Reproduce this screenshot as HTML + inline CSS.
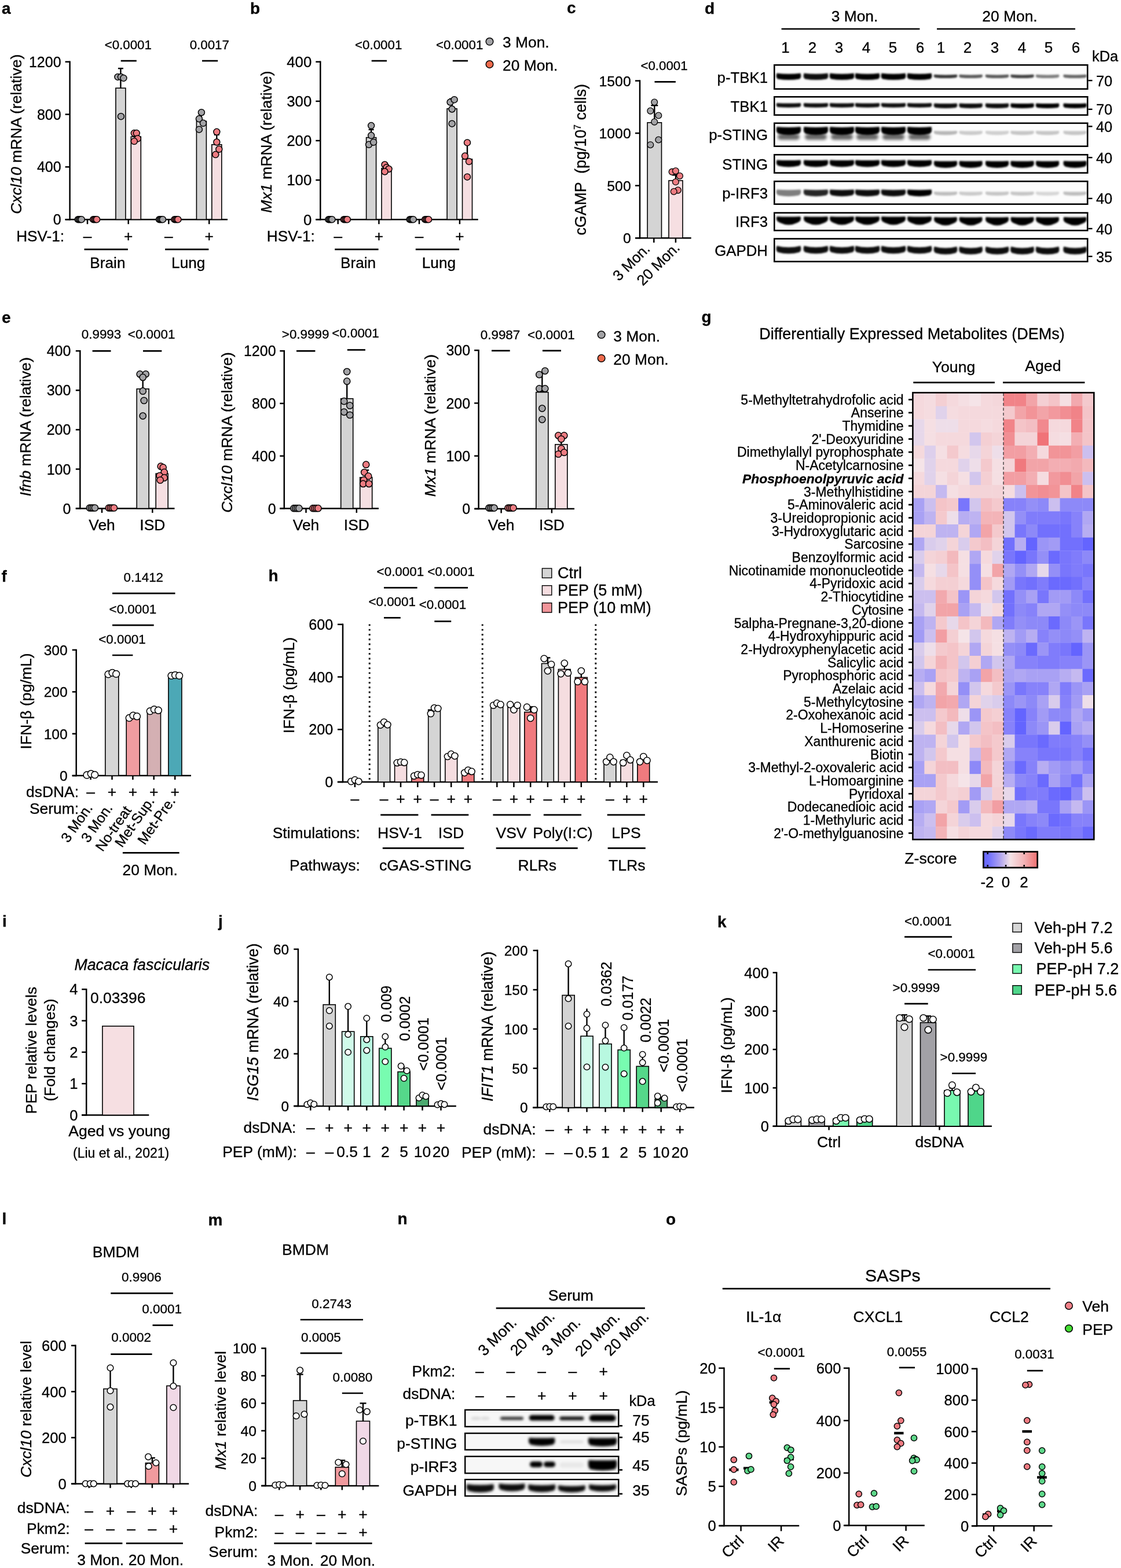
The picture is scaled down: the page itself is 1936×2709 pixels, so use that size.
<!DOCTYPE html><html><head><meta charset="utf-8"><title>Figure</title><style>html,body{margin:0;padding:0;background:#fff}svg{display:block}text{stroke:#000;stroke-width:0.3px}</style></head><body><svg width="1936" height="2709" viewBox="0 0 1936 2709" font-family="'Liberation Sans', Arial, Helvetica, sans-serif"><defs><filter id="bl" x="-30%" y="-100%" width="160%" height="300%"><feGaussianBlur stdDeviation="1.7"/></filter><filter id="bl3" x="-30%" y="-100%" width="160%" height="300%"><feGaussianBlur stdDeviation="2.1"/></filter><filter id="bl2" x="-30%" y="-100%" width="160%" height="300%"><feGaussianBlur stdDeviation="2.6"/></filter><linearGradient id="zg" x1="0" x2="1" y1="0" y2="0"><stop offset="0" stop-color="#6464ff"/><stop offset="0.1" stop-color="#7070ff"/><stop offset="0.3" stop-color="#aca0f0"/><stop offset="0.5" stop-color="#f5e3e6"/><stop offset="0.75" stop-color="#f3b3b6"/><stop offset="1" stop-color="#ef7070"/></linearGradient></defs><rect width="100%" height="100%" fill="#fff"/><text x="3.0" y="24.0" font-size="28" font-weight="bold">a</text>
<text x="432.0" y="24.0" font-size="28" font-weight="bold">b</text>
<text x="979.0" y="23.0" font-size="28" font-weight="bold">c</text>
<text x="1217.0" y="24.0" font-size="28" font-weight="bold">d</text>
<line x1="120.6" y1="105.5" x2="120.6" y2="380.4" stroke="#000" stroke-width="2.5"/>
<line x1="112.6" y1="379.2" x2="120.6" y2="379.2" stroke="#000" stroke-width="2.5"/>
<text x="105.6" y="388.2" font-size="25" text-anchor="end">0</text>
<line x1="112.6" y1="288.4" x2="120.6" y2="288.4" stroke="#000" stroke-width="2.5"/>
<text x="105.6" y="297.4" font-size="25" text-anchor="end">400</text>
<line x1="112.6" y1="197.6" x2="120.6" y2="197.6" stroke="#000" stroke-width="2.5"/>
<text x="105.6" y="206.6" font-size="25" text-anchor="end">800</text>
<line x1="112.6" y1="106.8" x2="120.6" y2="106.8" stroke="#000" stroke-width="2.5"/>
<text x="105.6" y="115.8" font-size="25" text-anchor="end">1200</text>
<line x1="112.6" y1="379.2" x2="393.0" y2="379.2" stroke="#000" stroke-width="2.5"/>
<line x1="151.0" y1="379.2" x2="151.0" y2="387.2" stroke="#000" stroke-width="2.5"/>
<line x1="221.7" y1="379.2" x2="221.7" y2="387.2" stroke="#000" stroke-width="2.5"/>
<line x1="291.3" y1="379.2" x2="291.3" y2="387.2" stroke="#000" stroke-width="2.5"/>
<line x1="361.2" y1="379.2" x2="361.2" y2="387.2" stroke="#000" stroke-width="2.5"/>
<circle cx="134.7" cy="379.2" r="5.5" fill="#a3a3a6" stroke="#000" stroke-width="1.5"/>
<circle cx="136.7" cy="379.2" r="5.5" fill="#a3a3a6" stroke="#000" stroke-width="1.5"/>
<circle cx="138.7" cy="379.2" r="5.5" fill="#a3a3a6" stroke="#000" stroke-width="1.5"/>
<circle cx="140.7" cy="379.2" r="5.5" fill="#a3a3a6" stroke="#000" stroke-width="1.5"/>
<circle cx="161.1" cy="379.2" r="5.5" fill="#ee7c82" stroke="#000" stroke-width="1.5"/>
<circle cx="163.1" cy="379.2" r="5.5" fill="#ee7c82" stroke="#000" stroke-width="1.5"/>
<circle cx="165.1" cy="379.2" r="5.5" fill="#ee7c82" stroke="#000" stroke-width="1.5"/>
<circle cx="167.1" cy="379.2" r="5.5" fill="#ee7c82" stroke="#000" stroke-width="1.5"/>
<rect x="199.9" y="152.2" width="17.0" height="227.0" fill="#d4d4d4" stroke="#000" stroke-width="1.6"/>
<line x1="208.4" y1="152.2" x2="208.4" y2="118.2" stroke="#000" stroke-width="2.4"/>
<line x1="203.9" y1="118.2" x2="212.9" y2="118.2" stroke="#000" stroke-width="2.4"/>
<circle cx="203.4" cy="132.9" r="5.5" fill="#a3a3a6" stroke="#000" stroke-width="1.5"/>
<circle cx="208.9" cy="132.9" r="5.5" fill="#a3a3a6" stroke="#000" stroke-width="1.5"/>
<circle cx="213.4" cy="134.9" r="5.5" fill="#a3a3a6" stroke="#000" stroke-width="1.5"/>
<circle cx="208.9" cy="201.2" r="5.5" fill="#a3a3a6" stroke="#000" stroke-width="1.5"/>
<rect x="226.3" y="236.2" width="17.0" height="143.0" fill="#f6dfe2" stroke="#000" stroke-width="1.6"/>
<line x1="234.8" y1="236.2" x2="234.8" y2="230.5" stroke="#000" stroke-width="2.4"/>
<line x1="230.3" y1="230.5" x2="239.3" y2="230.5" stroke="#000" stroke-width="2.4"/>
<circle cx="231.8" cy="230.1" r="5.5" fill="#ee7c82" stroke="#000" stroke-width="1.5"/>
<circle cx="235.8" cy="230.1" r="5.5" fill="#ee7c82" stroke="#000" stroke-width="1.5"/>
<circle cx="237.8" cy="239.4" r="5.5" fill="#ee7c82" stroke="#000" stroke-width="1.5"/>
<circle cx="231.8" cy="244.1" r="5.5" fill="#ee7c82" stroke="#000" stroke-width="1.5"/>
<circle cx="275.0" cy="379.2" r="5.5" fill="#a3a3a6" stroke="#000" stroke-width="1.5"/>
<circle cx="277.0" cy="379.2" r="5.5" fill="#a3a3a6" stroke="#000" stroke-width="1.5"/>
<circle cx="279.0" cy="379.2" r="5.5" fill="#a3a3a6" stroke="#000" stroke-width="1.5"/>
<circle cx="281.0" cy="379.2" r="5.5" fill="#a3a3a6" stroke="#000" stroke-width="1.5"/>
<circle cx="301.4" cy="379.2" r="5.5" fill="#ee7c82" stroke="#000" stroke-width="1.5"/>
<circle cx="303.4" cy="379.2" r="5.5" fill="#ee7c82" stroke="#000" stroke-width="1.5"/>
<circle cx="305.4" cy="379.2" r="5.5" fill="#ee7c82" stroke="#000" stroke-width="1.5"/>
<circle cx="307.4" cy="379.2" r="5.5" fill="#ee7c82" stroke="#000" stroke-width="1.5"/>
<rect x="339.4" y="209.4" width="17.0" height="169.8" fill="#d4d4d4" stroke="#000" stroke-width="1.6"/>
<line x1="347.9" y1="209.4" x2="347.9" y2="198.1" stroke="#000" stroke-width="2.4"/>
<line x1="343.4" y1="198.1" x2="352.4" y2="198.1" stroke="#000" stroke-width="2.4"/>
<circle cx="347.9" cy="194.2" r="5.5" fill="#a3a3a6" stroke="#000" stroke-width="1.5"/>
<circle cx="343.9" cy="205.3" r="5.5" fill="#a3a3a6" stroke="#000" stroke-width="1.5"/>
<circle cx="350.9" cy="212.8" r="5.5" fill="#a3a3a6" stroke="#000" stroke-width="1.5"/>
<circle cx="343.9" cy="223.7" r="5.5" fill="#a3a3a6" stroke="#000" stroke-width="1.5"/>
<rect x="365.8" y="249.8" width="17.0" height="129.4" fill="#f6dfe2" stroke="#000" stroke-width="1.6"/>
<line x1="374.3" y1="249.8" x2="374.3" y2="232.8" stroke="#000" stroke-width="2.4"/>
<line x1="369.8" y1="232.8" x2="378.8" y2="232.8" stroke="#000" stroke-width="2.4"/>
<circle cx="374.3" cy="227.8" r="5.5" fill="#ee7c82" stroke="#000" stroke-width="1.5"/>
<circle cx="374.3" cy="245.5" r="5.5" fill="#ee7c82" stroke="#000" stroke-width="1.5"/>
<circle cx="378.3" cy="257.8" r="5.5" fill="#ee7c82" stroke="#000" stroke-width="1.5"/>
<circle cx="372.3" cy="267.1" r="5.5" fill="#ee7c82" stroke="#000" stroke-width="1.5"/>
<text x="111.1" y="416.5" font-size="26.2" text-anchor="end">HSV-1:</text>
<text x="151.0" y="416.5" font-size="26.2" text-anchor="middle">–</text>
<text x="221.7" y="416.5" font-size="26.2" text-anchor="middle">+</text>
<text x="291.3" y="416.5" font-size="26.2" text-anchor="middle">–</text>
<text x="361.2" y="416.5" font-size="26.2" text-anchor="middle">+</text>
<line x1="145.5" y1="430.9" x2="220.9" y2="430.9" stroke="#000" stroke-width="2.7"/>
<line x1="285.1" y1="430.9" x2="360.4" y2="430.9" stroke="#000" stroke-width="2.7"/>
<text x="185.9" y="463.4" font-size="26.2" text-anchor="middle">Brain</text>
<text x="325.2" y="463.4" font-size="26.2" text-anchor="middle">Lung</text>
<text x="36.7" y="231.7" font-size="26.6" text-anchor="middle" transform="rotate(-90 36.7 231.7)"><tspan font-style="italic">Cxcl10</tspan> mRNA (relative)</text>
<text x="221.3" y="85.4" font-size="22.3" text-anchor="middle">&lt;0.0001</text>
<line x1="208.7" y1="105.1" x2="235.8" y2="105.1" stroke="#000" stroke-width="2.7"/>
<text x="361.8" y="85.4" font-size="22.3" text-anchor="middle">0.0017</text>
<line x1="349.0" y1="105.1" x2="376.2" y2="105.1" stroke="#000" stroke-width="2.7"/>
<line x1="553.3" y1="105.5" x2="553.3" y2="380.4" stroke="#000" stroke-width="2.5"/>
<line x1="545.3" y1="379.2" x2="553.3" y2="379.2" stroke="#000" stroke-width="2.5"/>
<text x="538.3" y="388.5" font-size="25.8" text-anchor="end">0</text>
<line x1="545.3" y1="311.1" x2="553.3" y2="311.1" stroke="#000" stroke-width="2.5"/>
<text x="538.3" y="320.4" font-size="25.8" text-anchor="end">100</text>
<line x1="545.3" y1="243.0" x2="553.3" y2="243.0" stroke="#000" stroke-width="2.5"/>
<text x="538.3" y="252.3" font-size="25.8" text-anchor="end">200</text>
<line x1="545.3" y1="174.9" x2="553.3" y2="174.9" stroke="#000" stroke-width="2.5"/>
<text x="538.3" y="184.2" font-size="25.8" text-anchor="end">300</text>
<line x1="545.3" y1="106.8" x2="553.3" y2="106.8" stroke="#000" stroke-width="2.5"/>
<text x="538.3" y="116.1" font-size="25.8" text-anchor="end">400</text>
<line x1="545.3" y1="379.2" x2="825.7" y2="379.2" stroke="#000" stroke-width="2.5"/>
<line x1="583.7" y1="379.2" x2="583.7" y2="387.2" stroke="#000" stroke-width="2.5"/>
<line x1="654.4" y1="379.2" x2="654.4" y2="387.2" stroke="#000" stroke-width="2.5"/>
<line x1="724.0" y1="379.2" x2="724.0" y2="387.2" stroke="#000" stroke-width="2.5"/>
<line x1="793.9" y1="379.2" x2="793.9" y2="387.2" stroke="#000" stroke-width="2.5"/>
<circle cx="567.4" cy="379.2" r="5.5" fill="#a3a3a6" stroke="#000" stroke-width="1.5"/>
<circle cx="569.4" cy="379.2" r="5.5" fill="#a3a3a6" stroke="#000" stroke-width="1.5"/>
<circle cx="571.4" cy="379.2" r="5.5" fill="#a3a3a6" stroke="#000" stroke-width="1.5"/>
<circle cx="573.4" cy="379.2" r="5.5" fill="#a3a3a6" stroke="#000" stroke-width="1.5"/>
<circle cx="593.8" cy="379.2" r="5.5" fill="#ee7c82" stroke="#000" stroke-width="1.5"/>
<circle cx="595.8" cy="379.2" r="5.5" fill="#ee7c82" stroke="#000" stroke-width="1.5"/>
<circle cx="597.8" cy="379.2" r="5.5" fill="#ee7c82" stroke="#000" stroke-width="1.5"/>
<circle cx="599.8" cy="379.2" r="5.5" fill="#ee7c82" stroke="#000" stroke-width="1.5"/>
<rect x="632.6" y="237.6" width="17.0" height="141.6" fill="#d4d4d4" stroke="#000" stroke-width="1.6"/>
<line x1="641.1" y1="237.6" x2="641.1" y2="223.9" stroke="#000" stroke-width="2.4"/>
<line x1="636.6" y1="223.9" x2="645.6" y2="223.9" stroke="#000" stroke-width="2.4"/>
<circle cx="641.1" cy="217.1" r="5.5" fill="#a3a3a6" stroke="#000" stroke-width="1.5"/>
<circle cx="641.1" cy="234.1" r="5.5" fill="#a3a3a6" stroke="#000" stroke-width="1.5"/>
<circle cx="637.1" cy="249.8" r="5.5" fill="#a3a3a6" stroke="#000" stroke-width="1.5"/>
<circle cx="645.1" cy="245.7" r="5.5" fill="#a3a3a6" stroke="#000" stroke-width="1.5"/>
<rect x="659.0" y="290.7" width="17.0" height="88.5" fill="#f6dfe2" stroke="#000" stroke-width="1.6"/>
<line x1="667.5" y1="290.7" x2="667.5" y2="285.2" stroke="#000" stroke-width="2.4"/>
<line x1="663.0" y1="285.2" x2="672.0" y2="285.2" stroke="#000" stroke-width="2.4"/>
<circle cx="664.5" cy="284.5" r="5.5" fill="#ee7c82" stroke="#000" stroke-width="1.5"/>
<circle cx="667.5" cy="289.3" r="5.5" fill="#ee7c82" stroke="#000" stroke-width="1.5"/>
<circle cx="671.5" cy="292.0" r="5.5" fill="#ee7c82" stroke="#000" stroke-width="1.5"/>
<circle cx="664.5" cy="296.5" r="5.5" fill="#ee7c82" stroke="#000" stroke-width="1.5"/>
<circle cx="707.7" cy="379.2" r="5.5" fill="#a3a3a6" stroke="#000" stroke-width="1.5"/>
<circle cx="709.7" cy="379.2" r="5.5" fill="#a3a3a6" stroke="#000" stroke-width="1.5"/>
<circle cx="711.7" cy="379.2" r="5.5" fill="#a3a3a6" stroke="#000" stroke-width="1.5"/>
<circle cx="713.7" cy="379.2" r="5.5" fill="#a3a3a6" stroke="#000" stroke-width="1.5"/>
<circle cx="734.1" cy="379.2" r="5.5" fill="#ee7c82" stroke="#000" stroke-width="1.5"/>
<circle cx="736.1" cy="379.2" r="5.5" fill="#ee7c82" stroke="#000" stroke-width="1.5"/>
<circle cx="738.1" cy="379.2" r="5.5" fill="#ee7c82" stroke="#000" stroke-width="1.5"/>
<circle cx="740.1" cy="379.2" r="5.5" fill="#ee7c82" stroke="#000" stroke-width="1.5"/>
<rect x="772.1" y="187.8" width="17.0" height="191.4" fill="#d4d4d4" stroke="#000" stroke-width="1.6"/>
<line x1="780.6" y1="187.8" x2="780.6" y2="170.8" stroke="#000" stroke-width="2.4"/>
<line x1="776.1" y1="170.8" x2="785.1" y2="170.8" stroke="#000" stroke-width="2.4"/>
<circle cx="777.6" cy="176.5" r="5.5" fill="#a3a3a6" stroke="#000" stroke-width="1.5"/>
<circle cx="784.6" cy="172.2" r="5.5" fill="#a3a3a6" stroke="#000" stroke-width="1.5"/>
<circle cx="780.6" cy="188.5" r="5.5" fill="#a3a3a6" stroke="#000" stroke-width="1.5"/>
<circle cx="780.6" cy="213.7" r="5.5" fill="#a3a3a6" stroke="#000" stroke-width="1.5"/>
<rect x="798.5" y="275.0" width="17.0" height="104.2" fill="#f6dfe2" stroke="#000" stroke-width="1.6"/>
<line x1="807.0" y1="275.0" x2="807.0" y2="249.1" stroke="#000" stroke-width="2.4"/>
<line x1="802.5" y1="249.1" x2="811.5" y2="249.1" stroke="#000" stroke-width="2.4"/>
<circle cx="807.0" cy="246.4" r="5.5" fill="#ee7c82" stroke="#000" stroke-width="1.5"/>
<circle cx="803.0" cy="269.6" r="5.5" fill="#ee7c82" stroke="#000" stroke-width="1.5"/>
<circle cx="810.0" cy="279.1" r="5.5" fill="#ee7c82" stroke="#000" stroke-width="1.5"/>
<circle cx="807.0" cy="305.7" r="5.5" fill="#ee7c82" stroke="#000" stroke-width="1.5"/>
<text x="543.8" y="416.5" font-size="26.2" text-anchor="end">HSV-1:</text>
<text x="583.7" y="416.5" font-size="26.2" text-anchor="middle">–</text>
<text x="654.4" y="416.5" font-size="26.2" text-anchor="middle">+</text>
<text x="724.0" y="416.5" font-size="26.2" text-anchor="middle">–</text>
<text x="793.9" y="416.5" font-size="26.2" text-anchor="middle">+</text>
<line x1="578.2" y1="430.9" x2="653.6" y2="430.9" stroke="#000" stroke-width="2.7"/>
<line x1="717.8" y1="430.9" x2="793.1" y2="430.9" stroke="#000" stroke-width="2.7"/>
<text x="618.6" y="463.4" font-size="26.2" text-anchor="middle">Brain</text>
<text x="757.9" y="463.4" font-size="26.2" text-anchor="middle">Lung</text>
<text x="469.4" y="245.0" font-size="26.6" text-anchor="middle" transform="rotate(-90 469.4 245.0)"><tspan font-style="italic">Mx1</tspan> mRNA (relative)</text>
<text x="653.7" y="85.4" font-size="22.3" text-anchor="middle">&lt;0.0001</text>
<line x1="641.7" y1="105.1" x2="668.0" y2="105.1" stroke="#000" stroke-width="2.7"/>
<text x="793.7" y="85.4" font-size="22.3" text-anchor="middle">&lt;0.0001</text>
<line x1="781.8" y1="105.1" x2="808.1" y2="105.1" stroke="#000" stroke-width="2.7"/>
<circle cx="845.5" cy="71.8" r="6.3" fill="#a3a3a6" stroke="#000" stroke-width="1.5"/>
<circle cx="845.5" cy="111.1" r="6.3" fill="#ee6a4c" stroke="#000" stroke-width="1.5"/>
<text x="868.0" y="82.0" font-size="26.4">3 Mon.</text>
<text x="868.0" y="122.0" font-size="26.4">20 Mon.</text>
<line x1="1105.0" y1="138.3" x2="1105.0" y2="412.4" stroke="#000" stroke-width="2.5"/>
<line x1="1097.0" y1="411.2" x2="1105.0" y2="411.2" stroke="#000" stroke-width="2.5"/>
<text x="1089.7" y="420.1" font-size="24.8" text-anchor="end">0</text>
<line x1="1097.0" y1="320.7" x2="1105.0" y2="320.7" stroke="#000" stroke-width="2.5"/>
<text x="1089.7" y="329.6" font-size="24.8" text-anchor="end">500</text>
<line x1="1097.0" y1="230.1" x2="1105.0" y2="230.1" stroke="#000" stroke-width="2.5"/>
<text x="1089.7" y="239.1" font-size="24.8" text-anchor="end">1000</text>
<line x1="1097.0" y1="139.6" x2="1105.0" y2="139.6" stroke="#000" stroke-width="2.5"/>
<text x="1089.7" y="148.5" font-size="24.8" text-anchor="end">1500</text>
<line x1="1097.0" y1="411.2" x2="1193.7" y2="411.2" stroke="#000" stroke-width="2.5"/>
<line x1="1129.3" y1="411.2" x2="1129.3" y2="419.2" stroke="#000" stroke-width="2.5"/>
<line x1="1166.9" y1="411.2" x2="1166.9" y2="419.2" stroke="#000" stroke-width="2.5"/>
<rect x="1118.1" y="211.8" width="24.4" height="199.4" fill="#d4d4d4" stroke="#000" stroke-width="1.6"/>
<line x1="1130.3" y1="211.8" x2="1130.3" y2="182.2" stroke="#000" stroke-width="2.4"/>
<line x1="1124.3" y1="182.2" x2="1136.3" y2="182.2" stroke="#000" stroke-width="2.4"/>
<circle cx="1130.2" cy="176.5" r="5.4" fill="#a3a3a6" stroke="#000" stroke-width="1.3"/>
<circle cx="1123.3" cy="191.6" r="5.4" fill="#a3a3a6" stroke="#000" stroke-width="1.3"/>
<circle cx="1137.3" cy="199.5" r="5.4" fill="#a3a3a6" stroke="#000" stroke-width="1.3"/>
<circle cx="1130.2" cy="210.6" r="5.4" fill="#a3a3a6" stroke="#000" stroke-width="1.3"/>
<circle cx="1137.3" cy="241.5" r="5.4" fill="#a3a3a6" stroke="#000" stroke-width="1.3"/>
<circle cx="1123.3" cy="250.2" r="5.4" fill="#a3a3a6" stroke="#000" stroke-width="1.3"/>
<rect x="1155.0" y="312.0" width="24.0" height="99.2" fill="#f6dfe2" stroke="#000" stroke-width="1.6"/>
<line x1="1167.0" y1="312.0" x2="1167.0" y2="302.4" stroke="#000" stroke-width="2.4"/>
<line x1="1161.0" y1="302.4" x2="1173.0" y2="302.4" stroke="#000" stroke-width="2.4"/>
<circle cx="1160.6" cy="296.9" r="5.4" fill="#ee7c82" stroke="#000" stroke-width="1.3"/>
<circle cx="1166.9" cy="295.3" r="5.4" fill="#ee7c82" stroke="#000" stroke-width="1.3"/>
<circle cx="1174.0" cy="304.0" r="5.4" fill="#ee7c82" stroke="#000" stroke-width="1.3"/>
<circle cx="1166.9" cy="314.3" r="5.4" fill="#ee7c82" stroke="#000" stroke-width="1.3"/>
<circle cx="1170.9" cy="328.6" r="5.4" fill="#ee7c82" stroke="#000" stroke-width="1.3"/>
<circle cx="1163.7" cy="331.0" r="5.4" fill="#ee7c82" stroke="#000" stroke-width="1.3"/>
<text x="1147.0" y="121.0" font-size="22.3" text-anchor="middle">&lt;0.0001</text>
<line x1="1130.5" y1="141.4" x2="1166.9" y2="141.4" stroke="#000" stroke-width="2.7"/>
<text x="1012.5" y="275.8" font-size="26.8" text-anchor="middle" transform="rotate(-90 1012.5 275.8)" xml:space="preserve">cGAMP  (pg/10<tspan dy="-9" font-size="16">7</tspan><tspan dy="9"> cells)</tspan></text>
<text x="1124.0" y="431.5" font-size="25.5" text-anchor="end" transform="rotate(-45 1124.0 431.5)">3 Mon.</text>
<text x="1175.5" y="429.5" font-size="25.5" text-anchor="end" transform="rotate(-45 1175.5 429.5)">20 Mon.</text>
<text x="1476.0" y="37.0" font-size="26.4" text-anchor="middle">3 Mon.</text>
<text x="1744.0" y="37.0" font-size="26.4" text-anchor="middle">20 Mon.</text>
<line x1="1349.6" y1="50.0" x2="1588.4" y2="50.0" stroke="#000" stroke-width="2.7"/>
<line x1="1618.0" y1="50.0" x2="1857.0" y2="50.0" stroke="#000" stroke-width="2.7"/>
<text x="1356.4" y="90.6" font-size="26" text-anchor="middle">1</text>
<text x="1403.0" y="90.6" font-size="26" text-anchor="middle">2</text>
<text x="1449.0" y="90.6" font-size="26" text-anchor="middle">3</text>
<text x="1496.0" y="90.6" font-size="26" text-anchor="middle">4</text>
<text x="1542.0" y="90.6" font-size="26" text-anchor="middle">5</text>
<text x="1589.0" y="90.6" font-size="26" text-anchor="middle">6</text>
<text x="1625.0" y="90.6" font-size="26" text-anchor="middle">1</text>
<text x="1671.0" y="90.6" font-size="26" text-anchor="middle">2</text>
<text x="1718.0" y="90.6" font-size="26" text-anchor="middle">3</text>
<text x="1765.0" y="90.6" font-size="26" text-anchor="middle">4</text>
<text x="1811.0" y="90.6" font-size="26" text-anchor="middle">5</text>
<text x="1858.0" y="90.6" font-size="26" text-anchor="middle">6</text>
<text x="1886.0" y="106.0" font-size="25.4">kDa</text>
<rect x="1337.3" y="112.3" width="540.9" height="41.4" fill="#fcfcfc" stroke="#000" stroke-width="2.6"/>
<path d="M1341.5,126.5 Q1362.0,128.9 1382.5,126.5 Q1385.0,134.0 1380.5,136.5 Q1362.0,139.5 1343.5,136.5 Q1339.0,134.0 1341.5,126.5 Z" fill="#000" fill-opacity="1.00" filter="url(#bl)"/>
<path d="M1613.5,128.8 Q1633.0,130.1 1652.5,128.8 Q1655.0,132.9 1650.5,134.2 Q1633.0,135.9 1615.5,134.2 Q1611.0,132.9 1613.5,128.8 Z" fill="#000" fill-opacity="0.80" filter="url(#bl)"/>
<path d="M1388.5,126.5 Q1409.0,128.9 1429.5,126.5 Q1432.0,134.0 1427.5,136.5 Q1409.0,139.5 1390.5,136.5 Q1386.0,134.0 1388.5,126.5 Z" fill="#000" fill-opacity="0.95" filter="url(#bl)"/>
<path d="M1657.1,128.8 Q1676.6,130.1 1696.1,128.8 Q1698.6,132.9 1694.1,134.2 Q1676.6,135.9 1659.1,134.2 Q1654.6,132.9 1657.1,128.8 Z" fill="#000" fill-opacity="0.65" filter="url(#bl)"/>
<path d="M1433.5,126.5 Q1454.0,128.9 1474.5,126.5 Q1477.0,134.0 1472.5,136.5 Q1454.0,139.5 1435.5,136.5 Q1431.0,134.0 1433.5,126.5 Z" fill="#000" fill-opacity="1.00" filter="url(#bl)"/>
<path d="M1702.5,128.8 Q1722.0,130.1 1741.5,128.8 Q1744.0,132.9 1739.5,134.2 Q1722.0,135.9 1704.5,134.2 Q1700.0,132.9 1702.5,128.8 Z" fill="#000" fill-opacity="0.65" filter="url(#bl)"/>
<path d="M1477.5,126.5 Q1498.0,128.9 1518.5,126.5 Q1521.0,134.0 1516.5,136.5 Q1498.0,139.5 1479.5,136.5 Q1475.0,134.0 1477.5,126.5 Z" fill="#000" fill-opacity="1.00" filter="url(#bl)"/>
<path d="M1746.0,128.8 Q1765.5,130.1 1785.0,128.8 Q1787.5,132.9 1783.0,134.2 Q1765.5,135.9 1748.0,134.2 Q1743.5,132.9 1746.0,128.8 Z" fill="#000" fill-opacity="0.75" filter="url(#bl)"/>
<path d="M1522.5,126.5 Q1543.0,128.9 1563.5,126.5 Q1566.0,134.0 1561.5,136.5 Q1543.0,139.5 1524.5,136.5 Q1520.0,134.0 1522.5,126.5 Z" fill="#000" fill-opacity="1.00" filter="url(#bl)"/>
<path d="M1789.5,128.8 Q1809.0,130.1 1828.5,128.8 Q1831.0,132.9 1826.5,134.2 Q1809.0,135.9 1791.5,134.2 Q1787.0,132.9 1789.5,128.8 Z" fill="#000" fill-opacity="0.50" filter="url(#bl)"/>
<path d="M1567.5,126.5 Q1588.0,128.9 1608.5,126.5 Q1611.0,134.0 1606.5,136.5 Q1588.0,139.5 1569.5,136.5 Q1565.0,134.0 1567.5,126.5 Z" fill="#000" fill-opacity="1.00" filter="url(#bl)"/>
<path d="M1837.1,128.8 Q1856.6,130.1 1876.1,128.8 Q1878.6,132.9 1874.1,134.2 Q1856.6,135.9 1839.1,134.2 Q1834.6,132.9 1837.1,128.8 Z" fill="#000" fill-opacity="0.60" filter="url(#bl)"/>
<text x="1326.0" y="142.5" font-size="25.8" text-anchor="end">p-TBK1</text>
<line x1="1879.5" y1="139.1" x2="1886.5" y2="139.1" stroke="#000" stroke-width="2.4"/>
<text x="1893.0" y="148.6" font-size="25.4">70</text>
<rect x="1337.3" y="167.3" width="540.9" height="31.4" fill="#fcfcfc" stroke="#000" stroke-width="2.6"/>
<path d="M1341.5,178.0 Q1362.0,179.0 1382.5,178.0 Q1385.0,183.2 1380.5,185.0 Q1362.0,186.6 1343.5,185.0 Q1339.0,183.2 1341.5,178.0 Z" fill="#000" fill-opacity="0.95" filter="url(#bl)"/>
<path d="M1613.5,178.6 Q1633.0,179.6 1652.5,178.6 Q1655.0,184.2 1650.5,186.1 Q1633.0,187.8 1615.5,186.1 Q1611.0,184.2 1613.5,178.6 Z" fill="#000" fill-opacity="0.95" filter="url(#bl)"/>
<path d="M1388.5,178.0 Q1409.0,179.0 1429.5,178.0 Q1432.0,183.2 1427.5,185.0 Q1409.0,186.6 1390.5,185.0 Q1386.0,183.2 1388.5,178.0 Z" fill="#000" fill-opacity="0.95" filter="url(#bl)"/>
<path d="M1657.1,178.6 Q1676.6,179.6 1696.1,178.6 Q1698.6,184.2 1694.1,186.1 Q1676.6,187.8 1659.1,186.1 Q1654.6,184.2 1657.1,178.6 Z" fill="#000" fill-opacity="0.95" filter="url(#bl)"/>
<path d="M1433.5,178.0 Q1454.0,179.0 1474.5,178.0 Q1477.0,183.2 1472.5,185.0 Q1454.0,186.6 1435.5,185.0 Q1431.0,183.2 1433.5,178.0 Z" fill="#000" fill-opacity="0.95" filter="url(#bl)"/>
<path d="M1702.5,178.6 Q1722.0,179.6 1741.5,178.6 Q1744.0,184.2 1739.5,186.1 Q1722.0,187.8 1704.5,186.1 Q1700.0,184.2 1702.5,178.6 Z" fill="#000" fill-opacity="0.95" filter="url(#bl)"/>
<path d="M1477.5,178.0 Q1498.0,179.0 1518.5,178.0 Q1521.0,183.2 1516.5,185.0 Q1498.0,186.6 1479.5,185.0 Q1475.0,183.2 1477.5,178.0 Z" fill="#000" fill-opacity="0.95" filter="url(#bl)"/>
<path d="M1746.0,178.6 Q1765.5,179.6 1785.0,178.6 Q1787.5,184.2 1783.0,186.1 Q1765.5,187.8 1748.0,186.1 Q1743.5,184.2 1746.0,178.6 Z" fill="#000" fill-opacity="1.00" filter="url(#bl)"/>
<path d="M1522.5,178.0 Q1543.0,179.0 1563.5,178.0 Q1566.0,183.2 1561.5,185.0 Q1543.0,186.6 1524.5,185.0 Q1520.0,183.2 1522.5,178.0 Z" fill="#000" fill-opacity="0.95" filter="url(#bl)"/>
<path d="M1789.5,178.6 Q1809.0,179.6 1828.5,178.6 Q1831.0,184.2 1826.5,186.1 Q1809.0,187.8 1791.5,186.1 Q1787.0,184.2 1789.5,178.6 Z" fill="#000" fill-opacity="1.00" filter="url(#bl)"/>
<path d="M1567.5,178.0 Q1588.0,179.0 1608.5,178.0 Q1611.0,183.2 1606.5,185.0 Q1588.0,186.6 1569.5,185.0 Q1565.0,183.2 1567.5,178.0 Z" fill="#000" fill-opacity="0.95" filter="url(#bl)"/>
<path d="M1837.1,178.6 Q1856.6,179.6 1876.1,178.6 Q1878.6,184.2 1874.1,186.1 Q1856.6,187.8 1839.1,186.1 Q1834.6,184.2 1837.1,178.6 Z" fill="#000" fill-opacity="1.00" filter="url(#bl)"/>
<text x="1326.0" y="192.5" font-size="25.8" text-anchor="end">TBK1</text>
<line x1="1879.5" y1="188.8" x2="1886.5" y2="188.8" stroke="#000" stroke-width="2.4"/>
<text x="1893.0" y="198.3" font-size="25.4">70</text>
<rect x="1337.3" y="212.8" width="540.9" height="39.9" fill="#fcfcfc" stroke="#000" stroke-width="2.6"/>
<path d="M1341.5,219.0 Q1362.0,221.0 1382.5,219.0 Q1385.0,228.0 1379.5,231.0 Q1362.0,236.0 1344.5,231.0 Q1339.0,228.0 1341.5,219.0 Z" fill="#000" fill-opacity="1.00" filter="url(#bl)"/>
<path d="M1613.5,226.0 Q1633.0,227.0 1652.5,226.0 Q1655.0,230.5 1649.5,232.0 Q1633.0,234.5 1616.5,232.0 Q1611.0,230.5 1613.5,226.0 Z" fill="#000" fill-opacity="0.28" filter="url(#bl)"/>
<path d="M1388.5,219.0 Q1409.0,221.0 1429.5,219.0 Q1432.0,228.0 1426.5,231.0 Q1409.0,236.0 1391.5,231.0 Q1386.0,228.0 1388.5,219.0 Z" fill="#000" fill-opacity="1.00" filter="url(#bl)"/>
<path d="M1657.1,226.0 Q1676.6,227.0 1696.1,226.0 Q1698.6,230.5 1693.1,232.0 Q1676.6,234.5 1660.1,232.0 Q1654.6,230.5 1657.1,226.0 Z" fill="#000" fill-opacity="0.20" filter="url(#bl)"/>
<path d="M1433.5,219.0 Q1454.0,221.0 1474.5,219.0 Q1477.0,228.0 1471.5,231.0 Q1454.0,236.0 1436.5,231.0 Q1431.0,228.0 1433.5,219.0 Z" fill="#000" fill-opacity="1.00" filter="url(#bl)"/>
<path d="M1702.5,226.0 Q1722.0,227.0 1741.5,226.0 Q1744.0,230.5 1738.5,232.0 Q1722.0,234.5 1705.5,232.0 Q1700.0,230.5 1702.5,226.0 Z" fill="#000" fill-opacity="0.18" filter="url(#bl)"/>
<path d="M1477.5,219.0 Q1498.0,221.0 1518.5,219.0 Q1521.0,228.0 1515.5,231.0 Q1498.0,236.0 1480.5,231.0 Q1475.0,228.0 1477.5,219.0 Z" fill="#000" fill-opacity="1.00" filter="url(#bl)"/>
<path d="M1746.0,226.0 Q1765.5,227.0 1785.0,226.0 Q1787.5,230.5 1782.0,232.0 Q1765.5,234.5 1749.0,232.0 Q1743.5,230.5 1746.0,226.0 Z" fill="#000" fill-opacity="0.22" filter="url(#bl)"/>
<path d="M1522.5,219.0 Q1543.0,221.0 1563.5,219.0 Q1566.0,228.0 1560.5,231.0 Q1543.0,236.0 1525.5,231.0 Q1520.0,228.0 1522.5,219.0 Z" fill="#000" fill-opacity="1.00" filter="url(#bl)"/>
<path d="M1789.5,226.0 Q1809.0,227.0 1828.5,226.0 Q1831.0,230.5 1825.5,232.0 Q1809.0,234.5 1792.5,232.0 Q1787.0,230.5 1789.5,226.0 Z" fill="#000" fill-opacity="0.22" filter="url(#bl)"/>
<path d="M1567.5,219.0 Q1588.0,221.0 1608.5,219.0 Q1611.0,228.0 1605.5,231.0 Q1588.0,236.0 1570.5,231.0 Q1565.0,228.0 1567.5,219.0 Z" fill="#000" fill-opacity="1.00" filter="url(#bl)"/>
<path d="M1837.1,226.0 Q1856.6,227.0 1876.1,226.0 Q1878.6,230.5 1873.1,232.0 Q1856.6,234.5 1840.1,232.0 Q1834.6,230.5 1837.1,226.0 Z" fill="#000" fill-opacity="0.22" filter="url(#bl)"/>
<rect x="1343.0" y="231.5" width="38.0" height="10.0" rx="5.0" fill="#000" fill-opacity="0.60" filter="url(#bl2)"/>
<rect x="1390.0" y="231.5" width="38.0" height="10.0" rx="5.0" fill="#000" fill-opacity="0.60" filter="url(#bl2)"/>
<rect x="1435.0" y="231.5" width="38.0" height="10.0" rx="5.0" fill="#000" fill-opacity="0.60" filter="url(#bl2)"/>
<rect x="1479.0" y="231.5" width="38.0" height="10.0" rx="5.0" fill="#000" fill-opacity="0.60" filter="url(#bl2)"/>
<rect x="1524.0" y="231.5" width="38.0" height="10.0" rx="5.0" fill="#000" fill-opacity="0.60" filter="url(#bl2)"/>
<rect x="1569.0" y="231.5" width="38.0" height="10.0" rx="5.0" fill="#000" fill-opacity="0.60" filter="url(#bl2)"/>
<text x="1326.0" y="242.2" font-size="25.8" text-anchor="end">p-STING</text>
<line x1="1879.5" y1="218.4" x2="1886.5" y2="218.4" stroke="#000" stroke-width="2.4"/>
<text x="1893.0" y="227.9" font-size="25.4">40</text>
<rect x="1337.3" y="267.3" width="540.9" height="31.4" fill="#fcfcfc" stroke="#000" stroke-width="2.6"/>
<path d="M1341.5,276.5 Q1362.0,277.5 1382.5,276.5 Q1385.0,284.0 1379.5,286.5 Q1362.0,290.5 1344.5,286.5 Q1339.0,284.0 1341.5,276.5 Z" fill="#000" fill-opacity="1.00" filter="url(#bl)"/>
<path d="M1613.5,278.0 Q1633.0,279.0 1652.5,278.0 Q1655.0,285.5 1649.5,288.0 Q1633.0,292.0 1616.5,288.0 Q1611.0,285.5 1613.5,278.0 Z" fill="#000" fill-opacity="1.00" filter="url(#bl)"/>
<path d="M1388.5,276.5 Q1409.0,277.5 1429.5,276.5 Q1432.0,284.0 1426.5,286.5 Q1409.0,290.5 1391.5,286.5 Q1386.0,284.0 1388.5,276.5 Z" fill="#000" fill-opacity="1.00" filter="url(#bl)"/>
<path d="M1657.1,278.0 Q1676.6,279.0 1696.1,278.0 Q1698.6,285.5 1693.1,288.0 Q1676.6,292.0 1660.1,288.0 Q1654.6,285.5 1657.1,278.0 Z" fill="#000" fill-opacity="1.00" filter="url(#bl)"/>
<path d="M1433.5,276.5 Q1454.0,277.5 1474.5,276.5 Q1477.0,284.0 1471.5,286.5 Q1454.0,290.5 1436.5,286.5 Q1431.0,284.0 1433.5,276.5 Z" fill="#000" fill-opacity="1.00" filter="url(#bl)"/>
<path d="M1702.5,278.0 Q1722.0,279.0 1741.5,278.0 Q1744.0,285.5 1738.5,288.0 Q1722.0,292.0 1705.5,288.0 Q1700.0,285.5 1702.5,278.0 Z" fill="#000" fill-opacity="1.00" filter="url(#bl)"/>
<path d="M1477.5,276.5 Q1498.0,277.5 1518.5,276.5 Q1521.0,284.0 1515.5,286.5 Q1498.0,290.5 1480.5,286.5 Q1475.0,284.0 1477.5,276.5 Z" fill="#000" fill-opacity="1.00" filter="url(#bl)"/>
<path d="M1746.0,278.0 Q1765.5,279.0 1785.0,278.0 Q1787.5,285.5 1782.0,288.0 Q1765.5,292.0 1749.0,288.0 Q1743.5,285.5 1746.0,278.0 Z" fill="#000" fill-opacity="1.00" filter="url(#bl)"/>
<path d="M1522.5,276.5 Q1543.0,277.5 1563.5,276.5 Q1566.0,284.0 1560.5,286.5 Q1543.0,290.5 1525.5,286.5 Q1520.0,284.0 1522.5,276.5 Z" fill="#000" fill-opacity="1.00" filter="url(#bl)"/>
<path d="M1789.5,278.0 Q1809.0,279.0 1828.5,278.0 Q1831.0,285.5 1825.5,288.0 Q1809.0,292.0 1792.5,288.0 Q1787.0,285.5 1789.5,278.0 Z" fill="#000" fill-opacity="1.00" filter="url(#bl)"/>
<path d="M1567.5,276.5 Q1588.0,277.5 1608.5,276.5 Q1611.0,284.0 1605.5,286.5 Q1588.0,290.5 1570.5,286.5 Q1565.0,284.0 1567.5,276.5 Z" fill="#000" fill-opacity="1.00" filter="url(#bl)"/>
<path d="M1837.1,278.0 Q1856.6,279.0 1876.1,278.0 Q1878.6,285.5 1873.1,288.0 Q1856.6,292.0 1840.1,288.0 Q1834.6,285.5 1837.1,278.0 Z" fill="#000" fill-opacity="1.00" filter="url(#bl)"/>
<text x="1326.0" y="292.5" font-size="25.8" text-anchor="end">STING</text>
<line x1="1879.5" y1="272.2" x2="1886.5" y2="272.2" stroke="#000" stroke-width="2.4"/>
<text x="1893.0" y="281.7" font-size="25.4">40</text>
<rect x="1337.3" y="313.3" width="540.9" height="39.4" fill="#fcfcfc" stroke="#000" stroke-width="2.6"/>
<path d="M1341.5,327.5 Q1362.0,329.1 1382.5,327.5 Q1385.0,335.0 1379.5,337.5 Q1362.0,341.1 1344.5,337.5 Q1339.0,335.0 1341.5,327.5 Z" fill="#000" fill-opacity="0.50" filter="url(#bl)"/>
<path d="M1613.5,331.0 Q1633.0,332.0 1652.5,331.0 Q1655.0,335.5 1649.5,337.0 Q1633.0,339.2 1616.5,337.0 Q1611.0,335.5 1613.5,331.0 Z" fill="#000" fill-opacity="0.25" filter="url(#bl)"/>
<path d="M1388.5,327.5 Q1409.0,329.1 1429.5,327.5 Q1432.0,335.0 1426.5,337.5 Q1409.0,341.1 1391.5,337.5 Q1386.0,335.0 1388.5,327.5 Z" fill="#000" fill-opacity="0.85" filter="url(#bl)"/>
<path d="M1657.1,331.0 Q1676.6,332.0 1696.1,331.0 Q1698.6,335.5 1693.1,337.0 Q1676.6,339.2 1660.1,337.0 Q1654.6,335.5 1657.1,331.0 Z" fill="#000" fill-opacity="0.20" filter="url(#bl)"/>
<path d="M1433.5,327.5 Q1454.0,329.1 1474.5,327.5 Q1477.0,335.0 1471.5,337.5 Q1454.0,341.1 1436.5,337.5 Q1431.0,335.0 1433.5,327.5 Z" fill="#000" fill-opacity="0.95" filter="url(#bl)"/>
<path d="M1702.5,331.0 Q1722.0,332.0 1741.5,331.0 Q1744.0,335.5 1738.5,337.0 Q1722.0,339.2 1705.5,337.0 Q1700.0,335.5 1702.5,331.0 Z" fill="#000" fill-opacity="0.22" filter="url(#bl)"/>
<path d="M1477.5,327.5 Q1498.0,329.1 1518.5,327.5 Q1521.0,335.0 1515.5,337.5 Q1498.0,341.1 1480.5,337.5 Q1475.0,335.0 1477.5,327.5 Z" fill="#000" fill-opacity="0.95" filter="url(#bl)"/>
<path d="M1746.0,331.0 Q1765.5,332.0 1785.0,331.0 Q1787.5,335.5 1782.0,337.0 Q1765.5,339.2 1749.0,337.0 Q1743.5,335.5 1746.0,331.0 Z" fill="#000" fill-opacity="0.22" filter="url(#bl)"/>
<path d="M1522.5,327.5 Q1543.0,329.1 1563.5,327.5 Q1566.0,335.0 1560.5,337.5 Q1543.0,341.1 1525.5,337.5 Q1520.0,335.0 1522.5,327.5 Z" fill="#000" fill-opacity="0.95" filter="url(#bl)"/>
<path d="M1789.5,331.0 Q1809.0,332.0 1828.5,331.0 Q1831.0,335.5 1825.5,337.0 Q1809.0,339.2 1792.5,337.0 Q1787.0,335.5 1789.5,331.0 Z" fill="#000" fill-opacity="0.15" filter="url(#bl)"/>
<path d="M1567.5,327.5 Q1588.0,329.1 1608.5,327.5 Q1611.0,335.0 1605.5,337.5 Q1588.0,341.1 1570.5,337.5 Q1565.0,335.0 1567.5,327.5 Z" fill="#000" fill-opacity="1.00" filter="url(#bl)"/>
<path d="M1837.1,331.0 Q1856.6,332.0 1876.1,331.0 Q1878.6,335.5 1873.1,337.0 Q1856.6,339.2 1840.1,337.0 Q1834.6,335.5 1837.1,331.0 Z" fill="#000" fill-opacity="0.25" filter="url(#bl)"/>
<text x="1326.0" y="342.5" font-size="25.8" text-anchor="end">p-IRF3</text>
<line x1="1879.5" y1="342.9" x2="1886.5" y2="342.9" stroke="#000" stroke-width="2.4"/>
<text x="1893.0" y="352.4" font-size="25.4">40</text>
<rect x="1337.3" y="367.7" width="540.9" height="30.5" fill="#fcfcfc" stroke="#000" stroke-width="2.6"/>
<path d="M1341.5,374.0 Q1362.0,375.2 1382.5,374.0 Q1385.0,382.2 1376.5,385.0 Q1362.0,392.0 1347.5,385.0 Q1339.0,382.2 1341.5,374.0 Z" fill="#000" fill-opacity="1.00" filter="url(#bl)"/>
<path d="M1613.5,375.0 Q1633.0,376.2 1652.5,375.0 Q1655.0,383.2 1646.5,386.0 Q1633.0,393.0 1619.5,386.0 Q1611.0,383.2 1613.5,375.0 Z" fill="#000" fill-opacity="1.00" filter="url(#bl)"/>
<path d="M1388.5,374.0 Q1409.0,375.2 1429.5,374.0 Q1432.0,382.2 1423.5,385.0 Q1409.0,392.0 1394.5,385.0 Q1386.0,382.2 1388.5,374.0 Z" fill="#000" fill-opacity="1.00" filter="url(#bl)"/>
<path d="M1657.1,375.0 Q1676.6,376.2 1696.1,375.0 Q1698.6,383.2 1690.1,386.0 Q1676.6,393.0 1663.1,386.0 Q1654.6,383.2 1657.1,375.0 Z" fill="#000" fill-opacity="1.00" filter="url(#bl)"/>
<path d="M1433.5,374.0 Q1454.0,375.2 1474.5,374.0 Q1477.0,382.2 1468.5,385.0 Q1454.0,392.0 1439.5,385.0 Q1431.0,382.2 1433.5,374.0 Z" fill="#000" fill-opacity="1.00" filter="url(#bl)"/>
<path d="M1702.5,375.0 Q1722.0,376.2 1741.5,375.0 Q1744.0,383.2 1735.5,386.0 Q1722.0,393.0 1708.5,386.0 Q1700.0,383.2 1702.5,375.0 Z" fill="#000" fill-opacity="1.00" filter="url(#bl)"/>
<path d="M1477.5,374.0 Q1498.0,375.2 1518.5,374.0 Q1521.0,382.2 1512.5,385.0 Q1498.0,392.0 1483.5,385.0 Q1475.0,382.2 1477.5,374.0 Z" fill="#000" fill-opacity="1.00" filter="url(#bl)"/>
<path d="M1746.0,375.0 Q1765.5,376.2 1785.0,375.0 Q1787.5,383.2 1779.0,386.0 Q1765.5,393.0 1752.0,386.0 Q1743.5,383.2 1746.0,375.0 Z" fill="#000" fill-opacity="1.00" filter="url(#bl)"/>
<path d="M1522.5,374.0 Q1543.0,375.2 1563.5,374.0 Q1566.0,382.2 1557.5,385.0 Q1543.0,392.0 1528.5,385.0 Q1520.0,382.2 1522.5,374.0 Z" fill="#000" fill-opacity="1.00" filter="url(#bl)"/>
<path d="M1789.5,375.0 Q1809.0,376.2 1828.5,375.0 Q1831.0,383.2 1822.5,386.0 Q1809.0,393.0 1795.5,386.0 Q1787.0,383.2 1789.5,375.0 Z" fill="#000" fill-opacity="1.00" filter="url(#bl)"/>
<path d="M1567.5,374.0 Q1588.0,375.2 1608.5,374.0 Q1611.0,382.2 1602.5,385.0 Q1588.0,392.0 1573.5,385.0 Q1565.0,382.2 1567.5,374.0 Z" fill="#000" fill-opacity="1.00" filter="url(#bl)"/>
<path d="M1837.1,375.0 Q1856.6,376.2 1876.1,375.0 Q1878.6,383.2 1870.1,386.0 Q1856.6,393.0 1843.1,386.0 Q1834.6,383.2 1837.1,375.0 Z" fill="#000" fill-opacity="1.00" filter="url(#bl)"/>
<text x="1326.0" y="392.4" font-size="25.8" text-anchor="end">IRF3</text>
<line x1="1879.5" y1="395.0" x2="1886.5" y2="395.0" stroke="#000" stroke-width="2.4"/>
<text x="1893.0" y="404.5" font-size="25.4">40</text>
<rect x="1337.3" y="412.5" width="540.9" height="39.4" fill="#fcfcfc" stroke="#000" stroke-width="2.6"/>
<path d="M1341.5,424.8 Q1362.0,429.8 1382.5,424.8 Q1385.0,433.1 1380.5,435.8 Q1362.0,440.8 1343.5,435.8 Q1339.0,433.1 1341.5,424.8 Z" fill="#000" fill-opacity="0.95" filter="url(#bl)"/>
<path d="M1613.5,426.0 Q1633.0,431.0 1652.5,426.0 Q1655.0,434.2 1650.5,437.0 Q1633.0,442.0 1615.5,437.0 Q1611.0,434.2 1613.5,426.0 Z" fill="#000" fill-opacity="0.95" filter="url(#bl)"/>
<path d="M1388.5,424.8 Q1409.0,429.8 1429.5,424.8 Q1432.0,433.1 1427.5,435.8 Q1409.0,440.8 1390.5,435.8 Q1386.0,433.1 1388.5,424.8 Z" fill="#000" fill-opacity="0.95" filter="url(#bl)"/>
<path d="M1657.1,426.0 Q1676.6,431.0 1696.1,426.0 Q1698.6,434.2 1694.1,437.0 Q1676.6,442.0 1659.1,437.0 Q1654.6,434.2 1657.1,426.0 Z" fill="#000" fill-opacity="0.95" filter="url(#bl)"/>
<path d="M1433.5,424.8 Q1454.0,429.8 1474.5,424.8 Q1477.0,433.1 1472.5,435.8 Q1454.0,440.8 1435.5,435.8 Q1431.0,433.1 1433.5,424.8 Z" fill="#000" fill-opacity="0.95" filter="url(#bl)"/>
<path d="M1702.5,426.0 Q1722.0,431.0 1741.5,426.0 Q1744.0,434.2 1739.5,437.0 Q1722.0,442.0 1704.5,437.0 Q1700.0,434.2 1702.5,426.0 Z" fill="#000" fill-opacity="0.95" filter="url(#bl)"/>
<path d="M1477.5,424.8 Q1498.0,429.8 1518.5,424.8 Q1521.0,433.1 1516.5,435.8 Q1498.0,440.8 1479.5,435.8 Q1475.0,433.1 1477.5,424.8 Z" fill="#000" fill-opacity="0.95" filter="url(#bl)"/>
<path d="M1746.0,426.0 Q1765.5,431.0 1785.0,426.0 Q1787.5,434.2 1783.0,437.0 Q1765.5,442.0 1748.0,437.0 Q1743.5,434.2 1746.0,426.0 Z" fill="#000" fill-opacity="0.95" filter="url(#bl)"/>
<path d="M1522.5,424.8 Q1543.0,429.8 1563.5,424.8 Q1566.0,433.1 1561.5,435.8 Q1543.0,440.8 1524.5,435.8 Q1520.0,433.1 1522.5,424.8 Z" fill="#000" fill-opacity="0.95" filter="url(#bl)"/>
<path d="M1789.5,426.0 Q1809.0,431.0 1828.5,426.0 Q1831.0,434.2 1826.5,437.0 Q1809.0,442.0 1791.5,437.0 Q1787.0,434.2 1789.5,426.0 Z" fill="#000" fill-opacity="0.95" filter="url(#bl)"/>
<path d="M1567.5,424.8 Q1588.0,429.8 1608.5,424.8 Q1611.0,433.1 1606.5,435.8 Q1588.0,440.8 1569.5,435.8 Q1565.0,433.1 1567.5,424.8 Z" fill="#000" fill-opacity="0.95" filter="url(#bl)"/>
<path d="M1837.1,426.0 Q1856.6,431.0 1876.1,426.0 Q1878.6,434.2 1874.1,437.0 Q1856.6,442.0 1839.1,437.0 Q1834.6,434.2 1837.1,426.0 Z" fill="#000" fill-opacity="0.95" filter="url(#bl)"/>
<text x="1326.0" y="441.7" font-size="25.8" text-anchor="end">GAPDH</text>
<line x1="1879.5" y1="443.0" x2="1886.5" y2="443.0" stroke="#000" stroke-width="2.4"/>
<text x="1893.0" y="452.5" font-size="25.4">35</text>
<text x="3.0" y="557.5" font-size="28" font-weight="bold">e</text>
<line x1="138.3" y1="605.0" x2="138.3" y2="879.8" stroke="#000" stroke-width="2.5"/>
<line x1="130.8" y1="878.5" x2="138.3" y2="878.5" stroke="#000" stroke-width="2.5"/>
<text x="122.4" y="887.5" font-size="25" text-anchor="end">0</text>
<line x1="130.8" y1="810.5" x2="138.3" y2="810.5" stroke="#000" stroke-width="2.5"/>
<text x="122.4" y="819.5" font-size="25" text-anchor="end">100</text>
<line x1="130.8" y1="742.4" x2="138.3" y2="742.4" stroke="#000" stroke-width="2.5"/>
<text x="122.4" y="751.4" font-size="25" text-anchor="end">200</text>
<line x1="130.8" y1="674.3" x2="138.3" y2="674.3" stroke="#000" stroke-width="2.5"/>
<text x="122.4" y="683.3" font-size="25" text-anchor="end">300</text>
<line x1="130.8" y1="606.3" x2="138.3" y2="606.3" stroke="#000" stroke-width="2.5"/>
<text x="122.4" y="615.3" font-size="25" text-anchor="end">400</text>
<line x1="130.8" y1="878.5" x2="301.5" y2="878.5" stroke="#000" stroke-width="2.5"/>
<line x1="176.0" y1="878.5" x2="176.0" y2="886.0" stroke="#000" stroke-width="2.5"/>
<line x1="263.3" y1="878.5" x2="263.3" y2="886.0" stroke="#000" stroke-width="2.5"/>
<circle cx="154.9" cy="877.5" r="5.6" fill="#a3a3a6" stroke="#000" stroke-width="1.5"/>
<circle cx="157.9" cy="877.5" r="5.6" fill="#a3a3a6" stroke="#000" stroke-width="1.5"/>
<circle cx="160.9" cy="877.5" r="5.6" fill="#a3a3a6" stroke="#000" stroke-width="1.5"/>
<circle cx="163.9" cy="877.5" r="5.6" fill="#a3a3a6" stroke="#000" stroke-width="1.5"/>
<circle cx="187.9" cy="877.5" r="5.6" fill="#ee7c82" stroke="#000" stroke-width="1.5"/>
<circle cx="190.9" cy="877.5" r="5.6" fill="#ee7c82" stroke="#000" stroke-width="1.5"/>
<circle cx="193.9" cy="877.5" r="5.6" fill="#ee7c82" stroke="#000" stroke-width="1.5"/>
<circle cx="196.9" cy="877.5" r="5.6" fill="#ee7c82" stroke="#000" stroke-width="1.5"/>
<rect x="236.2" y="671.9" width="21.0" height="206.6" fill="#d4d4d4" stroke="#000" stroke-width="1.6"/>
<line x1="246.7" y1="671.9" x2="246.7" y2="647.4" stroke="#000" stroke-width="2.4"/>
<line x1="241.7" y1="647.4" x2="251.7" y2="647.4" stroke="#000" stroke-width="2.4"/>
<circle cx="241.7" cy="646.4" r="5.6" fill="#a3a3a6" stroke="#000" stroke-width="1.5"/>
<circle cx="251.7" cy="646.4" r="5.6" fill="#a3a3a6" stroke="#000" stroke-width="1.5"/>
<circle cx="246.7" cy="651.9" r="5.6" fill="#a3a3a6" stroke="#000" stroke-width="1.5"/>
<circle cx="246.7" cy="675.7" r="5.6" fill="#a3a3a6" stroke="#000" stroke-width="1.5"/>
<circle cx="248.7" cy="692.0" r="5.6" fill="#a3a3a6" stroke="#000" stroke-width="1.5"/>
<circle cx="246.7" cy="718.6" r="5.6" fill="#a3a3a6" stroke="#000" stroke-width="1.5"/>
<rect x="269.2" y="818.2" width="21.0" height="60.3" fill="#f6dfe2" stroke="#000" stroke-width="1.6"/>
<line x1="279.7" y1="818.2" x2="279.7" y2="810.0" stroke="#000" stroke-width="2.4"/>
<line x1="274.7" y1="810.0" x2="284.7" y2="810.0" stroke="#000" stroke-width="2.4"/>
<circle cx="277.7" cy="805.7" r="5.6" fill="#ee7c82" stroke="#000" stroke-width="1.5"/>
<circle cx="281.7" cy="807.7" r="5.6" fill="#ee7c82" stroke="#000" stroke-width="1.5"/>
<circle cx="283.7" cy="815.9" r="5.6" fill="#ee7c82" stroke="#000" stroke-width="1.5"/>
<circle cx="275.7" cy="822.0" r="5.6" fill="#ee7c82" stroke="#000" stroke-width="1.5"/>
<circle cx="283.7" cy="825.4" r="5.6" fill="#ee7c82" stroke="#000" stroke-width="1.5"/>
<circle cx="276.7" cy="829.5" r="5.6" fill="#ee7c82" stroke="#000" stroke-width="1.5"/>
<text x="176.0" y="915.7" font-size="26.4" text-anchor="middle">Veh</text>
<text x="263.3" y="915.7" font-size="26.4" text-anchor="middle">ISD</text>
<text x="53" y="737.3" font-size="26.7" text-anchor="middle" transform="rotate(-90 53 737.3)"><tspan font-style="italic">Ifnb</tspan> mRNA (relative)</text>
<text x="175.0" y="585.4" font-size="22.4" text-anchor="middle">0.9993</text>
<line x1="159.6" y1="606.3" x2="191.5" y2="606.3" stroke="#000" stroke-width="2.7"/>
<text x="261.6" y="585.4" font-size="22.4" text-anchor="middle">&lt;0.0001</text>
<line x1="247.0" y1="606.3" x2="279.3" y2="606.3" stroke="#000" stroke-width="2.7"/>
<line x1="490.8" y1="605.0" x2="490.8" y2="879.8" stroke="#000" stroke-width="2.5"/>
<line x1="483.3" y1="878.5" x2="490.8" y2="878.5" stroke="#000" stroke-width="2.5"/>
<text x="476.6" y="887.5" font-size="25" text-anchor="end">0</text>
<line x1="483.3" y1="787.8" x2="490.8" y2="787.8" stroke="#000" stroke-width="2.5"/>
<text x="476.6" y="796.8" font-size="25" text-anchor="end">400</text>
<line x1="483.3" y1="697.0" x2="490.8" y2="697.0" stroke="#000" stroke-width="2.5"/>
<text x="476.6" y="706.0" font-size="25" text-anchor="end">800</text>
<line x1="483.3" y1="606.3" x2="490.8" y2="606.3" stroke="#000" stroke-width="2.5"/>
<text x="476.6" y="615.3" font-size="25" text-anchor="end">1200</text>
<line x1="483.3" y1="878.5" x2="654.0" y2="878.5" stroke="#000" stroke-width="2.5"/>
<line x1="528.5" y1="878.5" x2="528.5" y2="886.0" stroke="#000" stroke-width="2.5"/>
<line x1="615.8" y1="878.5" x2="615.8" y2="886.0" stroke="#000" stroke-width="2.5"/>
<circle cx="507.4" cy="878.2" r="5.6" fill="#a3a3a6" stroke="#000" stroke-width="1.5"/>
<circle cx="510.4" cy="878.2" r="5.6" fill="#a3a3a6" stroke="#000" stroke-width="1.5"/>
<circle cx="513.4" cy="878.2" r="5.6" fill="#a3a3a6" stroke="#000" stroke-width="1.5"/>
<circle cx="516.4" cy="878.2" r="5.6" fill="#a3a3a6" stroke="#000" stroke-width="1.5"/>
<circle cx="540.4" cy="878.2" r="5.6" fill="#ee7c82" stroke="#000" stroke-width="1.5"/>
<circle cx="543.4" cy="878.2" r="5.6" fill="#ee7c82" stroke="#000" stroke-width="1.5"/>
<circle cx="546.4" cy="878.2" r="5.6" fill="#ee7c82" stroke="#000" stroke-width="1.5"/>
<circle cx="549.4" cy="878.2" r="5.6" fill="#ee7c82" stroke="#000" stroke-width="1.5"/>
<rect x="588.7" y="688.7" width="21.0" height="189.8" fill="#d4d4d4" stroke="#000" stroke-width="1.6"/>
<line x1="599.2" y1="688.7" x2="599.2" y2="659.2" stroke="#000" stroke-width="2.4"/>
<line x1="594.2" y1="659.2" x2="604.2" y2="659.2" stroke="#000" stroke-width="2.4"/>
<circle cx="599.2" cy="642.1" r="5.6" fill="#a3a3a6" stroke="#000" stroke-width="1.5"/>
<circle cx="599.2" cy="658.7" r="5.6" fill="#a3a3a6" stroke="#000" stroke-width="1.5"/>
<circle cx="594.2" cy="693.2" r="5.6" fill="#a3a3a6" stroke="#000" stroke-width="1.5"/>
<circle cx="604.2" cy="700.7" r="5.6" fill="#a3a3a6" stroke="#000" stroke-width="1.5"/>
<circle cx="594.2" cy="711.8" r="5.6" fill="#a3a3a6" stroke="#000" stroke-width="1.5"/>
<circle cx="604.2" cy="717.0" r="5.6" fill="#a3a3a6" stroke="#000" stroke-width="1.5"/>
<rect x="621.7" y="824.8" width="21.0" height="53.7" fill="#f6dfe2" stroke="#000" stroke-width="1.6"/>
<line x1="632.2" y1="824.8" x2="632.2" y2="812.3" stroke="#000" stroke-width="2.4"/>
<line x1="627.2" y1="812.3" x2="637.2" y2="812.3" stroke="#000" stroke-width="2.4"/>
<circle cx="632.2" cy="802.7" r="5.6" fill="#ee7c82" stroke="#000" stroke-width="1.5"/>
<circle cx="629.2" cy="816.1" r="5.6" fill="#ee7c82" stroke="#000" stroke-width="1.5"/>
<circle cx="636.2" cy="822.7" r="5.6" fill="#ee7c82" stroke="#000" stroke-width="1.5"/>
<circle cx="628.2" cy="829.3" r="5.6" fill="#ee7c82" stroke="#000" stroke-width="1.5"/>
<circle cx="627.2" cy="835.9" r="5.6" fill="#ee7c82" stroke="#000" stroke-width="1.5"/>
<circle cx="637.2" cy="835.9" r="5.6" fill="#ee7c82" stroke="#000" stroke-width="1.5"/>
<text x="528.5" y="915.7" font-size="26.4" text-anchor="middle">Veh</text>
<text x="615.8" y="915.7" font-size="26.4" text-anchor="middle">ISD</text>
<text x="401" y="747" font-size="26.7" text-anchor="middle" transform="rotate(-90 401 747)"><tspan font-style="italic">Cxcl10</tspan> mRNA (relative)</text>
<text x="527.6" y="585.4" font-size="22.4" text-anchor="middle">&gt;0.9999</text>
<line x1="512.0" y1="606.3" x2="544.4" y2="606.3" stroke="#000" stroke-width="2.7"/>
<text x="614.0" y="583.2" font-size="22.4" text-anchor="middle">&lt;0.0001</text>
<line x1="599.8" y1="604.5" x2="630.9" y2="604.5" stroke="#000" stroke-width="2.7"/>
<line x1="826.6" y1="604.0" x2="826.6" y2="880.2" stroke="#000" stroke-width="2.5"/>
<line x1="819.1" y1="879.0" x2="826.6" y2="879.0" stroke="#000" stroke-width="2.5"/>
<text x="812.1" y="888.0" font-size="25" text-anchor="end">0</text>
<line x1="819.1" y1="787.7" x2="826.6" y2="787.7" stroke="#000" stroke-width="2.5"/>
<text x="812.1" y="796.7" font-size="25" text-anchor="end">100</text>
<line x1="819.1" y1="696.5" x2="826.6" y2="696.5" stroke="#000" stroke-width="2.5"/>
<text x="812.1" y="705.5" font-size="25" text-anchor="end">200</text>
<line x1="819.1" y1="605.2" x2="826.6" y2="605.2" stroke="#000" stroke-width="2.5"/>
<text x="812.1" y="614.2" font-size="25" text-anchor="end">300</text>
<line x1="819.7" y1="879.0" x2="992.0" y2="879.0" stroke="#000" stroke-width="2.5"/>
<line x1="865.6" y1="879.0" x2="865.6" y2="886.5" stroke="#000" stroke-width="2.5"/>
<line x1="952.9" y1="879.0" x2="952.9" y2="886.5" stroke="#000" stroke-width="2.5"/>
<circle cx="844.5" cy="877.6" r="5.6" fill="#a3a3a6" stroke="#000" stroke-width="1.5"/>
<circle cx="847.5" cy="877.6" r="5.6" fill="#a3a3a6" stroke="#000" stroke-width="1.5"/>
<circle cx="850.5" cy="877.6" r="5.6" fill="#a3a3a6" stroke="#000" stroke-width="1.5"/>
<circle cx="853.5" cy="877.6" r="5.6" fill="#a3a3a6" stroke="#000" stroke-width="1.5"/>
<circle cx="877.5" cy="877.6" r="5.6" fill="#ee7c82" stroke="#000" stroke-width="1.5"/>
<circle cx="880.5" cy="877.6" r="5.6" fill="#ee7c82" stroke="#000" stroke-width="1.5"/>
<circle cx="883.5" cy="877.6" r="5.6" fill="#ee7c82" stroke="#000" stroke-width="1.5"/>
<circle cx="886.5" cy="877.6" r="5.6" fill="#ee7c82" stroke="#000" stroke-width="1.5"/>
<rect x="925.8" y="677.6" width="21.0" height="201.4" fill="#d4d4d4" stroke="#000" stroke-width="1.6"/>
<line x1="936.3" y1="677.6" x2="936.3" y2="643.8" stroke="#000" stroke-width="2.4"/>
<line x1="931.3" y1="643.8" x2="941.3" y2="643.8" stroke="#000" stroke-width="2.4"/>
<circle cx="941.3" cy="640.8" r="5.6" fill="#a3a3a6" stroke="#000" stroke-width="1.5"/>
<circle cx="931.3" cy="647.2" r="5.6" fill="#a3a3a6" stroke="#000" stroke-width="1.5"/>
<circle cx="931.3" cy="671.4" r="5.6" fill="#a3a3a6" stroke="#000" stroke-width="1.5"/>
<circle cx="941.3" cy="671.4" r="5.6" fill="#a3a3a6" stroke="#000" stroke-width="1.5"/>
<circle cx="936.3" cy="705.6" r="5.6" fill="#a3a3a6" stroke="#000" stroke-width="1.5"/>
<circle cx="936.3" cy="724.8" r="5.6" fill="#a3a3a6" stroke="#000" stroke-width="1.5"/>
<rect x="958.8" y="767.9" width="21.0" height="111.1" fill="#f6dfe2" stroke="#000" stroke-width="1.6"/>
<line x1="969.3" y1="767.9" x2="969.3" y2="752.4" stroke="#000" stroke-width="2.4"/>
<line x1="964.3" y1="752.4" x2="974.3" y2="752.4" stroke="#000" stroke-width="2.4"/>
<circle cx="964.3" cy="752.4" r="5.6" fill="#ee7c82" stroke="#000" stroke-width="1.5"/>
<circle cx="974.3" cy="752.4" r="5.6" fill="#ee7c82" stroke="#000" stroke-width="1.5"/>
<circle cx="969.3" cy="758.5" r="5.6" fill="#ee7c82" stroke="#000" stroke-width="1.5"/>
<circle cx="969.3" cy="775.0" r="5.6" fill="#ee7c82" stroke="#000" stroke-width="1.5"/>
<circle cx="964.3" cy="784.5" r="5.6" fill="#ee7c82" stroke="#000" stroke-width="1.5"/>
<circle cx="974.3" cy="781.7" r="5.6" fill="#ee7c82" stroke="#000" stroke-width="1.5"/>
<text x="865.6" y="915.7" font-size="26.4" text-anchor="middle">Veh</text>
<text x="952.9" y="915.7" font-size="26.4" text-anchor="middle">ISD</text>
<text x="752" y="735.2" font-size="26.7" text-anchor="middle" transform="rotate(-90 752 735.2)"><tspan font-style="italic">Mx1</tspan> mRNA (relative)</text>
<text x="864.0" y="586.2" font-size="22.4" text-anchor="middle">0.9987</text>
<line x1="849.0" y1="605.9" x2="880.7" y2="605.9" stroke="#000" stroke-width="2.7"/>
<text x="951.9" y="586.2" font-size="22.4" text-anchor="middle">&lt;0.0001</text>
<line x1="936.9" y1="605.9" x2="969.0" y2="605.9" stroke="#000" stroke-width="2.7"/>
<circle cx="1038.6" cy="578.3" r="6.3" fill="#a3a3a6" stroke="#000" stroke-width="1.5"/>
<circle cx="1038.6" cy="619.0" r="6.3" fill="#ee6a4c" stroke="#000" stroke-width="1.5"/>
<text x="1059.3" y="589.5" font-size="26.4">3 Mon.</text>
<text x="1059.3" y="629.5" font-size="26.4">20 Mon.</text>
<text x="1211.5" y="557.0" font-size="28" font-weight="bold">g</text>
<text x="1575.0" y="586.3" font-size="27" text-anchor="middle">Differentially Expressed Metabolites (DEMs)</text>
<text x="1647.0" y="643.0" font-size="26.6" text-anchor="middle">Young</text>
<text x="1801.4" y="640.7" font-size="26.6" text-anchor="middle">Aged</text>
<line x1="1577.3" y1="660.9" x2="1717.9" y2="660.9" stroke="#000" stroke-width="2.7"/>
<line x1="1732.0" y1="660.9" x2="1873.4" y2="660.9" stroke="#000" stroke-width="2.7"/>
<rect x="1577.00" y="679.00" width="19.80" height="23.00" fill="#f5d9dd"/>
<rect x="1596.50" y="679.00" width="19.80" height="23.00" fill="#f5dce0"/>
<rect x="1616.00" y="679.00" width="19.80" height="23.00" fill="#f4cfd3"/>
<rect x="1635.50" y="679.00" width="19.80" height="23.00" fill="#f5d9dd"/>
<rect x="1655.00" y="679.00" width="19.80" height="23.00" fill="#f5dfe3"/>
<rect x="1674.50" y="679.00" width="19.80" height="23.00" fill="#f5e4e8"/>
<rect x="1694.00" y="679.00" width="19.80" height="23.00" fill="#f5d9dd"/>
<rect x="1713.50" y="679.00" width="19.80" height="23.00" fill="#f4d7db"/>
<rect x="1733.00" y="679.00" width="19.80" height="23.00" fill="#f18388"/>
<rect x="1752.50" y="679.00" width="19.80" height="23.00" fill="#f18388"/>
<rect x="1772.00" y="679.00" width="19.80" height="23.00" fill="#f2a4a8"/>
<rect x="1791.50" y="679.00" width="19.80" height="23.00" fill="#f4cfd3"/>
<rect x="1811.00" y="679.00" width="19.80" height="23.00" fill="#f4c4c8"/>
<rect x="1830.50" y="679.00" width="19.80" height="23.00" fill="#f5dfe3"/>
<rect x="1850.00" y="679.00" width="19.80" height="23.00" fill="#f2a9ae"/>
<rect x="1869.50" y="679.00" width="19.80" height="23.00" fill="#f4c9cd"/>
<line x1="1569.0" y1="690.4" x2="1577.0" y2="690.4" stroke="#000" stroke-width="2.7"/>
<text x="1560.6" y="698.6" font-size="23" text-anchor="end">5-Methyltetrahydrofolic acid</text>
<rect x="1577.00" y="701.70" width="19.80" height="23.00" fill="#f5d9dd"/>
<rect x="1596.50" y="701.70" width="19.80" height="23.00" fill="#f5dce0"/>
<rect x="1616.00" y="701.70" width="19.80" height="23.00" fill="#e0d2eb"/>
<rect x="1635.50" y="701.70" width="19.80" height="23.00" fill="#f5dce0"/>
<rect x="1655.00" y="701.70" width="19.80" height="23.00" fill="#f5d9dd"/>
<rect x="1674.50" y="701.70" width="19.80" height="23.00" fill="#f5d9dd"/>
<rect x="1694.00" y="701.70" width="19.80" height="23.00" fill="#f5d9dd"/>
<rect x="1713.50" y="701.70" width="19.80" height="23.00" fill="#f5d9dd"/>
<rect x="1733.00" y="701.70" width="19.80" height="23.00" fill="#f4c9cd"/>
<rect x="1752.50" y="701.70" width="19.80" height="23.00" fill="#f2a4a8"/>
<rect x="1772.00" y="701.70" width="19.80" height="23.00" fill="#f29498"/>
<rect x="1791.50" y="701.70" width="19.80" height="23.00" fill="#f2a4a8"/>
<rect x="1811.00" y="701.70" width="19.80" height="23.00" fill="#f2999e"/>
<rect x="1830.50" y="701.70" width="19.80" height="23.00" fill="#f18e93"/>
<rect x="1850.00" y="701.70" width="19.80" height="23.00" fill="#f18388"/>
<rect x="1869.50" y="701.70" width="19.80" height="23.00" fill="#f4c4c8"/>
<line x1="1569.0" y1="713.0" x2="1577.0" y2="713.0" stroke="#000" stroke-width="2.7"/>
<text x="1560.6" y="721.2" font-size="23" text-anchor="end">Anserine</text>
<rect x="1577.00" y="724.40" width="19.80" height="23.00" fill="#e7d8ea"/>
<rect x="1596.50" y="724.40" width="19.80" height="23.00" fill="#f5dfe3"/>
<rect x="1616.00" y="724.40" width="19.80" height="23.00" fill="#eedee9"/>
<rect x="1635.50" y="724.40" width="19.80" height="23.00" fill="#eedee9"/>
<rect x="1655.00" y="724.40" width="19.80" height="23.00" fill="#f5d9dd"/>
<rect x="1674.50" y="724.40" width="19.80" height="23.00" fill="#f5d9dd"/>
<rect x="1694.00" y="724.40" width="19.80" height="23.00" fill="#f5dce0"/>
<rect x="1713.50" y="724.40" width="19.80" height="23.00" fill="#f5d9dd"/>
<rect x="1733.00" y="724.40" width="19.80" height="23.00" fill="#f18388"/>
<rect x="1752.50" y="724.40" width="19.80" height="23.00" fill="#f4c4c8"/>
<rect x="1772.00" y="724.40" width="19.80" height="23.00" fill="#f3bec3"/>
<rect x="1791.50" y="724.40" width="19.80" height="23.00" fill="#f1898e"/>
<rect x="1811.00" y="724.40" width="19.80" height="23.00" fill="#f5d9dd"/>
<rect x="1830.50" y="724.40" width="19.80" height="23.00" fill="#f5d9dd"/>
<rect x="1850.00" y="724.40" width="19.80" height="23.00" fill="#f18388"/>
<rect x="1869.50" y="724.40" width="19.80" height="23.00" fill="#f4c4c8"/>
<line x1="1569.0" y1="735.8" x2="1577.0" y2="735.8" stroke="#000" stroke-width="2.7"/>
<text x="1560.6" y="744.0" font-size="23" text-anchor="end">Thymidine</text>
<rect x="1577.00" y="747.10" width="19.80" height="23.00" fill="#e7d8ea"/>
<rect x="1596.50" y="747.10" width="19.80" height="23.00" fill="#f5dfe3"/>
<rect x="1616.00" y="747.10" width="19.80" height="23.00" fill="#f5d9dd"/>
<rect x="1635.50" y="747.10" width="19.80" height="23.00" fill="#f5d9dd"/>
<rect x="1655.00" y="747.10" width="19.80" height="23.00" fill="#f5d9dd"/>
<rect x="1674.50" y="747.10" width="19.80" height="23.00" fill="#d2c6ed"/>
<rect x="1694.00" y="747.10" width="19.80" height="23.00" fill="#f4cfd3"/>
<rect x="1713.50" y="747.10" width="19.80" height="23.00" fill="#f4d4d8"/>
<rect x="1733.00" y="747.10" width="19.80" height="23.00" fill="#f18e93"/>
<rect x="1752.50" y="747.10" width="19.80" height="23.00" fill="#f4d4d8"/>
<rect x="1772.00" y="747.10" width="19.80" height="23.00" fill="#f4d4d8"/>
<rect x="1791.50" y="747.10" width="19.80" height="23.00" fill="#f07378"/>
<rect x="1811.00" y="747.10" width="19.80" height="23.00" fill="#f5dce0"/>
<rect x="1830.50" y="747.10" width="19.80" height="23.00" fill="#f5dfe3"/>
<rect x="1850.00" y="747.10" width="19.80" height="23.00" fill="#f3aeb3"/>
<rect x="1869.50" y="747.10" width="19.80" height="23.00" fill="#f4c4c8"/>
<line x1="1569.0" y1="758.5" x2="1577.0" y2="758.5" stroke="#000" stroke-width="2.7"/>
<text x="1560.6" y="766.7" font-size="23" text-anchor="end">2'-Deoxyuridine</text>
<rect x="1577.00" y="769.80" width="19.80" height="23.00" fill="#f5d9dd"/>
<rect x="1596.50" y="769.80" width="19.80" height="23.00" fill="#ddcfec"/>
<rect x="1616.00" y="769.80" width="19.80" height="23.00" fill="#f5dfe3"/>
<rect x="1635.50" y="769.80" width="19.80" height="23.00" fill="#f4c9cd"/>
<rect x="1655.00" y="769.80" width="19.80" height="23.00" fill="#f5dce0"/>
<rect x="1674.50" y="769.80" width="19.80" height="23.00" fill="#e7d8ea"/>
<rect x="1694.00" y="769.80" width="19.80" height="23.00" fill="#f4d4d8"/>
<rect x="1713.50" y="769.80" width="19.80" height="23.00" fill="#eedee9"/>
<rect x="1733.00" y="769.80" width="19.80" height="23.00" fill="#f29ea3"/>
<rect x="1752.50" y="769.80" width="19.80" height="23.00" fill="#f29ea3"/>
<rect x="1772.00" y="769.80" width="19.80" height="23.00" fill="#f3aeb3"/>
<rect x="1791.50" y="769.80" width="19.80" height="23.00" fill="#f5d9dd"/>
<rect x="1811.00" y="769.80" width="19.80" height="23.00" fill="#f29498"/>
<rect x="1830.50" y="769.80" width="19.80" height="23.00" fill="#f29498"/>
<rect x="1850.00" y="769.80" width="19.80" height="23.00" fill="#f29ea3"/>
<rect x="1869.50" y="769.80" width="19.80" height="23.00" fill="#ccbfef"/>
<line x1="1569.0" y1="781.1" x2="1577.0" y2="781.1" stroke="#000" stroke-width="2.7"/>
<text x="1560.6" y="789.4" font-size="23" text-anchor="end">Dimethylallyl pyrophosphate</text>
<rect x="1577.00" y="792.50" width="19.80" height="23.00" fill="#f5e4e8"/>
<rect x="1596.50" y="792.50" width="19.80" height="23.00" fill="#e0d2eb"/>
<rect x="1616.00" y="792.50" width="19.80" height="23.00" fill="#f5d9dd"/>
<rect x="1635.50" y="792.50" width="19.80" height="23.00" fill="#f5d9dd"/>
<rect x="1655.00" y="792.50" width="19.80" height="23.00" fill="#e0d2eb"/>
<rect x="1674.50" y="792.50" width="19.80" height="23.00" fill="#eedee9"/>
<rect x="1694.00" y="792.50" width="19.80" height="23.00" fill="#f4c9cd"/>
<rect x="1713.50" y="792.50" width="19.80" height="23.00" fill="#f5dfe3"/>
<rect x="1733.00" y="792.50" width="19.80" height="23.00" fill="#f4d4d8"/>
<rect x="1752.50" y="792.50" width="19.80" height="23.00" fill="#f0797e"/>
<rect x="1772.00" y="792.50" width="19.80" height="23.00" fill="#f2a4a8"/>
<rect x="1791.50" y="792.50" width="19.80" height="23.00" fill="#f2a4a8"/>
<rect x="1811.00" y="792.50" width="19.80" height="23.00" fill="#f3aeb3"/>
<rect x="1830.50" y="792.50" width="19.80" height="23.00" fill="#f3aeb3"/>
<rect x="1850.00" y="792.50" width="19.80" height="23.00" fill="#f2a9ae"/>
<rect x="1869.50" y="792.50" width="19.80" height="23.00" fill="#f3b9bd"/>
<line x1="1569.0" y1="803.9" x2="1577.0" y2="803.9" stroke="#000" stroke-width="2.7"/>
<text x="1560.6" y="812.1" font-size="23" text-anchor="end">N-Acetylcarnosine</text>
<rect x="1577.00" y="815.20" width="19.80" height="23.00" fill="#f5d9dd"/>
<rect x="1596.50" y="815.20" width="19.80" height="23.00" fill="#e0d2eb"/>
<rect x="1616.00" y="815.20" width="19.80" height="23.00" fill="#f5dfe3"/>
<rect x="1635.50" y="815.20" width="19.80" height="23.00" fill="#f4d4d8"/>
<rect x="1655.00" y="815.20" width="19.80" height="23.00" fill="#f5dfe3"/>
<rect x="1674.50" y="815.20" width="19.80" height="23.00" fill="#d2c6ed"/>
<rect x="1694.00" y="815.20" width="19.80" height="23.00" fill="#f4cfd3"/>
<rect x="1713.50" y="815.20" width="19.80" height="23.00" fill="#f5dfe3"/>
<rect x="1733.00" y="815.20" width="19.80" height="23.00" fill="#f29ea3"/>
<rect x="1752.50" y="815.20" width="19.80" height="23.00" fill="#f29ea3"/>
<rect x="1772.00" y="815.20" width="19.80" height="23.00" fill="#f3aeb3"/>
<rect x="1791.50" y="815.20" width="19.80" height="23.00" fill="#f5dce0"/>
<rect x="1811.00" y="815.20" width="19.80" height="23.00" fill="#f2999e"/>
<rect x="1830.50" y="815.20" width="19.80" height="23.00" fill="#f18e93"/>
<rect x="1850.00" y="815.20" width="19.80" height="23.00" fill="#f2a4a8"/>
<rect x="1869.50" y="815.20" width="19.80" height="23.00" fill="#ccbfef"/>
<line x1="1569.0" y1="826.5" x2="1577.0" y2="826.5" stroke="#000" stroke-width="2.7"/>
<text x="1560.6" y="834.8" font-size="22.9" text-anchor="end" font-weight="bold" font-style="italic">Phosphoenolpyruvic acid</text>
<rect x="1577.00" y="837.90" width="19.80" height="23.00" fill="#f4d4d8"/>
<rect x="1596.50" y="837.90" width="19.80" height="23.00" fill="#f4d4d8"/>
<rect x="1616.00" y="837.90" width="19.80" height="23.00" fill="#c5b9f0"/>
<rect x="1635.50" y="837.90" width="19.80" height="23.00" fill="#f5dfe3"/>
<rect x="1655.00" y="837.90" width="19.80" height="23.00" fill="#f5d9dd"/>
<rect x="1674.50" y="837.90" width="19.80" height="23.00" fill="#f4d4d8"/>
<rect x="1694.00" y="837.90" width="19.80" height="23.00" fill="#f4d4d8"/>
<rect x="1713.50" y="837.90" width="19.80" height="23.00" fill="#f4d4d8"/>
<rect x="1733.00" y="837.90" width="19.80" height="23.00" fill="#f5dce0"/>
<rect x="1752.50" y="837.90" width="19.80" height="23.00" fill="#ccbfef"/>
<rect x="1772.00" y="837.90" width="19.80" height="23.00" fill="#f29498"/>
<rect x="1791.50" y="837.90" width="19.80" height="23.00" fill="#f18e93"/>
<rect x="1811.00" y="837.90" width="19.80" height="23.00" fill="#f29498"/>
<rect x="1830.50" y="837.90" width="19.80" height="23.00" fill="#f4c4c8"/>
<rect x="1850.00" y="837.90" width="19.80" height="23.00" fill="#f18388"/>
<rect x="1869.50" y="837.90" width="19.80" height="23.00" fill="#f4c4c8"/>
<line x1="1569.0" y1="849.2" x2="1577.0" y2="849.2" stroke="#000" stroke-width="2.7"/>
<text x="1560.6" y="857.5" font-size="23" text-anchor="end">3-Methylhistidine</text>
<rect x="1577.00" y="860.60" width="19.80" height="23.00" fill="#a9a1f4"/>
<rect x="1596.50" y="860.60" width="19.80" height="23.00" fill="#ccbfef"/>
<rect x="1616.00" y="860.60" width="19.80" height="23.00" fill="#f4c4c8"/>
<rect x="1635.50" y="860.60" width="19.80" height="23.00" fill="#f4c9cd"/>
<rect x="1655.00" y="860.60" width="19.80" height="23.00" fill="#7976fc"/>
<rect x="1674.50" y="860.60" width="19.80" height="23.00" fill="#d2c6ed"/>
<rect x="1694.00" y="860.60" width="19.80" height="23.00" fill="#f3bec3"/>
<rect x="1713.50" y="860.60" width="19.80" height="23.00" fill="#f4c9cd"/>
<rect x="1733.00" y="860.60" width="19.80" height="23.00" fill="#8782fa"/>
<rect x="1752.50" y="860.60" width="19.80" height="23.00" fill="#8782fa"/>
<rect x="1772.00" y="860.60" width="19.80" height="23.00" fill="#948ff7"/>
<rect x="1791.50" y="860.60" width="19.80" height="23.00" fill="#8d89f8"/>
<rect x="1811.00" y="860.60" width="19.80" height="23.00" fill="#ccbfef"/>
<rect x="1830.50" y="860.60" width="19.80" height="23.00" fill="#8d89f8"/>
<rect x="1850.00" y="860.60" width="19.80" height="23.00" fill="#8d89f8"/>
<rect x="1869.50" y="860.60" width="19.80" height="23.00" fill="#8d89f8"/>
<line x1="1569.0" y1="872.0" x2="1577.0" y2="872.0" stroke="#000" stroke-width="2.7"/>
<text x="1560.6" y="880.2" font-size="23" text-anchor="end">5-Aminovaleric acid</text>
<rect x="1577.00" y="883.30" width="19.80" height="23.00" fill="#a9a1f4"/>
<rect x="1596.50" y="883.30" width="19.80" height="23.00" fill="#beb3f1"/>
<rect x="1616.00" y="883.30" width="19.80" height="23.00" fill="#f4c9cd"/>
<rect x="1635.50" y="883.30" width="19.80" height="23.00" fill="#eedee9"/>
<rect x="1655.00" y="883.30" width="19.80" height="23.00" fill="#b7adf2"/>
<rect x="1674.50" y="883.30" width="19.80" height="23.00" fill="#beb3f1"/>
<rect x="1694.00" y="883.30" width="19.80" height="23.00" fill="#f3b4b8"/>
<rect x="1713.50" y="883.30" width="19.80" height="23.00" fill="#f3b4b8"/>
<rect x="1733.00" y="883.30" width="19.80" height="23.00" fill="#d2c6ed"/>
<rect x="1752.50" y="883.30" width="19.80" height="23.00" fill="#948ff7"/>
<rect x="1772.00" y="883.30" width="19.80" height="23.00" fill="#807cfb"/>
<rect x="1791.50" y="883.30" width="19.80" height="23.00" fill="#807cfb"/>
<rect x="1811.00" y="883.30" width="19.80" height="23.00" fill="#807cfb"/>
<rect x="1830.50" y="883.30" width="19.80" height="23.00" fill="#7976fc"/>
<rect x="1850.00" y="883.30" width="19.80" height="23.00" fill="#8782fa"/>
<rect x="1869.50" y="883.30" width="19.80" height="23.00" fill="#b0a7f3"/>
<line x1="1569.0" y1="894.6" x2="1577.0" y2="894.6" stroke="#000" stroke-width="2.7"/>
<text x="1560.6" y="902.9" font-size="23" text-anchor="end">3-Ureidopropionic acid</text>
<rect x="1577.00" y="906.00" width="19.80" height="23.00" fill="#f4d4d8"/>
<rect x="1596.50" y="906.00" width="19.80" height="23.00" fill="#f4d4d8"/>
<rect x="1616.00" y="906.00" width="19.80" height="23.00" fill="#beb3f1"/>
<rect x="1635.50" y="906.00" width="19.80" height="23.00" fill="#beb3f1"/>
<rect x="1655.00" y="906.00" width="19.80" height="23.00" fill="#f4d4d8"/>
<rect x="1674.50" y="906.00" width="19.80" height="23.00" fill="#b0a7f3"/>
<rect x="1694.00" y="906.00" width="19.80" height="23.00" fill="#f2a4a8"/>
<rect x="1713.50" y="906.00" width="19.80" height="23.00" fill="#f4c9cd"/>
<rect x="1733.00" y="906.00" width="19.80" height="23.00" fill="#d2c6ed"/>
<rect x="1752.50" y="906.00" width="19.80" height="23.00" fill="#7976fc"/>
<rect x="1772.00" y="906.00" width="19.80" height="23.00" fill="#8d89f8"/>
<rect x="1791.50" y="906.00" width="19.80" height="23.00" fill="#7270fd"/>
<rect x="1811.00" y="906.00" width="19.80" height="23.00" fill="#7270fd"/>
<rect x="1830.50" y="906.00" width="19.80" height="23.00" fill="#7270fd"/>
<rect x="1850.00" y="906.00" width="19.80" height="23.00" fill="#8782fa"/>
<rect x="1869.50" y="906.00" width="19.80" height="23.00" fill="#b7adf2"/>
<line x1="1569.0" y1="917.4" x2="1577.0" y2="917.4" stroke="#000" stroke-width="2.7"/>
<text x="1560.6" y="925.6" font-size="23" text-anchor="end">3-Hydroxyglutaric acid</text>
<rect x="1577.00" y="928.70" width="19.80" height="23.00" fill="#b0a7f3"/>
<rect x="1596.50" y="928.70" width="19.80" height="23.00" fill="#d9ccec"/>
<rect x="1616.00" y="928.70" width="19.80" height="23.00" fill="#e0d2eb"/>
<rect x="1635.50" y="928.70" width="19.80" height="23.00" fill="#f4d4d8"/>
<rect x="1655.00" y="928.70" width="19.80" height="23.00" fill="#d9ccec"/>
<rect x="1674.50" y="928.70" width="19.80" height="23.00" fill="#f4c9cd"/>
<rect x="1694.00" y="928.70" width="19.80" height="23.00" fill="#f3bec3"/>
<rect x="1713.50" y="928.70" width="19.80" height="23.00" fill="#f4d4d8"/>
<rect x="1733.00" y="928.70" width="19.80" height="23.00" fill="#7270fd"/>
<rect x="1752.50" y="928.70" width="19.80" height="23.00" fill="#b7adf2"/>
<rect x="1772.00" y="928.70" width="19.80" height="23.00" fill="#6464ff"/>
<rect x="1791.50" y="928.70" width="19.80" height="23.00" fill="#9b95f6"/>
<rect x="1811.00" y="928.70" width="19.80" height="23.00" fill="#a29bf5"/>
<rect x="1830.50" y="928.70" width="19.80" height="23.00" fill="#7270fd"/>
<rect x="1850.00" y="928.70" width="19.80" height="23.00" fill="#7270fd"/>
<rect x="1869.50" y="928.70" width="19.80" height="23.00" fill="#6464ff"/>
<line x1="1569.0" y1="940.0" x2="1577.0" y2="940.0" stroke="#000" stroke-width="2.7"/>
<text x="1560.6" y="948.2" font-size="23" text-anchor="end">Sarcosine</text>
<rect x="1577.00" y="951.40" width="19.80" height="23.00" fill="#d9ccec"/>
<rect x="1596.50" y="951.40" width="19.80" height="23.00" fill="#f4d4d8"/>
<rect x="1616.00" y="951.40" width="19.80" height="23.00" fill="#f4cfd3"/>
<rect x="1635.50" y="951.40" width="19.80" height="23.00" fill="#f3b9bd"/>
<rect x="1655.00" y="951.40" width="19.80" height="23.00" fill="#f5dfe3"/>
<rect x="1674.50" y="951.40" width="19.80" height="23.00" fill="#b0a7f3"/>
<rect x="1694.00" y="951.40" width="19.80" height="23.00" fill="#f5d9dd"/>
<rect x="1713.50" y="951.40" width="19.80" height="23.00" fill="#e0d2eb"/>
<rect x="1733.00" y="951.40" width="19.80" height="23.00" fill="#7976fc"/>
<rect x="1752.50" y="951.40" width="19.80" height="23.00" fill="#6464ff"/>
<rect x="1772.00" y="951.40" width="19.80" height="23.00" fill="#7976fc"/>
<rect x="1791.50" y="951.40" width="19.80" height="23.00" fill="#948ff7"/>
<rect x="1811.00" y="951.40" width="19.80" height="23.00" fill="#6b6afe"/>
<rect x="1830.50" y="951.40" width="19.80" height="23.00" fill="#7976fc"/>
<rect x="1850.00" y="951.40" width="19.80" height="23.00" fill="#807cfb"/>
<rect x="1869.50" y="951.40" width="19.80" height="23.00" fill="#8d89f8"/>
<line x1="1569.0" y1="962.8" x2="1577.0" y2="962.8" stroke="#000" stroke-width="2.7"/>
<text x="1560.6" y="971.0" font-size="23" text-anchor="end">Benzoylformic acid</text>
<rect x="1577.00" y="974.10" width="19.80" height="23.00" fill="#c5b9f0"/>
<rect x="1596.50" y="974.10" width="19.80" height="23.00" fill="#f5dfe3"/>
<rect x="1616.00" y="974.10" width="19.80" height="23.00" fill="#e7d8ea"/>
<rect x="1635.50" y="974.10" width="19.80" height="23.00" fill="#f4c4c8"/>
<rect x="1655.00" y="974.10" width="19.80" height="23.00" fill="#f5dfe3"/>
<rect x="1674.50" y="974.10" width="19.80" height="23.00" fill="#948ff7"/>
<rect x="1694.00" y="974.10" width="19.80" height="23.00" fill="#f5dfe3"/>
<rect x="1713.50" y="974.10" width="19.80" height="23.00" fill="#f2a4a8"/>
<rect x="1733.00" y="974.10" width="19.80" height="23.00" fill="#b0a7f3"/>
<rect x="1752.50" y="974.10" width="19.80" height="23.00" fill="#948ff7"/>
<rect x="1772.00" y="974.10" width="19.80" height="23.00" fill="#b0a7f3"/>
<rect x="1791.50" y="974.10" width="19.80" height="23.00" fill="#e7d8ea"/>
<rect x="1811.00" y="974.10" width="19.80" height="23.00" fill="#948ff7"/>
<rect x="1830.50" y="974.10" width="19.80" height="23.00" fill="#7976fc"/>
<rect x="1850.00" y="974.10" width="19.80" height="23.00" fill="#807cfb"/>
<rect x="1869.50" y="974.10" width="19.80" height="23.00" fill="#7976fc"/>
<line x1="1569.0" y1="985.5" x2="1577.0" y2="985.5" stroke="#000" stroke-width="2.7"/>
<text x="1560.6" y="993.7" font-size="23" text-anchor="end">Nicotinamide mononucleotide</text>
<rect x="1577.00" y="996.80" width="19.80" height="23.00" fill="#d9ccec"/>
<rect x="1596.50" y="996.80" width="19.80" height="23.00" fill="#f5d9dd"/>
<rect x="1616.00" y="996.80" width="19.80" height="23.00" fill="#f4cfd3"/>
<rect x="1635.50" y="996.80" width="19.80" height="23.00" fill="#f4cfd3"/>
<rect x="1655.00" y="996.80" width="19.80" height="23.00" fill="#f5d9dd"/>
<rect x="1674.50" y="996.80" width="19.80" height="23.00" fill="#948ff7"/>
<rect x="1694.00" y="996.80" width="19.80" height="23.00" fill="#f4c4c8"/>
<rect x="1713.50" y="996.80" width="19.80" height="23.00" fill="#f5d9dd"/>
<rect x="1733.00" y="996.80" width="19.80" height="23.00" fill="#a29bf5"/>
<rect x="1752.50" y="996.80" width="19.80" height="23.00" fill="#7976fc"/>
<rect x="1772.00" y="996.80" width="19.80" height="23.00" fill="#7270fd"/>
<rect x="1791.50" y="996.80" width="19.80" height="23.00" fill="#807cfb"/>
<rect x="1811.00" y="996.80" width="19.80" height="23.00" fill="#6b6afe"/>
<rect x="1830.50" y="996.80" width="19.80" height="23.00" fill="#6b6afe"/>
<rect x="1850.00" y="996.80" width="19.80" height="23.00" fill="#7270fd"/>
<rect x="1869.50" y="996.80" width="19.80" height="23.00" fill="#8782fa"/>
<line x1="1569.0" y1="1008.1" x2="1577.0" y2="1008.1" stroke="#000" stroke-width="2.7"/>
<text x="1560.6" y="1016.4" font-size="23" text-anchor="end">4-Pyridoxic acid</text>
<rect x="1577.00" y="1019.50" width="19.80" height="23.00" fill="#ccbfef"/>
<rect x="1596.50" y="1019.50" width="19.80" height="23.00" fill="#ccbfef"/>
<rect x="1616.00" y="1019.50" width="19.80" height="23.00" fill="#f2a9ae"/>
<rect x="1635.50" y="1019.50" width="19.80" height="23.00" fill="#f4c4c8"/>
<rect x="1655.00" y="1019.50" width="19.80" height="23.00" fill="#9b95f6"/>
<rect x="1674.50" y="1019.50" width="19.80" height="23.00" fill="#f4d4d8"/>
<rect x="1694.00" y="1019.50" width="19.80" height="23.00" fill="#f5d9dd"/>
<rect x="1713.50" y="1019.50" width="19.80" height="23.00" fill="#d2c6ed"/>
<rect x="1733.00" y="1019.50" width="19.80" height="23.00" fill="#7270fd"/>
<rect x="1752.50" y="1019.50" width="19.80" height="23.00" fill="#948ff7"/>
<rect x="1772.00" y="1019.50" width="19.80" height="23.00" fill="#a9a1f4"/>
<rect x="1791.50" y="1019.50" width="19.80" height="23.00" fill="#7976fc"/>
<rect x="1811.00" y="1019.50" width="19.80" height="23.00" fill="#a29bf5"/>
<rect x="1830.50" y="1019.50" width="19.80" height="23.00" fill="#a29bf5"/>
<rect x="1850.00" y="1019.50" width="19.80" height="23.00" fill="#8d89f8"/>
<rect x="1869.50" y="1019.50" width="19.80" height="23.00" fill="#7270fd"/>
<line x1="1569.0" y1="1030.8" x2="1577.0" y2="1030.8" stroke="#000" stroke-width="2.7"/>
<text x="1560.6" y="1039.0" font-size="23" text-anchor="end">2-Thiocytidine</text>
<rect x="1577.00" y="1042.20" width="19.80" height="23.00" fill="#c5b9f0"/>
<rect x="1596.50" y="1042.20" width="19.80" height="23.00" fill="#e0d2eb"/>
<rect x="1616.00" y="1042.20" width="19.80" height="23.00" fill="#f2a4a8"/>
<rect x="1635.50" y="1042.20" width="19.80" height="23.00" fill="#f2a4a8"/>
<rect x="1655.00" y="1042.20" width="19.80" height="23.00" fill="#a9a1f4"/>
<rect x="1674.50" y="1042.20" width="19.80" height="23.00" fill="#c5b9f0"/>
<rect x="1694.00" y="1042.20" width="19.80" height="23.00" fill="#eedee9"/>
<rect x="1713.50" y="1042.20" width="19.80" height="23.00" fill="#f5d9dd"/>
<rect x="1733.00" y="1042.20" width="19.80" height="23.00" fill="#7270fd"/>
<rect x="1752.50" y="1042.20" width="19.80" height="23.00" fill="#8d89f8"/>
<rect x="1772.00" y="1042.20" width="19.80" height="23.00" fill="#8782fa"/>
<rect x="1791.50" y="1042.20" width="19.80" height="23.00" fill="#b0a7f3"/>
<rect x="1811.00" y="1042.20" width="19.80" height="23.00" fill="#b0a7f3"/>
<rect x="1830.50" y="1042.20" width="19.80" height="23.00" fill="#948ff7"/>
<rect x="1850.00" y="1042.20" width="19.80" height="23.00" fill="#8d89f8"/>
<rect x="1869.50" y="1042.20" width="19.80" height="23.00" fill="#8d89f8"/>
<line x1="1569.0" y1="1053.5" x2="1577.0" y2="1053.5" stroke="#000" stroke-width="2.7"/>
<text x="1560.6" y="1061.8" font-size="23" text-anchor="end">Cytosine</text>
<rect x="1577.00" y="1064.90" width="19.80" height="23.00" fill="#a9a1f4"/>
<rect x="1596.50" y="1064.90" width="19.80" height="23.00" fill="#beb3f1"/>
<rect x="1616.00" y="1064.90" width="19.80" height="23.00" fill="#f4c9cd"/>
<rect x="1635.50" y="1064.90" width="19.80" height="23.00" fill="#e7d8ea"/>
<rect x="1655.00" y="1064.90" width="19.80" height="23.00" fill="#f4c4c8"/>
<rect x="1674.50" y="1064.90" width="19.80" height="23.00" fill="#f4d4d8"/>
<rect x="1694.00" y="1064.90" width="19.80" height="23.00" fill="#f3b9bd"/>
<rect x="1713.50" y="1064.90" width="19.80" height="23.00" fill="#b0a7f3"/>
<rect x="1733.00" y="1064.90" width="19.80" height="23.00" fill="#807cfb"/>
<rect x="1752.50" y="1064.90" width="19.80" height="23.00" fill="#948ff7"/>
<rect x="1772.00" y="1064.90" width="19.80" height="23.00" fill="#8d89f8"/>
<rect x="1791.50" y="1064.90" width="19.80" height="23.00" fill="#8d89f8"/>
<rect x="1811.00" y="1064.90" width="19.80" height="23.00" fill="#6b6afe"/>
<rect x="1830.50" y="1064.90" width="19.80" height="23.00" fill="#8d89f8"/>
<rect x="1850.00" y="1064.90" width="19.80" height="23.00" fill="#9b95f6"/>
<rect x="1869.50" y="1064.90" width="19.80" height="23.00" fill="#7976fc"/>
<line x1="1569.0" y1="1076.2" x2="1577.0" y2="1076.2" stroke="#000" stroke-width="2.7"/>
<text x="1560.6" y="1084.5" font-size="23" text-anchor="end">5alpha-Pregnane-3,20-dione</text>
<rect x="1577.00" y="1087.60" width="19.80" height="23.00" fill="#a29bf5"/>
<rect x="1596.50" y="1087.60" width="19.80" height="23.00" fill="#ccbfef"/>
<rect x="1616.00" y="1087.60" width="19.80" height="23.00" fill="#f29ea3"/>
<rect x="1635.50" y="1087.60" width="19.80" height="23.00" fill="#f4cfd3"/>
<rect x="1655.00" y="1087.60" width="19.80" height="23.00" fill="#f5e4e8"/>
<rect x="1674.50" y="1087.60" width="19.80" height="23.00" fill="#d2c6ed"/>
<rect x="1694.00" y="1087.60" width="19.80" height="23.00" fill="#f5d9dd"/>
<rect x="1713.50" y="1087.60" width="19.80" height="23.00" fill="#f5dfe3"/>
<rect x="1733.00" y="1087.60" width="19.80" height="23.00" fill="#beb3f1"/>
<rect x="1752.50" y="1087.60" width="19.80" height="23.00" fill="#a29bf5"/>
<rect x="1772.00" y="1087.60" width="19.80" height="23.00" fill="#b7adf2"/>
<rect x="1791.50" y="1087.60" width="19.80" height="23.00" fill="#8782fa"/>
<rect x="1811.00" y="1087.60" width="19.80" height="23.00" fill="#948ff7"/>
<rect x="1830.50" y="1087.60" width="19.80" height="23.00" fill="#8d89f8"/>
<rect x="1850.00" y="1087.60" width="19.80" height="23.00" fill="#948ff7"/>
<rect x="1869.50" y="1087.60" width="19.80" height="23.00" fill="#beb3f1"/>
<line x1="1569.0" y1="1099.0" x2="1577.0" y2="1099.0" stroke="#000" stroke-width="2.7"/>
<text x="1560.6" y="1107.2" font-size="23" text-anchor="end">4-Hydroxyhippuric acid</text>
<rect x="1577.00" y="1110.30" width="19.80" height="23.00" fill="#d9ccec"/>
<rect x="1596.50" y="1110.30" width="19.80" height="23.00" fill="#eedee9"/>
<rect x="1616.00" y="1110.30" width="19.80" height="23.00" fill="#f4c9cd"/>
<rect x="1635.50" y="1110.30" width="19.80" height="23.00" fill="#f4c4c8"/>
<rect x="1655.00" y="1110.30" width="19.80" height="23.00" fill="#f4d4d8"/>
<rect x="1674.50" y="1110.30" width="19.80" height="23.00" fill="#b0a7f3"/>
<rect x="1694.00" y="1110.30" width="19.80" height="23.00" fill="#f4d4d8"/>
<rect x="1713.50" y="1110.30" width="19.80" height="23.00" fill="#f5dfe3"/>
<rect x="1733.00" y="1110.30" width="19.80" height="23.00" fill="#948ff7"/>
<rect x="1752.50" y="1110.30" width="19.80" height="23.00" fill="#8d89f8"/>
<rect x="1772.00" y="1110.30" width="19.80" height="23.00" fill="#6b6afe"/>
<rect x="1791.50" y="1110.30" width="19.80" height="23.00" fill="#9b95f6"/>
<rect x="1811.00" y="1110.30" width="19.80" height="23.00" fill="#807cfb"/>
<rect x="1830.50" y="1110.30" width="19.80" height="23.00" fill="#7976fc"/>
<rect x="1850.00" y="1110.30" width="19.80" height="23.00" fill="#6464ff"/>
<rect x="1869.50" y="1110.30" width="19.80" height="23.00" fill="#9b95f6"/>
<line x1="1569.0" y1="1121.7" x2="1577.0" y2="1121.7" stroke="#000" stroke-width="2.7"/>
<text x="1560.6" y="1129.9" font-size="23" text-anchor="end">2-Hydroxyphenylacetic acid</text>
<rect x="1577.00" y="1133.00" width="19.80" height="23.00" fill="#d2c6ed"/>
<rect x="1596.50" y="1133.00" width="19.80" height="23.00" fill="#f4d4d8"/>
<rect x="1616.00" y="1133.00" width="19.80" height="23.00" fill="#f3b4b8"/>
<rect x="1635.50" y="1133.00" width="19.80" height="23.00" fill="#f4c4c8"/>
<rect x="1655.00" y="1133.00" width="19.80" height="23.00" fill="#d2c6ed"/>
<rect x="1674.50" y="1133.00" width="19.80" height="23.00" fill="#f4cfd3"/>
<rect x="1694.00" y="1133.00" width="19.80" height="23.00" fill="#b0a7f3"/>
<rect x="1713.50" y="1133.00" width="19.80" height="23.00" fill="#d2c6ed"/>
<rect x="1733.00" y="1133.00" width="19.80" height="23.00" fill="#b0a7f3"/>
<rect x="1752.50" y="1133.00" width="19.80" height="23.00" fill="#8782fa"/>
<rect x="1772.00" y="1133.00" width="19.80" height="23.00" fill="#8782fa"/>
<rect x="1791.50" y="1133.00" width="19.80" height="23.00" fill="#807cfb"/>
<rect x="1811.00" y="1133.00" width="19.80" height="23.00" fill="#807cfb"/>
<rect x="1830.50" y="1133.00" width="19.80" height="23.00" fill="#8782fa"/>
<rect x="1850.00" y="1133.00" width="19.80" height="23.00" fill="#8782fa"/>
<rect x="1869.50" y="1133.00" width="19.80" height="23.00" fill="#9b95f6"/>
<line x1="1569.0" y1="1144.3" x2="1577.0" y2="1144.3" stroke="#000" stroke-width="2.7"/>
<text x="1560.6" y="1152.5" font-size="23" text-anchor="end">Salicylic acid</text>
<rect x="1577.00" y="1155.70" width="19.80" height="23.00" fill="#b7adf2"/>
<rect x="1596.50" y="1155.70" width="19.80" height="23.00" fill="#a9a1f4"/>
<rect x="1616.00" y="1155.70" width="19.80" height="23.00" fill="#f4c4c8"/>
<rect x="1635.50" y="1155.70" width="19.80" height="23.00" fill="#f4c9cd"/>
<rect x="1655.00" y="1155.70" width="19.80" height="23.00" fill="#beb3f1"/>
<rect x="1674.50" y="1155.70" width="19.80" height="23.00" fill="#a9a1f4"/>
<rect x="1694.00" y="1155.70" width="19.80" height="23.00" fill="#f2a4a8"/>
<rect x="1713.50" y="1155.70" width="19.80" height="23.00" fill="#f3bec3"/>
<rect x="1733.00" y="1155.70" width="19.80" height="23.00" fill="#a9a1f4"/>
<rect x="1752.50" y="1155.70" width="19.80" height="23.00" fill="#b0a7f3"/>
<rect x="1772.00" y="1155.70" width="19.80" height="23.00" fill="#a9a1f4"/>
<rect x="1791.50" y="1155.70" width="19.80" height="23.00" fill="#a9a1f4"/>
<rect x="1811.00" y="1155.70" width="19.80" height="23.00" fill="#a9a1f4"/>
<rect x="1830.50" y="1155.70" width="19.80" height="23.00" fill="#b7adf2"/>
<rect x="1850.00" y="1155.70" width="19.80" height="23.00" fill="#c5b9f0"/>
<rect x="1869.50" y="1155.70" width="19.80" height="23.00" fill="#6b6afe"/>
<line x1="1569.0" y1="1167.0" x2="1577.0" y2="1167.0" stroke="#000" stroke-width="2.7"/>
<text x="1560.6" y="1175.2" font-size="23" text-anchor="end">Pyrophosphoric acid</text>
<rect x="1577.00" y="1178.40" width="19.80" height="23.00" fill="#ccbfef"/>
<rect x="1596.50" y="1178.40" width="19.80" height="23.00" fill="#f5d9dd"/>
<rect x="1616.00" y="1178.40" width="19.80" height="23.00" fill="#f2a9ae"/>
<rect x="1635.50" y="1178.40" width="19.80" height="23.00" fill="#f4d4d8"/>
<rect x="1655.00" y="1178.40" width="19.80" height="23.00" fill="#948ff7"/>
<rect x="1674.50" y="1178.40" width="19.80" height="23.00" fill="#d2c6ed"/>
<rect x="1694.00" y="1178.40" width="19.80" height="23.00" fill="#f5d9dd"/>
<rect x="1713.50" y="1178.40" width="19.80" height="23.00" fill="#f4c9cd"/>
<rect x="1733.00" y="1178.40" width="19.80" height="23.00" fill="#9b95f6"/>
<rect x="1752.50" y="1178.40" width="19.80" height="23.00" fill="#7976fc"/>
<rect x="1772.00" y="1178.40" width="19.80" height="23.00" fill="#8782fa"/>
<rect x="1791.50" y="1178.40" width="19.80" height="23.00" fill="#8782fa"/>
<rect x="1811.00" y="1178.40" width="19.80" height="23.00" fill="#b0a7f3"/>
<rect x="1830.50" y="1178.40" width="19.80" height="23.00" fill="#807cfb"/>
<rect x="1850.00" y="1178.40" width="19.80" height="23.00" fill="#9b95f6"/>
<rect x="1869.50" y="1178.40" width="19.80" height="23.00" fill="#a9a1f4"/>
<line x1="1569.0" y1="1189.8" x2="1577.0" y2="1189.8" stroke="#000" stroke-width="2.7"/>
<text x="1560.6" y="1198.0" font-size="23" text-anchor="end">Azelaic acid</text>
<rect x="1577.00" y="1201.10" width="19.80" height="23.00" fill="#b0a7f3"/>
<rect x="1596.50" y="1201.10" width="19.80" height="23.00" fill="#beb3f1"/>
<rect x="1616.00" y="1201.10" width="19.80" height="23.00" fill="#f2a4a8"/>
<rect x="1635.50" y="1201.10" width="19.80" height="23.00" fill="#f2a9ae"/>
<rect x="1655.00" y="1201.10" width="19.80" height="23.00" fill="#b0a7f3"/>
<rect x="1674.50" y="1201.10" width="19.80" height="23.00" fill="#f4d4d8"/>
<rect x="1694.00" y="1201.10" width="19.80" height="23.00" fill="#e0d2eb"/>
<rect x="1713.50" y="1201.10" width="19.80" height="23.00" fill="#d9ccec"/>
<rect x="1733.00" y="1201.10" width="19.80" height="23.00" fill="#8d89f8"/>
<rect x="1752.50" y="1201.10" width="19.80" height="23.00" fill="#9b95f6"/>
<rect x="1772.00" y="1201.10" width="19.80" height="23.00" fill="#8d89f8"/>
<rect x="1791.50" y="1201.10" width="19.80" height="23.00" fill="#a9a1f4"/>
<rect x="1811.00" y="1201.10" width="19.80" height="23.00" fill="#d9ccec"/>
<rect x="1830.50" y="1201.10" width="19.80" height="23.00" fill="#8782fa"/>
<rect x="1850.00" y="1201.10" width="19.80" height="23.00" fill="#a29bf5"/>
<rect x="1869.50" y="1201.10" width="19.80" height="23.00" fill="#eedee9"/>
<line x1="1569.0" y1="1212.4" x2="1577.0" y2="1212.4" stroke="#000" stroke-width="2.7"/>
<text x="1560.6" y="1220.6" font-size="23" text-anchor="end">5-Methylcytosine</text>
<rect x="1577.00" y="1223.80" width="19.80" height="23.00" fill="#ccbfef"/>
<rect x="1596.50" y="1223.80" width="19.80" height="23.00" fill="#ccbfef"/>
<rect x="1616.00" y="1223.80" width="19.80" height="23.00" fill="#f4c9cd"/>
<rect x="1635.50" y="1223.80" width="19.80" height="23.00" fill="#f3b9bd"/>
<rect x="1655.00" y="1223.80" width="19.80" height="23.00" fill="#eedee9"/>
<rect x="1674.50" y="1223.80" width="19.80" height="23.00" fill="#9b95f6"/>
<rect x="1694.00" y="1223.80" width="19.80" height="23.00" fill="#f4c9cd"/>
<rect x="1713.50" y="1223.80" width="19.80" height="23.00" fill="#f4cfd3"/>
<rect x="1733.00" y="1223.80" width="19.80" height="23.00" fill="#8782fa"/>
<rect x="1752.50" y="1223.80" width="19.80" height="23.00" fill="#6464ff"/>
<rect x="1772.00" y="1223.80" width="19.80" height="23.00" fill="#8782fa"/>
<rect x="1791.50" y="1223.80" width="19.80" height="23.00" fill="#a29bf5"/>
<rect x="1811.00" y="1223.80" width="19.80" height="23.00" fill="#8d89f8"/>
<rect x="1830.50" y="1223.80" width="19.80" height="23.00" fill="#8d89f8"/>
<rect x="1850.00" y="1223.80" width="19.80" height="23.00" fill="#b0a7f3"/>
<rect x="1869.50" y="1223.80" width="19.80" height="23.00" fill="#9b95f6"/>
<line x1="1569.0" y1="1235.2" x2="1577.0" y2="1235.2" stroke="#000" stroke-width="2.7"/>
<text x="1560.6" y="1243.4" font-size="23" text-anchor="end">2-Oxohexanoic acid</text>
<rect x="1577.00" y="1246.50" width="19.80" height="23.00" fill="#d9ccec"/>
<rect x="1596.50" y="1246.50" width="19.80" height="23.00" fill="#f5d9dd"/>
<rect x="1616.00" y="1246.50" width="19.80" height="23.00" fill="#f3bec3"/>
<rect x="1635.50" y="1246.50" width="19.80" height="23.00" fill="#e7d8ea"/>
<rect x="1655.00" y="1246.50" width="19.80" height="23.00" fill="#b0a7f3"/>
<rect x="1674.50" y="1246.50" width="19.80" height="23.00" fill="#d2c6ed"/>
<rect x="1694.00" y="1246.50" width="19.80" height="23.00" fill="#f4c4c8"/>
<rect x="1713.50" y="1246.50" width="19.80" height="23.00" fill="#f3bec3"/>
<rect x="1733.00" y="1246.50" width="19.80" height="23.00" fill="#8782fa"/>
<rect x="1752.50" y="1246.50" width="19.80" height="23.00" fill="#6464ff"/>
<rect x="1772.00" y="1246.50" width="19.80" height="23.00" fill="#8d89f8"/>
<rect x="1791.50" y="1246.50" width="19.80" height="23.00" fill="#9b95f6"/>
<rect x="1811.00" y="1246.50" width="19.80" height="23.00" fill="#d9ccec"/>
<rect x="1830.50" y="1246.50" width="19.80" height="23.00" fill="#6464ff"/>
<rect x="1850.00" y="1246.50" width="19.80" height="23.00" fill="#a9a1f4"/>
<rect x="1869.50" y="1246.50" width="19.80" height="23.00" fill="#b7adf2"/>
<line x1="1569.0" y1="1257.8" x2="1577.0" y2="1257.8" stroke="#000" stroke-width="2.7"/>
<text x="1560.6" y="1266.0" font-size="23" text-anchor="end">L-Homoserine</text>
<rect x="1577.00" y="1269.20" width="19.80" height="23.00" fill="#beb3f1"/>
<rect x="1596.50" y="1269.20" width="19.80" height="23.00" fill="#beb3f1"/>
<rect x="1616.00" y="1269.20" width="19.80" height="23.00" fill="#f4d4d8"/>
<rect x="1635.50" y="1269.20" width="19.80" height="23.00" fill="#d2c6ed"/>
<rect x="1655.00" y="1269.20" width="19.80" height="23.00" fill="#f5dfe3"/>
<rect x="1674.50" y="1269.20" width="19.80" height="23.00" fill="#f4c9cd"/>
<rect x="1694.00" y="1269.20" width="19.80" height="23.00" fill="#f3bec3"/>
<rect x="1713.50" y="1269.20" width="19.80" height="23.00" fill="#f4c9cd"/>
<rect x="1733.00" y="1269.20" width="19.80" height="23.00" fill="#d9ccec"/>
<rect x="1752.50" y="1269.20" width="19.80" height="23.00" fill="#7976fc"/>
<rect x="1772.00" y="1269.20" width="19.80" height="23.00" fill="#7976fc"/>
<rect x="1791.50" y="1269.20" width="19.80" height="23.00" fill="#6b6afe"/>
<rect x="1811.00" y="1269.20" width="19.80" height="23.00" fill="#807cfb"/>
<rect x="1830.50" y="1269.20" width="19.80" height="23.00" fill="#807cfb"/>
<rect x="1850.00" y="1269.20" width="19.80" height="23.00" fill="#8782fa"/>
<rect x="1869.50" y="1269.20" width="19.80" height="23.00" fill="#948ff7"/>
<line x1="1569.0" y1="1280.5" x2="1577.0" y2="1280.5" stroke="#000" stroke-width="2.7"/>
<text x="1560.6" y="1288.8" font-size="23" text-anchor="end">Xanthurenic acid</text>
<rect x="1577.00" y="1291.90" width="19.80" height="23.00" fill="#beb3f1"/>
<rect x="1596.50" y="1291.90" width="19.80" height="23.00" fill="#d2c6ed"/>
<rect x="1616.00" y="1291.90" width="19.80" height="23.00" fill="#f4c9cd"/>
<rect x="1635.50" y="1291.90" width="19.80" height="23.00" fill="#f5dfe3"/>
<rect x="1655.00" y="1291.90" width="19.80" height="23.00" fill="#f5dfe3"/>
<rect x="1674.50" y="1291.90" width="19.80" height="23.00" fill="#c5b9f0"/>
<rect x="1694.00" y="1291.90" width="19.80" height="23.00" fill="#f3aeb3"/>
<rect x="1713.50" y="1291.90" width="19.80" height="23.00" fill="#f4c9cd"/>
<rect x="1733.00" y="1291.90" width="19.80" height="23.00" fill="#b0a7f3"/>
<rect x="1752.50" y="1291.90" width="19.80" height="23.00" fill="#8782fa"/>
<rect x="1772.00" y="1291.90" width="19.80" height="23.00" fill="#8782fa"/>
<rect x="1791.50" y="1291.90" width="19.80" height="23.00" fill="#7976fc"/>
<rect x="1811.00" y="1291.90" width="19.80" height="23.00" fill="#7976fc"/>
<rect x="1830.50" y="1291.90" width="19.80" height="23.00" fill="#7976fc"/>
<rect x="1850.00" y="1291.90" width="19.80" height="23.00" fill="#8782fa"/>
<rect x="1869.50" y="1291.90" width="19.80" height="23.00" fill="#7270fd"/>
<line x1="1569.0" y1="1303.2" x2="1577.0" y2="1303.2" stroke="#000" stroke-width="2.7"/>
<text x="1560.6" y="1311.5" font-size="23" text-anchor="end">Biotin</text>
<rect x="1577.00" y="1314.60" width="19.80" height="23.00" fill="#a9a1f4"/>
<rect x="1596.50" y="1314.60" width="19.80" height="23.00" fill="#f4d4d8"/>
<rect x="1616.00" y="1314.60" width="19.80" height="23.00" fill="#f3bec3"/>
<rect x="1635.50" y="1314.60" width="19.80" height="23.00" fill="#f3bec3"/>
<rect x="1655.00" y="1314.60" width="19.80" height="23.00" fill="#f5dfe3"/>
<rect x="1674.50" y="1314.60" width="19.80" height="23.00" fill="#8d89f8"/>
<rect x="1694.00" y="1314.60" width="19.80" height="23.00" fill="#f3b9bd"/>
<rect x="1713.50" y="1314.60" width="19.80" height="23.00" fill="#f4d4d8"/>
<rect x="1733.00" y="1314.60" width="19.80" height="23.00" fill="#9b95f6"/>
<rect x="1752.50" y="1314.60" width="19.80" height="23.00" fill="#6b6afe"/>
<rect x="1772.00" y="1314.60" width="19.80" height="23.00" fill="#8782fa"/>
<rect x="1791.50" y="1314.60" width="19.80" height="23.00" fill="#b7adf2"/>
<rect x="1811.00" y="1314.60" width="19.80" height="23.00" fill="#a29bf5"/>
<rect x="1830.50" y="1314.60" width="19.80" height="23.00" fill="#948ff7"/>
<rect x="1850.00" y="1314.60" width="19.80" height="23.00" fill="#a29bf5"/>
<rect x="1869.50" y="1314.60" width="19.80" height="23.00" fill="#8782fa"/>
<line x1="1569.0" y1="1325.9" x2="1577.0" y2="1325.9" stroke="#000" stroke-width="2.7"/>
<text x="1560.6" y="1334.1" font-size="23" text-anchor="end">3-Methyl-2-oxovaleric acid</text>
<rect x="1577.00" y="1337.30" width="19.80" height="23.00" fill="#a9a1f4"/>
<rect x="1596.50" y="1337.30" width="19.80" height="23.00" fill="#a9a1f4"/>
<rect x="1616.00" y="1337.30" width="19.80" height="23.00" fill="#f4c9cd"/>
<rect x="1635.50" y="1337.30" width="19.80" height="23.00" fill="#f5d9dd"/>
<rect x="1655.00" y="1337.30" width="19.80" height="23.00" fill="#f5e4e8"/>
<rect x="1674.50" y="1337.30" width="19.80" height="23.00" fill="#e7d8ea"/>
<rect x="1694.00" y="1337.30" width="19.80" height="23.00" fill="#f2a4a8"/>
<rect x="1713.50" y="1337.30" width="19.80" height="23.00" fill="#f4d4d8"/>
<rect x="1733.00" y="1337.30" width="19.80" height="23.00" fill="#b7adf2"/>
<rect x="1752.50" y="1337.30" width="19.80" height="23.00" fill="#8d89f8"/>
<rect x="1772.00" y="1337.30" width="19.80" height="23.00" fill="#8782fa"/>
<rect x="1791.50" y="1337.30" width="19.80" height="23.00" fill="#6b6afe"/>
<rect x="1811.00" y="1337.30" width="19.80" height="23.00" fill="#a9a1f4"/>
<rect x="1830.50" y="1337.30" width="19.80" height="23.00" fill="#8d89f8"/>
<rect x="1850.00" y="1337.30" width="19.80" height="23.00" fill="#7270fd"/>
<rect x="1869.50" y="1337.30" width="19.80" height="23.00" fill="#a9a1f4"/>
<line x1="1569.0" y1="1348.7" x2="1577.0" y2="1348.7" stroke="#000" stroke-width="2.7"/>
<text x="1560.6" y="1356.9" font-size="23" text-anchor="end">L-Homoarginine</text>
<rect x="1577.00" y="1360.00" width="19.80" height="23.00" fill="#f4d4d8"/>
<rect x="1596.50" y="1360.00" width="19.80" height="23.00" fill="#f4d4d8"/>
<rect x="1616.00" y="1360.00" width="19.80" height="23.00" fill="#f4c9cd"/>
<rect x="1635.50" y="1360.00" width="19.80" height="23.00" fill="#f4d4d8"/>
<rect x="1655.00" y="1360.00" width="19.80" height="23.00" fill="#f4cfd3"/>
<rect x="1674.50" y="1360.00" width="19.80" height="23.00" fill="#a29bf5"/>
<rect x="1694.00" y="1360.00" width="19.80" height="23.00" fill="#d9ccec"/>
<rect x="1713.50" y="1360.00" width="19.80" height="23.00" fill="#f4cfd3"/>
<rect x="1733.00" y="1360.00" width="19.80" height="23.00" fill="#e7d8ea"/>
<rect x="1752.50" y="1360.00" width="19.80" height="23.00" fill="#7270fd"/>
<rect x="1772.00" y="1360.00" width="19.80" height="23.00" fill="#807cfb"/>
<rect x="1791.50" y="1360.00" width="19.80" height="23.00" fill="#807cfb"/>
<rect x="1811.00" y="1360.00" width="19.80" height="23.00" fill="#6b6afe"/>
<rect x="1830.50" y="1360.00" width="19.80" height="23.00" fill="#6464ff"/>
<rect x="1850.00" y="1360.00" width="19.80" height="23.00" fill="#8d89f8"/>
<rect x="1869.50" y="1360.00" width="19.80" height="23.00" fill="#ccbfef"/>
<line x1="1569.0" y1="1371.3" x2="1577.0" y2="1371.3" stroke="#000" stroke-width="2.7"/>
<text x="1560.6" y="1379.5" font-size="23" text-anchor="end">Pyridoxal</text>
<rect x="1577.00" y="1382.70" width="19.80" height="23.00" fill="#a9a1f4"/>
<rect x="1596.50" y="1382.70" width="19.80" height="23.00" fill="#b0a7f3"/>
<rect x="1616.00" y="1382.70" width="19.80" height="23.00" fill="#f4d4d8"/>
<rect x="1635.50" y="1382.70" width="19.80" height="23.00" fill="#f4c9cd"/>
<rect x="1655.00" y="1382.70" width="19.80" height="23.00" fill="#a29bf5"/>
<rect x="1674.50" y="1382.70" width="19.80" height="23.00" fill="#d9ccec"/>
<rect x="1694.00" y="1382.70" width="19.80" height="23.00" fill="#f3b9bd"/>
<rect x="1713.50" y="1382.70" width="19.80" height="23.00" fill="#f29ea3"/>
<rect x="1733.00" y="1382.70" width="19.80" height="23.00" fill="#b0a7f3"/>
<rect x="1752.50" y="1382.70" width="19.80" height="23.00" fill="#b0a7f3"/>
<rect x="1772.00" y="1382.70" width="19.80" height="23.00" fill="#b7adf2"/>
<rect x="1791.50" y="1382.70" width="19.80" height="23.00" fill="#7976fc"/>
<rect x="1811.00" y="1382.70" width="19.80" height="23.00" fill="#7976fc"/>
<rect x="1830.50" y="1382.70" width="19.80" height="23.00" fill="#a9a1f4"/>
<rect x="1850.00" y="1382.70" width="19.80" height="23.00" fill="#c5b9f0"/>
<rect x="1869.50" y="1382.70" width="19.80" height="23.00" fill="#9b95f6"/>
<line x1="1569.0" y1="1394.0" x2="1577.0" y2="1394.0" stroke="#000" stroke-width="2.7"/>
<text x="1560.6" y="1402.2" font-size="23" text-anchor="end">Dodecanedioic acid</text>
<rect x="1577.00" y="1405.40" width="19.80" height="23.00" fill="#b7adf2"/>
<rect x="1596.50" y="1405.40" width="19.80" height="23.00" fill="#ccbfef"/>
<rect x="1616.00" y="1405.40" width="19.80" height="23.00" fill="#f2a4a8"/>
<rect x="1635.50" y="1405.40" width="19.80" height="23.00" fill="#f4d4d8"/>
<rect x="1655.00" y="1405.40" width="19.80" height="23.00" fill="#d9ccec"/>
<rect x="1674.50" y="1405.40" width="19.80" height="23.00" fill="#ccbfef"/>
<rect x="1694.00" y="1405.40" width="19.80" height="23.00" fill="#f5d9dd"/>
<rect x="1713.50" y="1405.40" width="19.80" height="23.00" fill="#f4d4d8"/>
<rect x="1733.00" y="1405.40" width="19.80" height="23.00" fill="#e7d8ea"/>
<rect x="1752.50" y="1405.40" width="19.80" height="23.00" fill="#7976fc"/>
<rect x="1772.00" y="1405.40" width="19.80" height="23.00" fill="#8782fa"/>
<rect x="1791.50" y="1405.40" width="19.80" height="23.00" fill="#8d89f8"/>
<rect x="1811.00" y="1405.40" width="19.80" height="23.00" fill="#6b6afe"/>
<rect x="1830.50" y="1405.40" width="19.80" height="23.00" fill="#7270fd"/>
<rect x="1850.00" y="1405.40" width="19.80" height="23.00" fill="#8782fa"/>
<rect x="1869.50" y="1405.40" width="19.80" height="23.00" fill="#8782fa"/>
<line x1="1569.0" y1="1416.8" x2="1577.0" y2="1416.8" stroke="#000" stroke-width="2.7"/>
<text x="1560.6" y="1425.0" font-size="23" text-anchor="end">1-Methyluric acid</text>
<rect x="1577.00" y="1428.10" width="19.80" height="23.00" fill="#beb3f1"/>
<rect x="1596.50" y="1428.10" width="19.80" height="23.00" fill="#c5b9f0"/>
<rect x="1616.00" y="1428.10" width="19.80" height="23.00" fill="#f3b4b8"/>
<rect x="1635.50" y="1428.10" width="19.80" height="23.00" fill="#f5dfe3"/>
<rect x="1655.00" y="1428.10" width="19.80" height="23.00" fill="#f4d4d8"/>
<rect x="1674.50" y="1428.10" width="19.80" height="23.00" fill="#f5d9dd"/>
<rect x="1694.00" y="1428.10" width="19.80" height="23.00" fill="#f5d9dd"/>
<rect x="1713.50" y="1428.10" width="19.80" height="23.00" fill="#e0d2eb"/>
<rect x="1733.00" y="1428.10" width="19.80" height="23.00" fill="#8d89f8"/>
<rect x="1752.50" y="1428.10" width="19.80" height="23.00" fill="#7976fc"/>
<rect x="1772.00" y="1428.10" width="19.80" height="23.00" fill="#6b6afe"/>
<rect x="1791.50" y="1428.10" width="19.80" height="23.00" fill="#807cfb"/>
<rect x="1811.00" y="1428.10" width="19.80" height="23.00" fill="#807cfb"/>
<rect x="1830.50" y="1428.10" width="19.80" height="23.00" fill="#7976fc"/>
<rect x="1850.00" y="1428.10" width="19.80" height="23.00" fill="#807cfb"/>
<rect x="1869.50" y="1428.10" width="19.80" height="23.00" fill="#6b6afe"/>
<line x1="1569.0" y1="1439.4" x2="1577.0" y2="1439.4" stroke="#000" stroke-width="2.7"/>
<text x="1560.6" y="1447.6" font-size="23" text-anchor="end">2'-O-methylguanosine</text>
<line x1="1733.0" y1="679.0" x2="1733.0" y2="1450.8" stroke="#333" stroke-width="1.3" stroke-dasharray="5,3.5"/>
<rect x="1576.4" y="678.4" width="312.9" height="772.0" fill="none" stroke="#000" stroke-width="2.6"/>
<text x="1562.3" y="1492.0" font-size="26.6">Z-score</text>
<rect x="1698.4" y="1471.5" width="93.3" height="27.5" fill="url(#zg)" stroke="#000" stroke-width="2.7"/>
<line x1="1705.7" y1="1472.8" x2="1705.7" y2="1475.8" stroke="#000" stroke-width="2.6"/>
<line x1="1705.7" y1="1494.2" x2="1705.7" y2="1497.2" stroke="#000" stroke-width="2.6"/>
<line x1="1737.1" y1="1472.8" x2="1737.1" y2="1475.8" stroke="#000" stroke-width="2.6"/>
<line x1="1737.1" y1="1494.2" x2="1737.1" y2="1497.2" stroke="#000" stroke-width="2.6"/>
<line x1="1768.7" y1="1472.8" x2="1768.7" y2="1475.8" stroke="#000" stroke-width="2.6"/>
<line x1="1768.7" y1="1494.2" x2="1768.7" y2="1497.2" stroke="#000" stroke-width="2.6"/>
<text x="1705.0" y="1532.8" font-size="26" text-anchor="middle">-2</text>
<text x="1737.1" y="1532.8" font-size="26" text-anchor="middle">0</text>
<text x="1768.5" y="1532.8" font-size="26" text-anchor="middle">2</text>
<text x="2.5" y="1005.0" font-size="28" font-weight="bold">f</text>
<line x1="131.7" y1="1121.7" x2="131.7" y2="1341.3" stroke="#000" stroke-width="2.5"/>
<line x1="124.7" y1="1340.1" x2="131.7" y2="1340.1" stroke="#000" stroke-width="2.5"/>
<text x="116.7" y="1349.0" font-size="24.6" text-anchor="end">0</text>
<line x1="124.7" y1="1267.7" x2="131.7" y2="1267.7" stroke="#000" stroke-width="2.5"/>
<text x="116.7" y="1276.6" font-size="24.6" text-anchor="end">100</text>
<line x1="124.7" y1="1195.3" x2="131.7" y2="1195.3" stroke="#000" stroke-width="2.5"/>
<text x="116.7" y="1204.2" font-size="24.6" text-anchor="end">200</text>
<line x1="124.7" y1="1122.9" x2="131.7" y2="1122.9" stroke="#000" stroke-width="2.5"/>
<text x="116.7" y="1131.8" font-size="24.6" text-anchor="end">300</text>
<line x1="124.6" y1="1340.1" x2="330.0" y2="1340.1" stroke="#000" stroke-width="2.5"/>
<line x1="156.6" y1="1340.1" x2="156.6" y2="1347.1" stroke="#000" stroke-width="2.5"/>
<line x1="193.5" y1="1340.1" x2="193.5" y2="1347.1" stroke="#000" stroke-width="2.5"/>
<line x1="229.4" y1="1340.1" x2="229.4" y2="1347.1" stroke="#000" stroke-width="2.5"/>
<line x1="265.7" y1="1340.1" x2="265.7" y2="1347.1" stroke="#000" stroke-width="2.5"/>
<line x1="302.2" y1="1340.1" x2="302.2" y2="1347.1" stroke="#000" stroke-width="2.5"/>
<rect x="181.8" y="1166.3" width="23.0" height="173.8" fill="#d6d6d6" stroke="#000" stroke-width="1.6"/>
<rect x="218.2" y="1240.4" width="23.0" height="99.7" fill="#f09ca0" stroke="#000" stroke-width="1.6"/>
<rect x="254.5" y="1229.1" width="23.0" height="111.0" fill="#d4b0b3" stroke="#000" stroke-width="1.6"/>
<rect x="290.9" y="1169.6" width="23.0" height="170.5" fill="#4ca8b6" stroke="#000" stroke-width="1.6"/>
<circle cx="150.0" cy="1339.0" r="5.9" fill="#fff" stroke="#000" stroke-width="1.5"/>
<circle cx="157.2" cy="1336.8" r="5.9" fill="#fff" stroke="#000" stroke-width="1.5"/>
<circle cx="163.7" cy="1338.7" r="5.9" fill="#fff" stroke="#000" stroke-width="1.5"/>
<circle cx="187.0" cy="1164.9" r="5.9" fill="#fff" stroke="#000" stroke-width="1.5"/>
<circle cx="194.0" cy="1162.3" r="5.9" fill="#fff" stroke="#000" stroke-width="1.5"/>
<circle cx="200.6" cy="1164.4" r="5.9" fill="#fff" stroke="#000" stroke-width="1.5"/>
<circle cx="223.2" cy="1240.4" r="5.9" fill="#fff" stroke="#000" stroke-width="1.5"/>
<circle cx="230.0" cy="1236.2" r="5.9" fill="#fff" stroke="#000" stroke-width="1.5"/>
<circle cx="236.5" cy="1237.7" r="5.9" fill="#fff" stroke="#000" stroke-width="1.5"/>
<circle cx="259.2" cy="1228.6" r="5.9" fill="#fff" stroke="#000" stroke-width="1.5"/>
<circle cx="266.3" cy="1225.7" r="5.9" fill="#fff" stroke="#000" stroke-width="1.5"/>
<circle cx="273.4" cy="1227.2" r="5.9" fill="#fff" stroke="#000" stroke-width="1.5"/>
<circle cx="296.0" cy="1167.4" r="5.9" fill="#fff" stroke="#000" stroke-width="1.5"/>
<circle cx="302.5" cy="1166.3" r="5.9" fill="#fff" stroke="#000" stroke-width="1.5"/>
<circle cx="309.6" cy="1167.4" r="5.9" fill="#fff" stroke="#000" stroke-width="1.5"/>
<text x="247.8" y="1004.8" font-size="22.4" text-anchor="middle">0.1412</text>
<line x1="194.0" y1="1025.1" x2="302.5" y2="1025.1" stroke="#000" stroke-width="2.7"/>
<text x="229.4" y="1059.7" font-size="22.4" text-anchor="middle">&lt;0.0001</text>
<line x1="194.0" y1="1080.1" x2="265.7" y2="1080.1" stroke="#000" stroke-width="2.7"/>
<text x="211.0" y="1111.5" font-size="22.4" text-anchor="middle">&lt;0.0001</text>
<line x1="194.0" y1="1132.0" x2="229.4" y2="1132.0" stroke="#000" stroke-width="2.7"/>
<text x="136.0" y="1377.0" font-size="26.4" text-anchor="end">dsDNA:</text>
<text x="156.6" y="1377.0" font-size="26.4" text-anchor="middle">–</text>
<text x="193.5" y="1377.0" font-size="26.4" text-anchor="middle">+</text>
<text x="229.4" y="1377.0" font-size="26.4" text-anchor="middle">+</text>
<text x="265.7" y="1377.0" font-size="26.4" text-anchor="middle">+</text>
<text x="302.2" y="1377.0" font-size="26.4" text-anchor="middle">+</text>
<text x="136.0" y="1406.0" font-size="26.4" text-anchor="end">Serum:</text>
<text x="160.8" y="1396.0" font-size="24.5" text-anchor="end" transform="rotate(-55 160.8 1396.0)">3 Mon.</text>
<text x="195.5" y="1396.0" font-size="24.5" text-anchor="end" transform="rotate(-55 195.5 1396.0)">3 Mon.</text>
<text x="228.0" y="1400.0" font-size="24.5" text-anchor="end" transform="rotate(-55 228.0 1400.0)">No-treat</text>
<text x="267.7" y="1384.0" font-size="24.5" text-anchor="end" transform="rotate(-55 267.7 1384.0)">Met-Sup.</text>
<text x="303.8" y="1384.0" font-size="24.5" text-anchor="end" transform="rotate(-55 303.8 1384.0)">Met-Pre.</text>
<line x1="211.9" y1="1473.3" x2="309.6" y2="1473.3" stroke="#000" stroke-width="2.7"/>
<text x="259.2" y="1512.4" font-size="26.4" text-anchor="middle">20 Mon.</text>
<text x="54" y="1211.4" font-size="26.6" text-anchor="middle" transform="rotate(-90 54 1211.4)">IFN-β (pg/mL)</text>
<text x="463.5" y="1004.0" font-size="28" font-weight="bold">h</text>
<line x1="592.0" y1="1077.5" x2="592.0" y2="1352.2" stroke="#000" stroke-width="2.5"/>
<line x1="583.0" y1="1351.0" x2="592.0" y2="1351.0" stroke="#000" stroke-width="2.5"/>
<text x="575.2" y="1360.1" font-size="25.2" text-anchor="end">0</text>
<line x1="583.0" y1="1260.3" x2="592.0" y2="1260.3" stroke="#000" stroke-width="2.5"/>
<text x="575.2" y="1269.3" font-size="25.2" text-anchor="end">200</text>
<line x1="583.0" y1="1169.5" x2="592.0" y2="1169.5" stroke="#000" stroke-width="2.5"/>
<text x="575.2" y="1178.6" font-size="25.2" text-anchor="end">400</text>
<line x1="583.0" y1="1078.8" x2="592.0" y2="1078.8" stroke="#000" stroke-width="2.5"/>
<text x="575.2" y="1087.9" font-size="25.2" text-anchor="end">600</text>
<line x1="582.8" y1="1351.0" x2="1136.0" y2="1351.0" stroke="#000" stroke-width="2.5"/>
<line x1="612.9" y1="1351.0" x2="612.9" y2="1360.0" stroke="#000" stroke-width="2.5"/>
<line x1="663.2" y1="1351.0" x2="663.2" y2="1360.0" stroke="#000" stroke-width="2.5"/>
<line x1="692.0" y1="1351.0" x2="692.0" y2="1360.0" stroke="#000" stroke-width="2.5"/>
<line x1="721.3" y1="1351.0" x2="721.3" y2="1360.0" stroke="#000" stroke-width="2.5"/>
<line x1="750.1" y1="1351.0" x2="750.1" y2="1360.0" stroke="#000" stroke-width="2.5"/>
<line x1="779.2" y1="1351.0" x2="779.2" y2="1360.0" stroke="#000" stroke-width="2.5"/>
<line x1="808.4" y1="1351.0" x2="808.4" y2="1360.0" stroke="#000" stroke-width="2.5"/>
<line x1="858.3" y1="1351.0" x2="858.3" y2="1360.0" stroke="#000" stroke-width="2.5"/>
<line x1="887.4" y1="1351.0" x2="887.4" y2="1360.0" stroke="#000" stroke-width="2.5"/>
<line x1="916.2" y1="1351.0" x2="916.2" y2="1360.0" stroke="#000" stroke-width="2.5"/>
<line x1="945.9" y1="1351.0" x2="945.9" y2="1360.0" stroke="#000" stroke-width="2.5"/>
<line x1="974.8" y1="1351.0" x2="974.8" y2="1360.0" stroke="#000" stroke-width="2.5"/>
<line x1="1003.8" y1="1351.0" x2="1003.8" y2="1360.0" stroke="#000" stroke-width="2.5"/>
<line x1="1053.4" y1="1351.0" x2="1053.4" y2="1360.0" stroke="#000" stroke-width="2.5"/>
<line x1="1082.4" y1="1351.0" x2="1082.4" y2="1360.0" stroke="#000" stroke-width="2.5"/>
<line x1="1111.3" y1="1351.0" x2="1111.3" y2="1360.0" stroke="#000" stroke-width="2.5"/>
<rect x="652.8" y="1254.8" width="20.8" height="96.2" fill="#d5d5d5" stroke="#000" stroke-width="1.6"/>
<circle cx="657.0" cy="1252.6" r="5.6" fill="#fff" stroke="#000" stroke-width="1.5"/>
<circle cx="663.2" cy="1247.6" r="5.6" fill="#fff" stroke="#000" stroke-width="1.5"/>
<circle cx="669.4" cy="1252.1" r="5.6" fill="#fff" stroke="#000" stroke-width="1.5"/>
<rect x="681.6" y="1319.2" width="20.8" height="31.8" fill="#f5dde0" stroke="#000" stroke-width="1.6"/>
<circle cx="685.8" cy="1317.9" r="5.6" fill="#fff" stroke="#000" stroke-width="1.5"/>
<circle cx="692.0" cy="1316.5" r="5.6" fill="#fff" stroke="#000" stroke-width="1.5"/>
<circle cx="698.2" cy="1317.4" r="5.6" fill="#fff" stroke="#000" stroke-width="1.5"/>
<rect x="710.9" y="1340.6" width="20.8" height="10.4" fill="#f07a7e" stroke="#000" stroke-width="1.6"/>
<circle cx="715.1" cy="1340.6" r="5.6" fill="#fff" stroke="#000" stroke-width="1.5"/>
<circle cx="721.3" cy="1338.3" r="5.6" fill="#fff" stroke="#000" stroke-width="1.5"/>
<circle cx="727.5" cy="1339.2" r="5.6" fill="#fff" stroke="#000" stroke-width="1.5"/>
<rect x="739.7" y="1226.2" width="20.8" height="124.8" fill="#d5d5d5" stroke="#000" stroke-width="1.6"/>
<circle cx="743.9" cy="1233.0" r="5.6" fill="#fff" stroke="#000" stroke-width="1.5"/>
<circle cx="750.1" cy="1223.1" r="5.6" fill="#fff" stroke="#000" stroke-width="1.5"/>
<circle cx="756.3" cy="1224.0" r="5.6" fill="#fff" stroke="#000" stroke-width="1.5"/>
<rect x="768.8" y="1307.0" width="20.8" height="44.0" fill="#f5dde0" stroke="#000" stroke-width="1.6"/>
<circle cx="773.0" cy="1307.0" r="5.6" fill="#fff" stroke="#000" stroke-width="1.5"/>
<circle cx="779.2" cy="1302.9" r="5.6" fill="#fff" stroke="#000" stroke-width="1.5"/>
<circle cx="785.4" cy="1306.1" r="5.6" fill="#fff" stroke="#000" stroke-width="1.5"/>
<rect x="798.0" y="1336.9" width="20.8" height="14.1" fill="#f07a7e" stroke="#000" stroke-width="1.6"/>
<circle cx="802.2" cy="1335.1" r="5.6" fill="#fff" stroke="#000" stroke-width="1.5"/>
<circle cx="808.4" cy="1330.6" r="5.6" fill="#fff" stroke="#000" stroke-width="1.5"/>
<circle cx="814.6" cy="1332.9" r="5.6" fill="#fff" stroke="#000" stroke-width="1.5"/>
<rect x="847.9" y="1218.5" width="20.8" height="132.5" fill="#d5d5d5" stroke="#000" stroke-width="1.6"/>
<circle cx="852.1" cy="1218.5" r="5.6" fill="#fff" stroke="#000" stroke-width="1.5"/>
<circle cx="858.3" cy="1214.9" r="5.6" fill="#fff" stroke="#000" stroke-width="1.5"/>
<circle cx="864.5" cy="1217.2" r="5.6" fill="#fff" stroke="#000" stroke-width="1.5"/>
<rect x="877.0" y="1221.7" width="20.8" height="129.3" fill="#f5dde0" stroke="#000" stroke-width="1.6"/>
<circle cx="881.2" cy="1217.2" r="5.6" fill="#fff" stroke="#000" stroke-width="1.5"/>
<circle cx="887.4" cy="1226.2" r="5.6" fill="#fff" stroke="#000" stroke-width="1.5"/>
<circle cx="893.6" cy="1218.5" r="5.6" fill="#fff" stroke="#000" stroke-width="1.5"/>
<rect x="905.8" y="1230.3" width="20.8" height="120.7" fill="#f07a7e" stroke="#000" stroke-width="1.6"/>
<line x1="916.2" y1="1230.3" x2="916.2" y2="1221.3" stroke="#000" stroke-width="2.4"/>
<line x1="911.7" y1="1221.3" x2="920.7" y2="1221.3" stroke="#000" stroke-width="2.4"/>
<circle cx="910.0" cy="1221.7" r="5.6" fill="#fff" stroke="#000" stroke-width="1.5"/>
<circle cx="916.2" cy="1240.8" r="5.6" fill="#fff" stroke="#000" stroke-width="1.5"/>
<circle cx="922.4" cy="1226.2" r="5.6" fill="#fff" stroke="#000" stroke-width="1.5"/>
<rect x="935.5" y="1146.4" width="20.8" height="204.6" fill="#d5d5d5" stroke="#000" stroke-width="1.6"/>
<line x1="945.9" y1="1146.4" x2="945.9" y2="1136.4" stroke="#000" stroke-width="2.4"/>
<line x1="941.4" y1="1136.4" x2="950.4" y2="1136.4" stroke="#000" stroke-width="2.4"/>
<circle cx="939.7" cy="1137.8" r="5.6" fill="#fff" stroke="#000" stroke-width="1.5"/>
<circle cx="945.9" cy="1159.1" r="5.6" fill="#fff" stroke="#000" stroke-width="1.5"/>
<circle cx="952.1" cy="1147.8" r="5.6" fill="#fff" stroke="#000" stroke-width="1.5"/>
<rect x="964.4" y="1156.4" width="20.8" height="194.6" fill="#f5dde0" stroke="#000" stroke-width="1.6"/>
<line x1="974.8" y1="1156.4" x2="974.8" y2="1146.4" stroke="#000" stroke-width="2.4"/>
<line x1="970.3" y1="1146.4" x2="979.3" y2="1146.4" stroke="#000" stroke-width="2.4"/>
<circle cx="968.6" cy="1164.1" r="5.6" fill="#fff" stroke="#000" stroke-width="1.5"/>
<circle cx="974.8" cy="1145.9" r="5.6" fill="#fff" stroke="#000" stroke-width="1.5"/>
<circle cx="981.0" cy="1162.7" r="5.6" fill="#fff" stroke="#000" stroke-width="1.5"/>
<rect x="993.4" y="1170.4" width="20.8" height="180.6" fill="#f07a7e" stroke="#000" stroke-width="1.6"/>
<line x1="1003.8" y1="1170.4" x2="1003.8" y2="1158.2" stroke="#000" stroke-width="2.4"/>
<line x1="999.3" y1="1158.2" x2="1008.3" y2="1158.2" stroke="#000" stroke-width="2.4"/>
<circle cx="997.6" cy="1177.7" r="5.6" fill="#fff" stroke="#000" stroke-width="1.5"/>
<circle cx="1003.8" cy="1159.1" r="5.6" fill="#fff" stroke="#000" stroke-width="1.5"/>
<circle cx="1010.0" cy="1177.7" r="5.6" fill="#fff" stroke="#000" stroke-width="1.5"/>
<rect x="1043.0" y="1312.4" width="20.8" height="38.6" fill="#d5d5d5" stroke="#000" stroke-width="1.6"/>
<circle cx="1047.2" cy="1316.1" r="5.6" fill="#fff" stroke="#000" stroke-width="1.5"/>
<circle cx="1053.4" cy="1308.4" r="5.6" fill="#fff" stroke="#000" stroke-width="1.5"/>
<circle cx="1059.6" cy="1316.1" r="5.6" fill="#fff" stroke="#000" stroke-width="1.5"/>
<rect x="1072.0" y="1313.3" width="20.8" height="37.7" fill="#f5dde0" stroke="#000" stroke-width="1.6"/>
<line x1="1082.4" y1="1313.3" x2="1082.4" y2="1307.0" stroke="#000" stroke-width="2.4"/>
<line x1="1077.9" y1="1307.0" x2="1086.9" y2="1307.0" stroke="#000" stroke-width="2.4"/>
<circle cx="1076.2" cy="1317.9" r="5.6" fill="#fff" stroke="#000" stroke-width="1.5"/>
<circle cx="1082.4" cy="1305.2" r="5.6" fill="#fff" stroke="#000" stroke-width="1.5"/>
<circle cx="1088.6" cy="1312.9" r="5.6" fill="#fff" stroke="#000" stroke-width="1.5"/>
<rect x="1100.9" y="1312.4" width="20.8" height="38.6" fill="#f07a7e" stroke="#000" stroke-width="1.6"/>
<circle cx="1105.1" cy="1316.1" r="5.6" fill="#fff" stroke="#000" stroke-width="1.5"/>
<circle cx="1111.3" cy="1307.0" r="5.6" fill="#fff" stroke="#000" stroke-width="1.5"/>
<circle cx="1117.5" cy="1313.8" r="5.6" fill="#fff" stroke="#000" stroke-width="1.5"/>
<circle cx="606.4" cy="1350.1" r="5.6" fill="#fff" stroke="#000" stroke-width="1.5"/>
<circle cx="612.9" cy="1347.4" r="5.6" fill="#fff" stroke="#000" stroke-width="1.5"/>
<circle cx="619.4" cy="1350.1" r="5.6" fill="#fff" stroke="#000" stroke-width="1.5"/>
<line x1="638.2" y1="1078.4" x2="638.2" y2="1351.0" stroke="#000" stroke-width="2.9" stroke-dasharray="2.9,5.4"/>
<line x1="833.2" y1="1078.4" x2="833.2" y2="1351.0" stroke="#000" stroke-width="2.9" stroke-dasharray="2.9,5.4"/>
<line x1="1028.8" y1="1078.4" x2="1028.8" y2="1351.0" stroke="#000" stroke-width="2.9" stroke-dasharray="2.9,5.4"/>
<text x="612.9" y="1389.0" font-size="26.4" text-anchor="middle">–</text>
<text x="663.2" y="1389.0" font-size="26.4" text-anchor="middle">–</text>
<text x="692.0" y="1389.0" font-size="26.4" text-anchor="middle">+</text>
<text x="721.3" y="1389.0" font-size="26.4" text-anchor="middle">+</text>
<text x="750.1" y="1389.0" font-size="26.4" text-anchor="middle">–</text>
<text x="779.2" y="1389.0" font-size="26.4" text-anchor="middle">+</text>
<text x="808.4" y="1389.0" font-size="26.4" text-anchor="middle">+</text>
<text x="858.3" y="1389.0" font-size="26.4" text-anchor="middle">–</text>
<text x="887.4" y="1389.0" font-size="26.4" text-anchor="middle">+</text>
<text x="916.2" y="1389.0" font-size="26.4" text-anchor="middle">+</text>
<text x="945.9" y="1389.0" font-size="26.4" text-anchor="middle">–</text>
<text x="974.8" y="1389.0" font-size="26.4" text-anchor="middle">+</text>
<text x="1003.8" y="1389.0" font-size="26.4" text-anchor="middle">+</text>
<text x="1053.4" y="1389.0" font-size="26.4" text-anchor="middle">–</text>
<text x="1082.4" y="1389.0" font-size="26.4" text-anchor="middle">+</text>
<text x="1111.3" y="1389.0" font-size="26.4" text-anchor="middle">+</text>
<line x1="657.2" y1="1407.8" x2="722.4" y2="1407.8" stroke="#000" stroke-width="2.7"/>
<line x1="744.6" y1="1407.8" x2="809.3" y2="1407.8" stroke="#000" stroke-width="2.7"/>
<line x1="851.4" y1="1407.8" x2="916.6" y2="1407.8" stroke="#000" stroke-width="2.7"/>
<line x1="938.8" y1="1407.8" x2="1004.0" y2="1407.8" stroke="#000" stroke-width="2.7"/>
<line x1="1048.7" y1="1407.8" x2="1113.9" y2="1407.8" stroke="#000" stroke-width="2.7"/>
<text x="621.8" y="1447.7" font-size="26.4" text-anchor="end">Stimulations:</text>
<text x="690.5" y="1447.7" font-size="26.6" text-anchor="middle">HSV-1</text>
<text x="779.0" y="1447.7" font-size="26.6" text-anchor="middle">ISD</text>
<text x="883.0" y="1447.7" font-size="26.6" text-anchor="middle">VSV</text>
<text x="972.0" y="1447.7" font-size="26.6" text-anchor="middle">Poly(I:C)</text>
<text x="1081.5" y="1447.7" font-size="26.6" text-anchor="middle">LPS</text>
<line x1="660.8" y1="1465.4" x2="801.3" y2="1465.4" stroke="#000" stroke-width="2.7"/>
<line x1="856.7" y1="1465.4" x2="997.7" y2="1465.4" stroke="#000" stroke-width="2.7"/>
<line x1="1049.6" y1="1465.4" x2="1114.8" y2="1465.4" stroke="#000" stroke-width="2.7"/>
<text x="621.8" y="1504.4" font-size="26.4" text-anchor="end">Pathways:</text>
<text x="734.8" y="1504.4" font-size="26.6" text-anchor="middle">cGAS-STING</text>
<text x="927.7" y="1504.4" font-size="26.6" text-anchor="middle">RLRs</text>
<text x="1082.8" y="1504.4" font-size="26.6" text-anchor="middle">TLRs</text>
<rect x="936.4" y="982.0" width="16.4" height="16.4" fill="#d5d5d5" stroke="#000" stroke-width="1.4"/>
<text x="963.1" y="999.0" font-size="27">Ctrl</text>
<rect x="936.4" y="1011.7" width="16.4" height="16.4" fill="#f5dde0" stroke="#000" stroke-width="1.4"/>
<text x="963.1" y="1028.7" font-size="27">PEP (5 mM)</text>
<rect x="936.4" y="1041.7" width="16.4" height="16.4" fill="#f1959a" stroke="#000" stroke-width="1.4"/>
<text x="963.1" y="1058.7" font-size="27">PEP (10 mM)</text>
<text x="691.4" y="994.6" font-size="22.4" text-anchor="middle">&lt;0.0001</text>
<line x1="663.0" y1="1015.4" x2="720.6" y2="1015.4" stroke="#000" stroke-width="2.7"/>
<text x="779.0" y="994.6" font-size="22.4" text-anchor="middle">&lt;0.0001</text>
<line x1="750.3" y1="1015.4" x2="808.0" y2="1015.4" stroke="#000" stroke-width="2.7"/>
<text x="677.2" y="1046.5" font-size="22.4" text-anchor="middle">&lt;0.0001</text>
<line x1="663.0" y1="1067.3" x2="691.8" y2="1067.3" stroke="#000" stroke-width="2.7"/>
<text x="764.5" y="1052.2" font-size="22.4" text-anchor="middle">&lt;0.0001</text>
<line x1="750.3" y1="1073.5" x2="779.2" y2="1073.5" stroke="#000" stroke-width="2.7"/>
<text x="508" y="1183.9" font-size="26.6" text-anchor="middle" transform="rotate(-90 508 1183.9)">IFN-β (pg/mL)</text>
<text x="4.0" y="1601.4" font-size="28" font-weight="bold">i</text>
<text x="245.3" y="1676.4" font-size="26.8" text-anchor="middle" font-style="italic">Macaca fascicularis</text>
<line x1="149.2" y1="1708.0" x2="149.2" y2="1927.8" stroke="#000" stroke-width="2.5"/>
<line x1="141.2" y1="1926.5" x2="149.2" y2="1926.5" stroke="#000" stroke-width="2.5"/>
<text x="134.5" y="1935.7" font-size="25.5" text-anchor="end">0</text>
<line x1="141.2" y1="1872.2" x2="149.2" y2="1872.2" stroke="#000" stroke-width="2.5"/>
<text x="134.5" y="1881.4" font-size="25.5" text-anchor="end">1</text>
<line x1="141.2" y1="1817.8" x2="149.2" y2="1817.8" stroke="#000" stroke-width="2.5"/>
<text x="134.5" y="1827.0" font-size="25.5" text-anchor="end">2</text>
<line x1="141.2" y1="1763.5" x2="149.2" y2="1763.5" stroke="#000" stroke-width="2.5"/>
<text x="134.5" y="1772.7" font-size="25.5" text-anchor="end">3</text>
<line x1="141.2" y1="1709.2" x2="149.2" y2="1709.2" stroke="#000" stroke-width="2.5"/>
<text x="134.5" y="1718.4" font-size="25.5" text-anchor="end">4</text>
<line x1="141.0" y1="1926.5" x2="257.3" y2="1926.5" stroke="#000" stroke-width="2.5"/>
<rect x="176.9" y="1772.8" width="54.1" height="153.7" fill="#f6dfe2" stroke="#000" stroke-width="1.6"/>
<text x="156.0" y="1733.3" font-size="26.4">0.03396</text>
<text x="206.2" y="1963.4" font-size="26.6" text-anchor="middle">Aged vs young</text>
<text x="209.1" y="1999.7" font-size="23" text-anchor="middle">(Liu et al., 2021)</text>
<text x="63.4" y="1814.7" font-size="26.4" text-anchor="middle" transform="rotate(-90 63.4 1814.7)">PEP relative levels</text>
<text x="95.3" y="1814.1" font-size="26.6" text-anchor="middle" transform="rotate(-90 95.3 1814.1)">(Fold changes)</text>
<text x="377.0" y="1601.0" font-size="28" font-weight="bold">j</text>
<line x1="514.9" y1="1638.7" x2="514.9" y2="1912.2" stroke="#000" stroke-width="2.5"/>
<line x1="507.3" y1="1910.9" x2="514.9" y2="1910.9" stroke="#000" stroke-width="2.5"/>
<text x="499.2" y="1919.7" font-size="24.4" text-anchor="end">0</text>
<line x1="507.3" y1="1820.6" x2="514.9" y2="1820.6" stroke="#000" stroke-width="2.5"/>
<text x="499.2" y="1829.4" font-size="24.4" text-anchor="end">20</text>
<line x1="507.3" y1="1730.2" x2="514.9" y2="1730.2" stroke="#000" stroke-width="2.5"/>
<text x="499.2" y="1739.0" font-size="24.4" text-anchor="end">40</text>
<line x1="507.3" y1="1639.9" x2="514.9" y2="1639.9" stroke="#000" stroke-width="2.5"/>
<text x="499.2" y="1648.7" font-size="24.4" text-anchor="end">60</text>
<line x1="507.3" y1="1910.9" x2="787.8" y2="1910.9" stroke="#000" stroke-width="2.5"/>
<line x1="536.3" y1="1910.9" x2="536.3" y2="1918.5" stroke="#000" stroke-width="2.5"/>
<line x1="568.8" y1="1910.9" x2="568.8" y2="1918.5" stroke="#000" stroke-width="2.5"/>
<line x1="601.1" y1="1910.9" x2="601.1" y2="1918.5" stroke="#000" stroke-width="2.5"/>
<line x1="633.3" y1="1910.9" x2="633.3" y2="1918.5" stroke="#000" stroke-width="2.5"/>
<line x1="665.3" y1="1910.9" x2="665.3" y2="1918.5" stroke="#000" stroke-width="2.5"/>
<line x1="697.6" y1="1910.9" x2="697.6" y2="1918.5" stroke="#000" stroke-width="2.5"/>
<line x1="729.5" y1="1910.9" x2="729.5" y2="1918.5" stroke="#000" stroke-width="2.5"/>
<line x1="761.5" y1="1910.9" x2="761.5" y2="1918.5" stroke="#000" stroke-width="2.5"/>
<rect x="558.2" y="1735.7" width="21.1" height="175.2" fill="#d3d3d3" stroke="#000" stroke-width="1.6"/>
<line x1="568.8" y1="1735.7" x2="568.8" y2="1688.2" stroke="#000" stroke-width="2.4"/>
<line x1="568.8" y1="1688.2" x2="568.8" y2="1688.2" stroke="#000" stroke-width="2.4"/>
<rect x="590.6" y="1782.2" width="21.1" height="128.7" fill="#d0fbea" stroke="#000" stroke-width="1.6"/>
<line x1="601.1" y1="1782.2" x2="601.1" y2="1737.9" stroke="#000" stroke-width="2.4"/>
<line x1="601.1" y1="1737.9" x2="601.1" y2="1737.9" stroke="#000" stroke-width="2.4"/>
<rect x="622.8" y="1790.8" width="21.1" height="120.1" fill="#b8f8e0" stroke="#000" stroke-width="1.6"/>
<line x1="633.3" y1="1790.8" x2="633.3" y2="1759.1" stroke="#000" stroke-width="2.4"/>
<line x1="633.3" y1="1759.1" x2="633.3" y2="1759.1" stroke="#000" stroke-width="2.4"/>
<rect x="654.8" y="1811.1" width="21.1" height="99.8" fill="#78fcb0" stroke="#000" stroke-width="1.6"/>
<line x1="665.3" y1="1811.1" x2="665.3" y2="1791.7" stroke="#000" stroke-width="2.4"/>
<line x1="665.3" y1="1791.7" x2="665.3" y2="1791.7" stroke="#000" stroke-width="2.4"/>
<rect x="687.1" y="1851.7" width="21.1" height="59.2" fill="#55d88a" stroke="#000" stroke-width="1.6"/>
<line x1="697.6" y1="1851.7" x2="697.6" y2="1841.8" stroke="#000" stroke-width="2.4"/>
<line x1="697.6" y1="1841.8" x2="697.6" y2="1841.8" stroke="#000" stroke-width="2.4"/>
<rect x="719.0" y="1897.4" width="21.1" height="13.5" fill="#4caa70" stroke="#000" stroke-width="1.6"/>
<line x1="729.5" y1="1897.4" x2="729.5" y2="1893.7" stroke="#000" stroke-width="2.4"/>
<line x1="729.5" y1="1893.7" x2="729.5" y2="1893.7" stroke="#000" stroke-width="2.4"/>
<circle cx="530.3" cy="1908.2" r="5.2" fill="#fff" stroke="#000" stroke-width="1.5"/>
<circle cx="536.3" cy="1905.5" r="5.2" fill="#fff" stroke="#000" stroke-width="1.5"/>
<circle cx="542.3" cy="1907.7" r="5.2" fill="#fff" stroke="#000" stroke-width="1.5"/>
<circle cx="568.8" cy="1688.2" r="5.2" fill="#fff" stroke="#000" stroke-width="1.5"/>
<circle cx="568.8" cy="1746.0" r="5.2" fill="#fff" stroke="#000" stroke-width="1.5"/>
<circle cx="568.8" cy="1772.7" r="5.2" fill="#fff" stroke="#000" stroke-width="1.5"/>
<circle cx="601.1" cy="1738.8" r="5.2" fill="#fff" stroke="#000" stroke-width="1.5"/>
<circle cx="601.1" cy="1787.1" r="5.2" fill="#fff" stroke="#000" stroke-width="1.5"/>
<circle cx="601.1" cy="1817.9" r="5.2" fill="#fff" stroke="#000" stroke-width="1.5"/>
<circle cx="633.3" cy="1759.1" r="5.2" fill="#fff" stroke="#000" stroke-width="1.5"/>
<circle cx="633.3" cy="1796.2" r="5.2" fill="#fff" stroke="#000" stroke-width="1.5"/>
<circle cx="633.3" cy="1814.7" r="5.2" fill="#fff" stroke="#000" stroke-width="1.5"/>
<circle cx="665.3" cy="1790.8" r="5.2" fill="#fff" stroke="#000" stroke-width="1.5"/>
<circle cx="665.3" cy="1808.8" r="5.2" fill="#fff" stroke="#000" stroke-width="1.5"/>
<circle cx="665.3" cy="1834.1" r="5.2" fill="#fff" stroke="#000" stroke-width="1.5"/>
<circle cx="692.6" cy="1841.8" r="5.2" fill="#fff" stroke="#000" stroke-width="1.5"/>
<circle cx="702.6" cy="1849.9" r="5.2" fill="#fff" stroke="#000" stroke-width="1.5"/>
<circle cx="697.6" cy="1863.0" r="5.2" fill="#fff" stroke="#000" stroke-width="1.5"/>
<circle cx="723.5" cy="1896.9" r="5.2" fill="#fff" stroke="#000" stroke-width="1.5"/>
<circle cx="729.5" cy="1891.9" r="5.2" fill="#fff" stroke="#000" stroke-width="1.5"/>
<circle cx="735.5" cy="1894.2" r="5.2" fill="#fff" stroke="#000" stroke-width="1.5"/>
<circle cx="755.5" cy="1908.6" r="5.2" fill="#fff" stroke="#000" stroke-width="1.5"/>
<circle cx="761.5" cy="1906.8" r="5.2" fill="#fff" stroke="#000" stroke-width="1.5"/>
<circle cx="767.5" cy="1908.2" r="5.2" fill="#fff" stroke="#000" stroke-width="1.5"/>
<text x="446.4" y="1766" font-size="26.8" text-anchor="middle" transform="rotate(-90 446.4 1766)"><tspan font-style="italic">ISG15</tspan> mRNA (relative)</text>
<text x="676.3" y="1766.0" font-size="25.3" transform="rotate(-90 676.3 1766.0)">0.009</text>
<text x="708.3" y="1798.4" font-size="25.3" transform="rotate(-90 708.3 1798.4)">0.0002</text>
<text x="740.0" y="1850.0" font-size="25.3" transform="rotate(-90 740.0 1850.0)">&lt;0.0001</text>
<text x="771.1" y="1883.8" font-size="25.3" transform="rotate(-90 771.1 1883.8)">&lt;0.0001</text>
<text x="511.4" y="1957.0" font-size="26.4" text-anchor="end">dsDNA:</text>
<text x="536.3" y="1957.0" font-size="26.4" text-anchor="middle">–</text>
<text x="568.8" y="1957.0" font-size="26.4" text-anchor="middle">+</text>
<text x="601.1" y="1957.0" font-size="26.4" text-anchor="middle">+</text>
<text x="633.3" y="1957.0" font-size="26.4" text-anchor="middle">+</text>
<text x="665.3" y="1957.0" font-size="26.4" text-anchor="middle">+</text>
<text x="697.6" y="1957.0" font-size="26.4" text-anchor="middle">+</text>
<text x="729.5" y="1957.0" font-size="26.4" text-anchor="middle">+</text>
<text x="761.5" y="1957.0" font-size="26.4" text-anchor="middle">+</text>
<text x="512.8" y="1999.0" font-size="26.4" text-anchor="end">PEP (mM):</text>
<text x="536.3" y="1999.0" font-size="26.4" text-anchor="middle">–</text>
<text x="568.8" y="1999.0" font-size="26.4" text-anchor="middle">–</text>
<text x="599.6" y="1999.0" font-size="26.4" text-anchor="middle">0.5</text>
<text x="633.3" y="1999.0" font-size="26.4" text-anchor="middle">1</text>
<text x="665.3" y="1999.0" font-size="26.4" text-anchor="middle">2</text>
<text x="697.6" y="1999.0" font-size="26.4" text-anchor="middle">5</text>
<text x="729.5" y="1999.0" font-size="26.4" text-anchor="middle">10</text>
<text x="761.5" y="1999.0" font-size="26.4" text-anchor="middle">20</text>
<line x1="928.2" y1="1640.8" x2="928.2" y2="1914.8" stroke="#000" stroke-width="2.5"/>
<line x1="920.6" y1="1913.6" x2="928.2" y2="1913.6" stroke="#000" stroke-width="2.5"/>
<text x="911.6" y="1922.4" font-size="24.5" text-anchor="end">0</text>
<line x1="920.6" y1="1845.7" x2="928.2" y2="1845.7" stroke="#000" stroke-width="2.5"/>
<text x="911.6" y="1854.5" font-size="24.5" text-anchor="end">50</text>
<line x1="920.6" y1="1777.8" x2="928.2" y2="1777.8" stroke="#000" stroke-width="2.5"/>
<text x="911.6" y="1786.7" font-size="24.5" text-anchor="end">100</text>
<line x1="920.6" y1="1710.0" x2="928.2" y2="1710.0" stroke="#000" stroke-width="2.5"/>
<text x="911.6" y="1718.8" font-size="24.5" text-anchor="end">150</text>
<line x1="920.6" y1="1642.1" x2="928.2" y2="1642.1" stroke="#000" stroke-width="2.5"/>
<text x="911.6" y="1650.9" font-size="24.5" text-anchor="end">200</text>
<line x1="920.0" y1="1913.6" x2="1199.0" y2="1913.6" stroke="#000" stroke-width="2.5"/>
<line x1="949.3" y1="1913.6" x2="949.3" y2="1921.2" stroke="#000" stroke-width="2.5"/>
<line x1="981.6" y1="1913.6" x2="981.6" y2="1921.2" stroke="#000" stroke-width="2.5"/>
<line x1="1013.5" y1="1913.6" x2="1013.5" y2="1921.2" stroke="#000" stroke-width="2.5"/>
<line x1="1045.5" y1="1913.6" x2="1045.5" y2="1921.2" stroke="#000" stroke-width="2.5"/>
<line x1="1077.7" y1="1913.6" x2="1077.7" y2="1921.2" stroke="#000" stroke-width="2.5"/>
<line x1="1109.7" y1="1913.6" x2="1109.7" y2="1921.2" stroke="#000" stroke-width="2.5"/>
<line x1="1141.7" y1="1913.6" x2="1141.7" y2="1921.2" stroke="#000" stroke-width="2.5"/>
<line x1="1174.2" y1="1913.6" x2="1174.2" y2="1921.2" stroke="#000" stroke-width="2.5"/>
<rect x="971.1" y="1719.5" width="21.1" height="194.1" fill="#d3d3d3" stroke="#000" stroke-width="1.6"/>
<line x1="981.6" y1="1719.5" x2="981.6" y2="1663.8" stroke="#000" stroke-width="2.4"/>
<line x1="981.6" y1="1663.8" x2="981.6" y2="1663.8" stroke="#000" stroke-width="2.4"/>
<rect x="1003.0" y="1790.1" width="21.1" height="123.5" fill="#d0fbea" stroke="#000" stroke-width="1.6"/>
<line x1="1013.5" y1="1790.1" x2="1013.5" y2="1742.6" stroke="#000" stroke-width="2.4"/>
<line x1="1013.5" y1="1742.6" x2="1013.5" y2="1742.6" stroke="#000" stroke-width="2.4"/>
<rect x="1035.0" y="1803.6" width="21.1" height="110.0" fill="#b8f8e0" stroke="#000" stroke-width="1.6"/>
<line x1="1045.5" y1="1803.6" x2="1045.5" y2="1771.1" stroke="#000" stroke-width="2.4"/>
<line x1="1045.5" y1="1771.1" x2="1045.5" y2="1771.1" stroke="#000" stroke-width="2.4"/>
<rect x="1067.2" y="1813.8" width="21.1" height="99.8" fill="#78fcb0" stroke="#000" stroke-width="1.6"/>
<line x1="1077.7" y1="1813.8" x2="1077.7" y2="1775.8" stroke="#000" stroke-width="2.4"/>
<line x1="1077.7" y1="1775.8" x2="1077.7" y2="1775.8" stroke="#000" stroke-width="2.4"/>
<rect x="1099.2" y="1842.3" width="21.1" height="71.3" fill="#55d88a" stroke="#000" stroke-width="1.6"/>
<line x1="1109.7" y1="1842.3" x2="1109.7" y2="1820.6" stroke="#000" stroke-width="2.4"/>
<line x1="1109.7" y1="1820.6" x2="1109.7" y2="1820.6" stroke="#000" stroke-width="2.4"/>
<rect x="1131.2" y="1898.7" width="21.1" height="14.9" fill="#4caa70" stroke="#000" stroke-width="1.6"/>
<line x1="1141.7" y1="1898.7" x2="1141.7" y2="1894.6" stroke="#000" stroke-width="2.4"/>
<line x1="1141.7" y1="1894.6" x2="1141.7" y2="1894.6" stroke="#000" stroke-width="2.4"/>
<circle cx="943.3" cy="1912.2" r="5.2" fill="#fff" stroke="#000" stroke-width="1.5"/>
<circle cx="949.3" cy="1911.6" r="5.2" fill="#fff" stroke="#000" stroke-width="1.5"/>
<circle cx="955.3" cy="1912.0" r="5.2" fill="#fff" stroke="#000" stroke-width="1.5"/>
<circle cx="981.6" cy="1665.2" r="5.2" fill="#fff" stroke="#000" stroke-width="1.5"/>
<circle cx="981.6" cy="1725.3" r="5.2" fill="#fff" stroke="#000" stroke-width="1.5"/>
<circle cx="981.6" cy="1772.7" r="5.2" fill="#fff" stroke="#000" stroke-width="1.5"/>
<circle cx="1013.5" cy="1752.1" r="5.2" fill="#fff" stroke="#000" stroke-width="1.5"/>
<circle cx="1013.5" cy="1776.5" r="5.2" fill="#fff" stroke="#000" stroke-width="1.5"/>
<circle cx="1013.5" cy="1843.4" r="5.2" fill="#fff" stroke="#000" stroke-width="1.5"/>
<circle cx="1045.5" cy="1771.1" r="5.2" fill="#fff" stroke="#000" stroke-width="1.5"/>
<circle cx="1045.5" cy="1798.2" r="5.2" fill="#fff" stroke="#000" stroke-width="1.5"/>
<circle cx="1045.5" cy="1843.7" r="5.2" fill="#fff" stroke="#000" stroke-width="1.5"/>
<circle cx="1077.7" cy="1775.4" r="5.2" fill="#fff" stroke="#000" stroke-width="1.5"/>
<circle cx="1077.7" cy="1810.6" r="5.2" fill="#fff" stroke="#000" stroke-width="1.5"/>
<circle cx="1077.7" cy="1855.2" r="5.2" fill="#fff" stroke="#000" stroke-width="1.5"/>
<circle cx="1109.7" cy="1821.6" r="5.2" fill="#fff" stroke="#000" stroke-width="1.5"/>
<circle cx="1109.7" cy="1835.8" r="5.2" fill="#fff" stroke="#000" stroke-width="1.5"/>
<circle cx="1109.7" cy="1868.3" r="5.2" fill="#fff" stroke="#000" stroke-width="1.5"/>
<circle cx="1135.7" cy="1893.8" r="5.2" fill="#fff" stroke="#000" stroke-width="1.5"/>
<circle cx="1147.7" cy="1897.3" r="5.2" fill="#fff" stroke="#000" stroke-width="1.5"/>
<circle cx="1135.7" cy="1905.5" r="5.2" fill="#fff" stroke="#000" stroke-width="1.5"/>
<circle cx="1168.2" cy="1912.2" r="5.2" fill="#fff" stroke="#000" stroke-width="1.5"/>
<circle cx="1174.2" cy="1911.4" r="5.2" fill="#fff" stroke="#000" stroke-width="1.5"/>
<circle cx="1180.2" cy="1912.1" r="5.2" fill="#fff" stroke="#000" stroke-width="1.5"/>
<text x="851" y="1773.4" font-size="26.8" text-anchor="middle" transform="rotate(-90 851 1773.4)"><tspan font-style="italic">IFIT1</tspan> mRNA (relative)</text>
<text x="1056.5" y="1738.8" font-size="25.3" transform="rotate(-90 1056.5 1738.8)">0.0362</text>
<text x="1093.0" y="1763.0" font-size="25.3" transform="rotate(-90 1093.0 1763.0)">0.0177</text>
<text x="1124.0" y="1801.0" font-size="25.3" transform="rotate(-90 1124.0 1801.0)">0.0022</text>
<text x="1154.6" y="1852.6" font-size="25.3" transform="rotate(-90 1154.6 1852.6)">&lt;0.0001</text>
<text x="1186.5" y="1886.5" font-size="25.3" transform="rotate(-90 1186.5 1886.5)">&lt;0.0001</text>
<text x="925.5" y="1959.6" font-size="26.4" text-anchor="end">dsDNA:</text>
<text x="949.3" y="1959.6" font-size="26.4" text-anchor="middle">–</text>
<text x="981.6" y="1959.6" font-size="26.4" text-anchor="middle">+</text>
<text x="1013.5" y="1959.6" font-size="26.4" text-anchor="middle">+</text>
<text x="1045.5" y="1959.6" font-size="26.4" text-anchor="middle">+</text>
<text x="1077.7" y="1959.6" font-size="26.4" text-anchor="middle">+</text>
<text x="1109.7" y="1959.6" font-size="26.4" text-anchor="middle">+</text>
<text x="1141.7" y="1959.6" font-size="26.4" text-anchor="middle">+</text>
<text x="1174.2" y="1959.6" font-size="26.4" text-anchor="middle">+</text>
<text x="925.5" y="2000.3" font-size="26.4" text-anchor="end">PEP (mM):</text>
<text x="949.3" y="2000.3" font-size="26.4" text-anchor="middle">–</text>
<text x="981.6" y="2000.3" font-size="26.4" text-anchor="middle">–</text>
<text x="1012.0" y="2000.3" font-size="26.4" text-anchor="middle">0.5</text>
<text x="1045.5" y="2000.3" font-size="26.4" text-anchor="middle">1</text>
<text x="1077.7" y="2000.3" font-size="26.4" text-anchor="middle">2</text>
<text x="1109.7" y="2000.3" font-size="26.4" text-anchor="middle">5</text>
<text x="1141.7" y="2000.3" font-size="26.4" text-anchor="middle">10</text>
<text x="1174.2" y="2000.3" font-size="26.4" text-anchor="middle">20</text>
<text x="1239.0" y="1602.0" font-size="28" font-weight="bold">k</text>
<line x1="1341.2" y1="1679.2" x2="1341.2" y2="1947.0" stroke="#000" stroke-width="2.5"/>
<line x1="1334.6" y1="1945.8" x2="1341.2" y2="1945.8" stroke="#000" stroke-width="2.5"/>
<text x="1328.0" y="1955.0" font-size="25.6" text-anchor="end">0</text>
<line x1="1334.6" y1="1879.5" x2="1341.2" y2="1879.5" stroke="#000" stroke-width="2.5"/>
<text x="1328.0" y="1888.7" font-size="25.6" text-anchor="end">100</text>
<line x1="1334.6" y1="1813.1" x2="1341.2" y2="1813.1" stroke="#000" stroke-width="2.5"/>
<text x="1328.0" y="1822.3" font-size="25.6" text-anchor="end">200</text>
<line x1="1334.6" y1="1746.8" x2="1341.2" y2="1746.8" stroke="#000" stroke-width="2.5"/>
<text x="1328.0" y="1756.0" font-size="25.6" text-anchor="end">300</text>
<line x1="1334.6" y1="1680.4" x2="1341.2" y2="1680.4" stroke="#000" stroke-width="2.5"/>
<text x="1328.0" y="1689.6" font-size="25.6" text-anchor="end">400</text>
<line x1="1334.6" y1="1945.8" x2="1712.9" y2="1945.8" stroke="#000" stroke-width="2.5"/>
<line x1="1431.6" y1="1945.8" x2="1431.6" y2="1952.4" stroke="#000" stroke-width="2.5"/>
<line x1="1622.5" y1="1945.8" x2="1622.5" y2="1952.4" stroke="#000" stroke-width="2.5"/>
<rect x="1356.5" y="1935.8" width="26.9" height="10.0" fill="#d6d6d6" stroke="#000" stroke-width="1.6"/>
<rect x="1397.2" y="1935.2" width="26.9" height="10.6" fill="#a2a1a6" stroke="#000" stroke-width="1.6"/>
<rect x="1438.8" y="1933.2" width="26.9" height="12.6" fill="#78f8b0" stroke="#000" stroke-width="1.6"/>
<rect x="1479.8" y="1934.5" width="26.9" height="11.3" fill="#4fd68a" stroke="#000" stroke-width="1.6"/>
<rect x="1548.5" y="1763.3" width="26.9" height="182.5" fill="#d6d6d6" stroke="#000" stroke-width="1.6"/>
<line x1="1562.0" y1="1763.3" x2="1562.0" y2="1753.4" stroke="#000" stroke-width="2.4"/>
<line x1="1557.0" y1="1753.4" x2="1567.0" y2="1753.4" stroke="#000" stroke-width="2.4"/>
<rect x="1589.5" y="1766.7" width="26.9" height="179.1" fill="#a2a1a6" stroke="#000" stroke-width="1.6"/>
<line x1="1603.0" y1="1766.7" x2="1603.0" y2="1755.4" stroke="#000" stroke-width="2.4"/>
<line x1="1598.0" y1="1755.4" x2="1608.0" y2="1755.4" stroke="#000" stroke-width="2.4"/>
<rect x="1631.0" y="1884.1" width="26.9" height="61.7" fill="#78f8b0" stroke="#000" stroke-width="1.6"/>
<line x1="1644.4" y1="1884.1" x2="1644.4" y2="1879.5" stroke="#000" stroke-width="2.4"/>
<line x1="1639.4" y1="1879.5" x2="1649.4" y2="1879.5" stroke="#000" stroke-width="2.4"/>
<rect x="1672.0" y="1884.8" width="26.9" height="61.0" fill="#4fd68a" stroke="#000" stroke-width="1.6"/>
<circle cx="1361.9" cy="1936.5" r="5.8" fill="#fff" stroke="#000" stroke-width="1.5"/>
<circle cx="1369.9" cy="1933.9" r="5.8" fill="#fff" stroke="#000" stroke-width="1.5"/>
<circle cx="1377.9" cy="1933.9" r="5.8" fill="#fff" stroke="#000" stroke-width="1.5"/>
<circle cx="1402.7" cy="1935.2" r="5.8" fill="#fff" stroke="#000" stroke-width="1.5"/>
<circle cx="1410.7" cy="1933.9" r="5.8" fill="#fff" stroke="#000" stroke-width="1.5"/>
<circle cx="1418.7" cy="1933.9" r="5.8" fill="#fff" stroke="#000" stroke-width="1.5"/>
<circle cx="1444.2" cy="1936.5" r="5.8" fill="#fff" stroke="#000" stroke-width="1.5"/>
<circle cx="1452.2" cy="1931.2" r="5.8" fill="#fff" stroke="#000" stroke-width="1.5"/>
<circle cx="1460.2" cy="1931.2" r="5.8" fill="#fff" stroke="#000" stroke-width="1.5"/>
<circle cx="1485.2" cy="1935.2" r="5.8" fill="#fff" stroke="#000" stroke-width="1.5"/>
<circle cx="1493.2" cy="1933.2" r="5.8" fill="#fff" stroke="#000" stroke-width="1.5"/>
<circle cx="1501.2" cy="1933.2" r="5.8" fill="#fff" stroke="#000" stroke-width="1.5"/>
<circle cx="1553.7" cy="1758.7" r="5.8" fill="#fff" stroke="#000" stroke-width="1.5"/>
<circle cx="1562.0" cy="1774.6" r="5.8" fill="#fff" stroke="#000" stroke-width="1.5"/>
<circle cx="1570.3" cy="1760.7" r="5.8" fill="#fff" stroke="#000" stroke-width="1.5"/>
<circle cx="1594.7" cy="1758.7" r="5.8" fill="#fff" stroke="#000" stroke-width="1.5"/>
<circle cx="1603.0" cy="1779.3" r="5.8" fill="#fff" stroke="#000" stroke-width="1.5"/>
<circle cx="1611.3" cy="1761.3" r="5.8" fill="#fff" stroke="#000" stroke-width="1.5"/>
<circle cx="1636.1" cy="1888.4" r="5.8" fill="#fff" stroke="#000" stroke-width="1.5"/>
<circle cx="1644.4" cy="1874.8" r="5.8" fill="#fff" stroke="#000" stroke-width="1.5"/>
<circle cx="1652.7" cy="1887.0" r="5.8" fill="#fff" stroke="#000" stroke-width="1.5"/>
<circle cx="1677.1" cy="1886.1" r="5.8" fill="#fff" stroke="#000" stroke-width="1.5"/>
<circle cx="1685.4" cy="1879.0" r="5.8" fill="#fff" stroke="#000" stroke-width="1.5"/>
<circle cx="1693.7" cy="1886.1" r="5.8" fill="#fff" stroke="#000" stroke-width="1.5"/>
<text x="1431.6" y="1982.4" font-size="26.5" text-anchor="middle">Ctrl</text>
<text x="1622.5" y="1982.4" font-size="26.5" text-anchor="middle">dsDNA</text>
<text x="1264" y="1805.8" font-size="26.6" text-anchor="middle" transform="rotate(-90 1264 1805.8)">IFN-β (pg/mL)</text>
<rect x="1748.9" y="1595.1" width="15.4" height="15.2" fill="#d6d6d6" stroke="#000" stroke-width="1.4"/>
<text x="1786.5" y="1612.0" font-size="27">Veh-pH 7.2</text>
<rect x="1748.9" y="1630.4" width="15.4" height="15.2" fill="#a2a1a6" stroke="#000" stroke-width="1.4"/>
<text x="1786.5" y="1647.3" font-size="27">Veh-pH 5.6</text>
<rect x="1748.9" y="1666.5" width="15.4" height="15.2" fill="#78f8b0" stroke="#000" stroke-width="1.4"/>
<text x="1789.6" y="1683.4" font-size="27">PEP-pH 7.2</text>
<rect x="1748.9" y="1702.7" width="15.4" height="15.2" fill="#4fd68a" stroke="#000" stroke-width="1.4"/>
<text x="1786.5" y="1719.6" font-size="27">PEP-pH 5.6</text>
<text x="1602.7" y="1598.8" font-size="22.4" text-anchor="middle">&lt;0.0001</text>
<line x1="1562.1" y1="1618.6" x2="1644.1" y2="1618.6" stroke="#000" stroke-width="2.7"/>
<text x="1643.2" y="1654.8" font-size="22.4" text-anchor="middle">&lt;0.0001</text>
<line x1="1602.7" y1="1675.5" x2="1685.1" y2="1675.5" stroke="#000" stroke-width="2.7"/>
<text x="1582.4" y="1714.3" font-size="22.4" text-anchor="middle">&gt;0.9999</text>
<line x1="1562.1" y1="1734.1" x2="1602.7" y2="1734.1" stroke="#000" stroke-width="2.7"/>
<text x="1664.4" y="1834.2" font-size="22.4" text-anchor="middle">&gt;0.9999</text>
<line x1="1644.1" y1="1854.5" x2="1685.1" y2="1854.5" stroke="#000" stroke-width="2.7"/>
<text x="3.5" y="2115.0" font-size="28" font-weight="bold">l</text>
<text x="200.2" y="2171.9" font-size="26.5" text-anchor="middle">BMDM</text>
<line x1="130.4" y1="2323.4" x2="130.4" y2="2564.7" stroke="#000" stroke-width="2.5"/>
<line x1="123.0" y1="2563.4" x2="130.4" y2="2563.4" stroke="#000" stroke-width="2.5"/>
<text x="114.8" y="2572.6" font-size="25.6" text-anchor="end">0</text>
<line x1="123.0" y1="2483.8" x2="130.4" y2="2483.8" stroke="#000" stroke-width="2.5"/>
<text x="114.8" y="2493.0" font-size="25.6" text-anchor="end">200</text>
<line x1="123.0" y1="2404.3" x2="130.4" y2="2404.3" stroke="#000" stroke-width="2.5"/>
<text x="114.8" y="2413.5" font-size="25.6" text-anchor="end">400</text>
<line x1="123.0" y1="2324.7" x2="130.4" y2="2324.7" stroke="#000" stroke-width="2.5"/>
<text x="114.8" y="2333.9" font-size="25.6" text-anchor="end">600</text>
<line x1="123.0" y1="2563.4" x2="326.2" y2="2563.4" stroke="#000" stroke-width="2.5"/>
<line x1="153.7" y1="2563.4" x2="153.7" y2="2570.8" stroke="#000" stroke-width="2.5"/>
<line x1="190.5" y1="2563.4" x2="190.5" y2="2570.8" stroke="#000" stroke-width="2.5"/>
<line x1="226.7" y1="2563.4" x2="226.7" y2="2570.8" stroke="#000" stroke-width="2.5"/>
<line x1="262.9" y1="2563.4" x2="262.9" y2="2570.8" stroke="#000" stroke-width="2.5"/>
<line x1="299.4" y1="2563.4" x2="299.4" y2="2570.8" stroke="#000" stroke-width="2.5"/>
<rect x="179.0" y="2399.5" width="23.0" height="163.9" fill="#d6d6d6" stroke="#000" stroke-width="1.6"/>
<line x1="190.5" y1="2399.5" x2="190.5" y2="2363.3" stroke="#000" stroke-width="2.4"/>
<line x1="190.5" y1="2363.3" x2="190.5" y2="2363.3" stroke="#000" stroke-width="2.4"/>
<rect x="251.4" y="2527.6" width="23.0" height="35.8" fill="#f09a9e" stroke="#000" stroke-width="1.6"/>
<line x1="262.9" y1="2527.6" x2="262.9" y2="2518.8" stroke="#000" stroke-width="2.4"/>
<line x1="257.9" y1="2518.8" x2="267.9" y2="2518.8" stroke="#000" stroke-width="2.4"/>
<rect x="287.9" y="2394.3" width="23.0" height="169.1" fill="#f0d8e6" stroke="#000" stroke-width="1.6"/>
<line x1="299.4" y1="2394.3" x2="299.4" y2="2354.5" stroke="#000" stroke-width="2.4"/>
<line x1="299.4" y1="2354.5" x2="299.4" y2="2354.5" stroke="#000" stroke-width="2.4"/>
<circle cx="147.7" cy="2563.4" r="5.3" fill="#fff" stroke="#000" stroke-width="1.5"/>
<circle cx="155.7" cy="2563.4" r="5.3" fill="#fff" stroke="#000" stroke-width="1.5"/>
<circle cx="161.7" cy="2563.4" r="5.3" fill="#fff" stroke="#000" stroke-width="1.5"/>
<circle cx="190.5" cy="2363.3" r="5.3" fill="#fff" stroke="#000" stroke-width="1.5"/>
<circle cx="190.5" cy="2402.7" r="5.3" fill="#fff" stroke="#000" stroke-width="1.5"/>
<circle cx="190.5" cy="2430.9" r="5.3" fill="#fff" stroke="#000" stroke-width="1.5"/>
<circle cx="220.2" cy="2563.4" r="5.3" fill="#fff" stroke="#000" stroke-width="1.5"/>
<circle cx="226.7" cy="2563.4" r="5.3" fill="#fff" stroke="#000" stroke-width="1.5"/>
<circle cx="234.0" cy="2563.4" r="5.3" fill="#fff" stroke="#000" stroke-width="1.5"/>
<circle cx="256.1" cy="2516.9" r="5.3" fill="#fff" stroke="#000" stroke-width="1.5"/>
<circle cx="269.4" cy="2527.2" r="5.3" fill="#fff" stroke="#000" stroke-width="1.5"/>
<circle cx="256.7" cy="2533.2" r="5.3" fill="#fff" stroke="#000" stroke-width="1.5"/>
<circle cx="299.4" cy="2354.5" r="5.3" fill="#fff" stroke="#000" stroke-width="1.5"/>
<circle cx="299.4" cy="2394.7" r="5.3" fill="#fff" stroke="#000" stroke-width="1.5"/>
<circle cx="299.4" cy="2431.7" r="5.3" fill="#fff" stroke="#000" stroke-width="1.5"/>
<text x="244.3" y="2213.7" font-size="22.5" text-anchor="middle">0.9906</text>
<line x1="191.3" y1="2234.3" x2="298.8" y2="2234.3" stroke="#000" stroke-width="2.7"/>
<text x="279.7" y="2269.0" font-size="22.5" text-anchor="middle">0.0001</text>
<line x1="263.5" y1="2289.6" x2="298.8" y2="2289.6" stroke="#000" stroke-width="2.7"/>
<text x="226.7" y="2318.2" font-size="22.5" text-anchor="middle">0.0002</text>
<line x1="191.3" y1="2339.7" x2="262.6" y2="2339.7" stroke="#000" stroke-width="2.7"/>
<text x="54.3" y="2434.5" font-size="26.6" text-anchor="middle" transform="rotate(-90 54.3 2434.5)"><tspan font-style="italic">Cxcl10</tspan> relative level</text>
<text x="120.7" y="2613.5" font-size="26.4" text-anchor="end">dsDNA:</text>
<text x="153.7" y="2619.0" font-size="26.4" text-anchor="middle">–</text>
<text x="190.5" y="2619.0" font-size="26.4" text-anchor="middle">+</text>
<text x="226.7" y="2619.0" font-size="26.4" text-anchor="middle">–</text>
<text x="262.9" y="2619.0" font-size="26.4" text-anchor="middle">+</text>
<text x="299.4" y="2619.0" font-size="26.4" text-anchor="middle">+</text>
<text x="120.7" y="2650.0" font-size="26.4" text-anchor="end">Pkm2:</text>
<text x="153.7" y="2650.0" font-size="26.4" text-anchor="middle">–</text>
<text x="190.5" y="2650.0" font-size="26.4" text-anchor="middle">–</text>
<text x="226.7" y="2650.0" font-size="26.4" text-anchor="middle">–</text>
<text x="262.9" y="2650.0" font-size="26.4" text-anchor="middle">–</text>
<text x="299.4" y="2650.0" font-size="26.4" text-anchor="middle">+</text>
<text x="120.7" y="2684.4" font-size="26.4" text-anchor="end">Serum:</text>
<line x1="146.6" y1="2666.4" x2="211.4" y2="2666.4" stroke="#000" stroke-width="2.7"/>
<line x1="217.8" y1="2666.4" x2="315.9" y2="2666.4" stroke="#000" stroke-width="2.7"/>
<text x="173.7" y="2703.8" font-size="26.4" text-anchor="middle">3 Mon.</text>
<text x="269.4" y="2703.8" font-size="26.4" text-anchor="middle">20 Mon.</text>
<text x="359.5" y="2116.5" font-size="28" font-weight="bold">m</text>
<text x="527.5" y="2168.0" font-size="26.5" text-anchor="middle">BMDM</text>
<line x1="458.6" y1="2328.2" x2="458.6" y2="2568.2" stroke="#000" stroke-width="2.5"/>
<line x1="451.2" y1="2566.9" x2="458.6" y2="2566.9" stroke="#000" stroke-width="2.5"/>
<text x="442.9" y="2575.8" font-size="24.7" text-anchor="end">0</text>
<line x1="451.2" y1="2519.4" x2="458.6" y2="2519.4" stroke="#000" stroke-width="2.5"/>
<text x="442.9" y="2528.3" font-size="24.7" text-anchor="end">20</text>
<line x1="451.2" y1="2471.9" x2="458.6" y2="2471.9" stroke="#000" stroke-width="2.5"/>
<text x="442.9" y="2480.8" font-size="24.7" text-anchor="end">40</text>
<line x1="451.2" y1="2424.4" x2="458.6" y2="2424.4" stroke="#000" stroke-width="2.5"/>
<text x="442.9" y="2433.3" font-size="24.7" text-anchor="end">60</text>
<line x1="451.2" y1="2376.9" x2="458.6" y2="2376.9" stroke="#000" stroke-width="2.5"/>
<text x="442.9" y="2385.8" font-size="24.7" text-anchor="end">80</text>
<line x1="451.2" y1="2329.4" x2="458.6" y2="2329.4" stroke="#000" stroke-width="2.5"/>
<text x="442.9" y="2338.3" font-size="24.7" text-anchor="end">100</text>
<line x1="451.3" y1="2566.9" x2="654.4" y2="2566.9" stroke="#000" stroke-width="2.5"/>
<line x1="482.2" y1="2566.9" x2="482.2" y2="2574.3" stroke="#000" stroke-width="2.5"/>
<line x1="518.1" y1="2566.9" x2="518.1" y2="2574.3" stroke="#000" stroke-width="2.5"/>
<line x1="554.3" y1="2566.9" x2="554.3" y2="2574.3" stroke="#000" stroke-width="2.5"/>
<line x1="590.8" y1="2566.9" x2="590.8" y2="2574.3" stroke="#000" stroke-width="2.5"/>
<line x1="627.0" y1="2566.9" x2="627.0" y2="2574.3" stroke="#000" stroke-width="2.5"/>
<rect x="506.6" y="2419.7" width="23.0" height="147.2" fill="#d6d6d6" stroke="#000" stroke-width="1.6"/>
<line x1="518.1" y1="2419.7" x2="518.1" y2="2374.5" stroke="#000" stroke-width="2.4"/>
<line x1="512.6" y1="2374.5" x2="523.6" y2="2374.5" stroke="#000" stroke-width="2.4"/>
<rect x="579.3" y="2534.8" width="23.0" height="32.1" fill="#f09a9e" stroke="#000" stroke-width="1.6"/>
<line x1="590.8" y1="2534.8" x2="590.8" y2="2523.0" stroke="#000" stroke-width="2.4"/>
<line x1="585.3" y1="2523.0" x2="596.3" y2="2523.0" stroke="#000" stroke-width="2.4"/>
<rect x="615.5" y="2455.3" width="23.0" height="111.6" fill="#f0d8e6" stroke="#000" stroke-width="1.6"/>
<line x1="627.0" y1="2455.3" x2="627.0" y2="2424.4" stroke="#000" stroke-width="2.4"/>
<line x1="621.5" y1="2424.4" x2="632.5" y2="2424.4" stroke="#000" stroke-width="2.4"/>
<circle cx="475.4" cy="2565.7" r="5.3" fill="#fff" stroke="#000" stroke-width="1.5"/>
<circle cx="482.2" cy="2565.0" r="5.3" fill="#fff" stroke="#000" stroke-width="1.5"/>
<circle cx="488.7" cy="2565.5" r="5.3" fill="#fff" stroke="#000" stroke-width="1.5"/>
<circle cx="518.1" cy="2367.4" r="5.3" fill="#fff" stroke="#000" stroke-width="1.5"/>
<circle cx="511.6" cy="2446.2" r="5.3" fill="#fff" stroke="#000" stroke-width="1.5"/>
<circle cx="525.5" cy="2443.4" r="5.3" fill="#fff" stroke="#000" stroke-width="1.5"/>
<circle cx="547.5" cy="2566.2" r="5.3" fill="#fff" stroke="#000" stroke-width="1.5"/>
<circle cx="554.3" cy="2565.7" r="5.3" fill="#fff" stroke="#000" stroke-width="1.5"/>
<circle cx="561.4" cy="2566.2" r="5.3" fill="#fff" stroke="#000" stroke-width="1.5"/>
<circle cx="584.3" cy="2526.5" r="5.3" fill="#fff" stroke="#000" stroke-width="1.5"/>
<circle cx="597.6" cy="2530.1" r="5.3" fill="#fff" stroke="#000" stroke-width="1.5"/>
<circle cx="590.8" cy="2546.2" r="5.3" fill="#fff" stroke="#000" stroke-width="1.5"/>
<circle cx="621.1" cy="2435.8" r="5.3" fill="#fff" stroke="#000" stroke-width="1.5"/>
<circle cx="633.8" cy="2438.9" r="5.3" fill="#fff" stroke="#000" stroke-width="1.5"/>
<circle cx="627.0" cy="2489.7" r="5.3" fill="#fff" stroke="#000" stroke-width="1.5"/>
<text x="572.6" y="2260.2" font-size="22.5" text-anchor="middle">0.2743</text>
<line x1="518.7" y1="2280.0" x2="627.0" y2="2280.0" stroke="#000" stroke-width="2.7"/>
<text x="554.3" y="2318.2" font-size="22.5" text-anchor="middle">0.0005</text>
<line x1="518.7" y1="2337.9" x2="590.8" y2="2337.9" stroke="#000" stroke-width="2.7"/>
<text x="608.8" y="2386.8" font-size="22.5" text-anchor="middle">0.0080</text>
<line x1="590.8" y1="2407.0" x2="627.0" y2="2407.0" stroke="#000" stroke-width="2.7"/>
<text x="390" y="2436.7" font-size="26.6" text-anchor="middle" transform="rotate(-90 390 2436.7)"><tspan font-style="italic">Mx1</tspan> relative level</text>
<text x="445.4" y="2619.4" font-size="26.4" text-anchor="end">dsDNA:</text>
<text x="482.2" y="2624.9" font-size="26.4" text-anchor="middle">–</text>
<text x="518.1" y="2624.9" font-size="26.4" text-anchor="middle">+</text>
<text x="554.3" y="2624.9" font-size="26.4" text-anchor="middle">–</text>
<text x="590.8" y="2624.9" font-size="26.4" text-anchor="middle">+</text>
<text x="627.0" y="2624.9" font-size="26.4" text-anchor="middle">+</text>
<text x="445.4" y="2655.9" font-size="26.4" text-anchor="end">Pkm2:</text>
<text x="482.2" y="2655.9" font-size="26.4" text-anchor="middle">–</text>
<text x="518.1" y="2655.9" font-size="26.4" text-anchor="middle">–</text>
<text x="554.3" y="2655.9" font-size="26.4" text-anchor="middle">–</text>
<text x="590.8" y="2655.9" font-size="26.4" text-anchor="middle">–</text>
<text x="627.0" y="2655.9" font-size="26.4" text-anchor="middle">+</text>
<text x="445.4" y="2690.3" font-size="26.4" text-anchor="end">Serum:</text>
<line x1="473.4" y1="2666.4" x2="538.7" y2="2666.4" stroke="#000" stroke-width="2.7"/>
<line x1="545.2" y1="2666.4" x2="642.6" y2="2666.4" stroke="#000" stroke-width="2.7"/>
<text x="501.9" y="2705.3" font-size="26.4" text-anchor="middle">3 Mon.</text>
<text x="600.5" y="2705.3" font-size="26.4" text-anchor="middle">20 Mon.</text>
<text x="686.5" y="2115.4" font-size="28" font-weight="bold">n</text>
<text x="985.9" y="2246.9" font-size="26.5" text-anchor="middle">Serum</text>
<line x1="856.7" y1="2260.2" x2="1113.9" y2="2260.2" stroke="#000" stroke-width="2.7"/>
<text x="836.4" y="2344.0" font-size="26.6" transform="rotate(-45 836.4 2344.0)">3 Mon.</text>
<text x="891.9" y="2344.0" font-size="26.6" transform="rotate(-45 891.9 2344.0)">20 Mon.</text>
<text x="946.7" y="2344.0" font-size="26.6" transform="rotate(-45 946.7 2344.0)">3 Mon.</text>
<text x="1004.3" y="2345.2" font-size="26.6" transform="rotate(-45 1004.3 2345.2)">20 Mon.</text>
<text x="1054.3" y="2344.0" font-size="26.6" transform="rotate(-45 1054.3 2344.0)">20 Mon.</text>
<text x="786.4" y="2378.4" font-size="26.4" text-anchor="end">Pkm2:</text>
<text x="828.4" y="2378.4" font-size="26.4" text-anchor="middle">–</text>
<text x="881.9" y="2378.4" font-size="26.4" text-anchor="middle">–</text>
<text x="935.7" y="2378.4" font-size="26.4" text-anchor="middle">–</text>
<text x="988.9" y="2378.4" font-size="26.4" text-anchor="middle">–</text>
<text x="1042.1" y="2378.4" font-size="26.4" text-anchor="middle">+</text>
<text x="786.4" y="2416.5" font-size="26.4" text-anchor="end">dsDNA:</text>
<text x="828.4" y="2419.5" font-size="26.4" text-anchor="middle">–</text>
<text x="881.9" y="2419.5" font-size="26.4" text-anchor="middle">–</text>
<text x="935.7" y="2419.5" font-size="26.4" text-anchor="middle">+</text>
<text x="988.9" y="2419.5" font-size="26.4" text-anchor="middle">+</text>
<text x="1042.1" y="2419.5" font-size="26.4" text-anchor="middle">+</text>
<text x="1086.4" y="2428.7" font-size="25.4">kDa</text>
<rect x="803.2" y="2435.8" width="265.1" height="29.0" fill="#f7f7f7" stroke="#000" stroke-width="2.4"/>
<rect x="814.0" y="2448.0" width="16.0" height="5.0" rx="2.5" fill="#000" fill-opacity="0.12" filter="url(#bl3)"/>
<rect x="831.0" y="2448.0" width="14.0" height="5.0" rx="2.5" fill="#000" fill-opacity="0.12" filter="url(#bl3)"/>
<rect x="864.0" y="2447.8" width="40.0" height="5.5" rx="2.8" fill="#000" fill-opacity="0.80" filter="url(#bl3)"/>
<rect x="913.7" y="2444.8" width="44.0" height="9.5" rx="4.8" fill="#000" fill-opacity="1.00" filter="url(#bl3)"/>
<rect x="966.4" y="2447.2" width="42.0" height="6.5" rx="3.2" fill="#000" fill-opacity="0.92" filter="url(#bl3)"/>
<rect x="1017.6" y="2444.2" width="46.0" height="11.5" rx="5.8" fill="#000" fill-opacity="1.00" filter="url(#bl3)"/>
<text x="789.4" y="2462.7" font-size="26.4" text-anchor="end">p-TBK1</text>
<line x1="1069.5" y1="2463.3" x2="1075.0" y2="2463.3" stroke="#000" stroke-width="2.6"/>
<text x="1092.3" y="2463.3" font-size="26.4">75</text>
<rect x="803.2" y="2476.2" width="265.1" height="28.6" fill="#f7f7f7" stroke="#000" stroke-width="2.4"/>
<path d="M913.7,2484.0 Q935.7,2485.0 957.7,2484.0 Q960.2,2493.0 954.7,2496.0 Q935.7,2500.0 916.7,2496.0 Q911.2,2493.0 913.7,2484.0 Z" fill="#000" fill-opacity="1.00" filter="url(#bl3)"/>
<rect x="967.4" y="2488.5" width="40.0" height="5.0" rx="2.5" fill="#000" fill-opacity="0.10" filter="url(#bl3)"/>
<path d="M1016.6,2484.0 Q1040.6,2485.0 1064.6,2484.0 Q1067.1,2493.8 1061.6,2497.0 Q1040.6,2501.0 1019.6,2497.0 Q1014.1,2493.8 1016.6,2484.0 Z" fill="#000" fill-opacity="1.00" filter="url(#bl3)"/>
<text x="789.4" y="2502.6" font-size="26.4" text-anchor="end">p-STING</text>
<line x1="1069.5" y1="2483.3" x2="1075.0" y2="2483.3" stroke="#000" stroke-width="2.6"/>
<text x="1092.3" y="2492.2" font-size="26.4">45</text>
<rect x="803.2" y="2516.2" width="265.1" height="29.1" fill="#f7f7f7" stroke="#000" stroke-width="2.4"/>
<rect x="915.0" y="2525.0" width="22.0" height="10.0" rx="5.0" fill="#000" fill-opacity="1.00" filter="url(#bl3)"/>
<rect x="939.0" y="2525.2" width="20.0" height="9.5" rx="4.8" fill="#000" fill-opacity="1.00" filter="url(#bl3)"/>
<rect x="966.4" y="2526.5" width="42.0" height="9.0" rx="4.5" fill="#000" fill-opacity="0.06" filter="url(#bl3)"/>
<path d="M1016.6,2522.5 Q1040.6,2523.5 1064.6,2522.5 Q1067.1,2534.5 1061.6,2538.5 Q1040.6,2542.5 1019.6,2538.5 Q1014.1,2534.5 1016.6,2522.5 Z" fill="#000" fill-opacity="1.00" filter="url(#bl3)"/>
<text x="789.4" y="2542.5" font-size="26.4" text-anchor="end">p-IRF3</text>
<line x1="1069.5" y1="2539.5" x2="1075.0" y2="2539.5" stroke="#000" stroke-width="2.6"/>
<text x="1092.3" y="2541.0" font-size="26.4">45</text>
<rect x="803.2" y="2556.1" width="265.1" height="28.5" fill="#f7f7f7" stroke="#000" stroke-width="2.4"/>
<path d="M806.3,2564.0 Q829.3,2567.0 852.3,2564.0 Q854.8,2573.0 849.3,2576.0 Q829.3,2581.0 809.3,2576.0 Q803.8,2573.0 806.3,2564.0 Z" fill="#000" fill-opacity="0.95" filter="url(#bl3)"/>
<path d="M862.0,2563.0 Q884.0,2566.0 906.0,2563.0 Q908.5,2571.2 903.0,2574.0 Q884.0,2579.0 865.0,2574.0 Q859.5,2571.2 862.0,2563.0 Z" fill="#000" fill-opacity="0.95" filter="url(#bl3)"/>
<path d="M912.7,2564.5 Q935.7,2567.5 958.7,2564.5 Q961.2,2572.8 955.7,2575.5 Q935.7,2580.5 915.7,2575.5 Q910.2,2572.8 912.7,2564.5 Z" fill="#000" fill-opacity="0.95" filter="url(#bl3)"/>
<path d="M964.4,2566.0 Q987.4,2569.0 1010.4,2566.0 Q1012.9,2573.5 1007.4,2576.0 Q987.4,2581.0 967.4,2576.0 Q961.9,2573.5 964.4,2566.0 Z" fill="#000" fill-opacity="0.95" filter="url(#bl3)"/>
<path d="M1017.6,2564.5 Q1040.6,2567.5 1063.6,2564.5 Q1066.1,2572.0 1060.6,2574.5 Q1040.6,2579.5 1020.6,2574.5 Q1015.1,2572.0 1017.6,2564.5 Z" fill="#000" fill-opacity="0.95" filter="url(#bl3)"/>
<text x="789.4" y="2583.8" font-size="26.4" text-anchor="end">GAPDH</text>
<line x1="1069.5" y1="2580.9" x2="1075.0" y2="2580.9" stroke="#000" stroke-width="2.6"/>
<text x="1092.3" y="2583.8" font-size="26.4">35</text>
<text x="1150.0" y="2116.0" font-size="28" font-weight="bold">o</text>
<text x="1541.9" y="2214.0" font-size="30.2" text-anchor="middle">SASPs</text>
<line x1="1247.8" y1="2226.3" x2="1814.0" y2="2226.3" stroke="#000" stroke-width="2.7"/>
<text x="1318.9" y="2283.6" font-size="26.6" text-anchor="middle">IL-1α</text>
<text x="1516.4" y="2283.6" font-size="26.6" text-anchor="middle">CXCL1</text>
<text x="1742.9" y="2283.6" font-size="26.6" text-anchor="middle">CCL2</text>
<circle cx="1846.0" cy="2255.9" r="6.3" fill="#f08088" stroke="#000" stroke-width="1.5"/>
<circle cx="1846.0" cy="2295.2" r="6.3" fill="#44dd33" stroke="#000" stroke-width="1.5"/>
<text x="1869.3" y="2266.4" font-size="26.6">Veh</text>
<text x="1869.3" y="2305.7" font-size="26.6">PEP</text>
<text x="1186" y="2493.4" font-size="26.6" text-anchor="middle" transform="rotate(-90 1186 2493.4)">SASPs (pg/mL)</text>
<line x1="1250.5" y1="2362.4" x2="1250.5" y2="2637.2" stroke="#000" stroke-width="2.5"/>
<line x1="1241.2" y1="2636.0" x2="1250.5" y2="2636.0" stroke="#000" stroke-width="2.5"/>
<text x="1236.7" y="2645.2" font-size="25.6" text-anchor="end">0</text>
<line x1="1241.2" y1="2567.9" x2="1250.5" y2="2567.9" stroke="#000" stroke-width="2.5"/>
<text x="1236.7" y="2577.1" font-size="25.6" text-anchor="end">5</text>
<line x1="1241.2" y1="2499.8" x2="1250.5" y2="2499.8" stroke="#000" stroke-width="2.5"/>
<text x="1236.7" y="2509.1" font-size="25.6" text-anchor="end">10</text>
<line x1="1241.2" y1="2431.8" x2="1250.5" y2="2431.8" stroke="#000" stroke-width="2.5"/>
<text x="1236.7" y="2441.0" font-size="25.6" text-anchor="end">15</text>
<line x1="1241.2" y1="2363.7" x2="1250.5" y2="2363.7" stroke="#000" stroke-width="2.5"/>
<text x="1236.7" y="2372.9" font-size="25.6" text-anchor="end">20</text>
<line x1="1242.0" y1="2636.0" x2="1380.2" y2="2636.0" stroke="#000" stroke-width="2.5"/>
<line x1="1279.6" y1="2636.0" x2="1279.6" y2="2645.3" stroke="#000" stroke-width="2.5"/>
<line x1="1349.1" y1="2636.0" x2="1349.1" y2="2645.3" stroke="#000" stroke-width="2.5"/>
<rect x="1259.2" y="2537.1" width="16.3" height="4.4" fill="#000"/>
<rect x="1284.0" y="2534.4" width="16.0" height="4.4" fill="#000"/>
<rect x="1328.7" y="2420.7" width="16.3" height="4.4" fill="#000"/>
<rect x="1354.5" y="2518.8" width="16.3" height="4.4" fill="#000"/>
<circle cx="1267.3" cy="2522.0" r="5.1" fill="#ef7b82" stroke="#000" stroke-width="1.5"/>
<circle cx="1267.3" cy="2538.8" r="5.1" fill="#ef7b82" stroke="#000" stroke-width="1.5"/>
<circle cx="1267.3" cy="2560.6" r="5.1" fill="#ef7b82" stroke="#000" stroke-width="1.5"/>
<circle cx="1336.5" cy="2380.6" r="5.1" fill="#ef7b82" stroke="#000" stroke-width="1.5"/>
<circle cx="1333.8" cy="2415.4" r="5.1" fill="#ef7b82" stroke="#000" stroke-width="1.5"/>
<circle cx="1340.2" cy="2420.9" r="5.1" fill="#ef7b82" stroke="#000" stroke-width="1.5"/>
<circle cx="1336.5" cy="2426.3" r="5.1" fill="#ef7b82" stroke="#000" stroke-width="1.5"/>
<circle cx="1338.3" cy="2437.2" r="5.1" fill="#ef7b82" stroke="#000" stroke-width="1.5"/>
<circle cx="1335.3" cy="2444.0" r="5.1" fill="#ef7b82" stroke="#000" stroke-width="1.5"/>
<circle cx="1293.5" cy="2515.5" r="5.1" fill="#5ed88a" stroke="#000" stroke-width="1.5"/>
<circle cx="1291.0" cy="2541.2" r="5.1" fill="#5ed88a" stroke="#000" stroke-width="1.5"/>
<circle cx="1296.9" cy="2538.7" r="5.1" fill="#5ed88a" stroke="#000" stroke-width="1.5"/>
<circle cx="1359.4" cy="2501.1" r="5.1" fill="#5ed88a" stroke="#000" stroke-width="1.5"/>
<circle cx="1365.9" cy="2505.0" r="5.1" fill="#5ed88a" stroke="#000" stroke-width="1.5"/>
<circle cx="1365.6" cy="2517.7" r="5.1" fill="#5ed88a" stroke="#000" stroke-width="1.5"/>
<circle cx="1359.4" cy="2523.5" r="5.1" fill="#5ed88a" stroke="#000" stroke-width="1.5"/>
<circle cx="1365.6" cy="2534.2" r="5.1" fill="#5ed88a" stroke="#000" stroke-width="1.5"/>
<circle cx="1362.4" cy="2545.7" r="5.1" fill="#5ed88a" stroke="#000" stroke-width="1.5"/>
<text x="1349.4" y="2344.0" font-size="22.4" text-anchor="middle">&lt;0.0001</text>
<line x1="1336.8" y1="2364.7" x2="1364.1" y2="2364.7" stroke="#000" stroke-width="2.7"/>
<text x="1286.1" y="2664.0" font-size="26.4" text-anchor="end" transform="rotate(-45 1286.1 2664.0)">Ctrl</text>
<text x="1355.6" y="2664.0" font-size="26.4" text-anchor="end" transform="rotate(-45 1355.6 2664.0)">IR</text>
<line x1="1466.2" y1="2362.4" x2="1466.2" y2="2636.8" stroke="#000" stroke-width="2.5"/>
<line x1="1456.9" y1="2635.5" x2="1466.2" y2="2635.5" stroke="#000" stroke-width="2.5"/>
<text x="1452.4" y="2644.7" font-size="25.6" text-anchor="end">0</text>
<line x1="1456.9" y1="2544.9" x2="1466.2" y2="2544.9" stroke="#000" stroke-width="2.5"/>
<text x="1452.4" y="2554.1" font-size="25.6" text-anchor="end">200</text>
<line x1="1456.9" y1="2454.3" x2="1466.2" y2="2454.3" stroke="#000" stroke-width="2.5"/>
<text x="1452.4" y="2463.5" font-size="25.6" text-anchor="end">400</text>
<line x1="1456.9" y1="2363.7" x2="1466.2" y2="2363.7" stroke="#000" stroke-width="2.5"/>
<text x="1452.4" y="2372.9" font-size="25.6" text-anchor="end">600</text>
<line x1="1458.6" y1="2635.5" x2="1596.8" y2="2635.5" stroke="#000" stroke-width="2.5"/>
<line x1="1495.5" y1="2635.5" x2="1495.5" y2="2644.8" stroke="#000" stroke-width="2.5"/>
<line x1="1564.6" y1="2635.5" x2="1564.6" y2="2644.8" stroke="#000" stroke-width="2.5"/>
<rect x="1475.0" y="2597.1" width="16.0" height="4.4" fill="#000"/>
<rect x="1502.0" y="2598.9" width="16.0" height="4.4" fill="#000"/>
<rect x="1544.2" y="2473.8" width="16.3" height="4.4" fill="#000"/>
<rect x="1570.5" y="2520.1" width="16.0" height="4.4" fill="#000"/>
<circle cx="1483.3" cy="2581.1" r="5.1" fill="#ef7b82" stroke="#000" stroke-width="1.5"/>
<circle cx="1480.0" cy="2600.4" r="5.1" fill="#ef7b82" stroke="#000" stroke-width="1.5"/>
<circle cx="1486.6" cy="2599.7" r="5.1" fill="#ef7b82" stroke="#000" stroke-width="1.5"/>
<circle cx="1552.4" cy="2406.3" r="5.1" fill="#ef7b82" stroke="#000" stroke-width="1.5"/>
<circle cx="1555.8" cy="2454.3" r="5.1" fill="#ef7b82" stroke="#000" stroke-width="1.5"/>
<circle cx="1549.4" cy="2463.8" r="5.1" fill="#ef7b82" stroke="#000" stroke-width="1.5"/>
<circle cx="1549.4" cy="2487.8" r="5.1" fill="#ef7b82" stroke="#000" stroke-width="1.5"/>
<circle cx="1555.8" cy="2493.7" r="5.1" fill="#ef7b82" stroke="#000" stroke-width="1.5"/>
<circle cx="1549.4" cy="2499.6" r="5.1" fill="#ef7b82" stroke="#000" stroke-width="1.5"/>
<circle cx="1509.5" cy="2579.8" r="5.1" fill="#5ed88a" stroke="#000" stroke-width="1.5"/>
<circle cx="1506.5" cy="2603.3" r="5.1" fill="#5ed88a" stroke="#000" stroke-width="1.5"/>
<circle cx="1513.2" cy="2602.6" r="5.1" fill="#5ed88a" stroke="#000" stroke-width="1.5"/>
<circle cx="1578.5" cy="2484.4" r="5.1" fill="#5ed88a" stroke="#000" stroke-width="1.5"/>
<circle cx="1578.2" cy="2519.1" r="5.1" fill="#5ed88a" stroke="#000" stroke-width="1.5"/>
<circle cx="1581.9" cy="2521.3" r="5.1" fill="#5ed88a" stroke="#000" stroke-width="1.5"/>
<circle cx="1583.2" cy="2522.2" r="5.1" fill="#5ed88a" stroke="#000" stroke-width="1.5"/>
<circle cx="1575.6" cy="2523.6" r="5.1" fill="#5ed88a" stroke="#000" stroke-width="1.5"/>
<circle cx="1578.5" cy="2541.7" r="5.1" fill="#5ed88a" stroke="#000" stroke-width="1.5"/>
<text x="1566.1" y="2342.6" font-size="22.4" text-anchor="middle">0.0055</text>
<line x1="1552.8" y1="2362.8" x2="1580.0" y2="2362.8" stroke="#000" stroke-width="2.7"/>
<text x="1502.0" y="2663.5" font-size="26.4" text-anchor="end" transform="rotate(-45 1502.0 2663.5)">Ctrl</text>
<text x="1571.1" y="2663.5" font-size="26.4" text-anchor="end" transform="rotate(-45 1571.1 2663.5)">IR</text>
<line x1="1687.1" y1="2363.4" x2="1687.1" y2="2637.6" stroke="#000" stroke-width="2.5"/>
<line x1="1677.8" y1="2636.3" x2="1687.1" y2="2636.3" stroke="#000" stroke-width="2.5"/>
<text x="1673.3" y="2645.5" font-size="25.6" text-anchor="end">0</text>
<line x1="1677.8" y1="2582.0" x2="1687.1" y2="2582.0" stroke="#000" stroke-width="2.5"/>
<text x="1673.3" y="2591.2" font-size="25.6" text-anchor="end">200</text>
<line x1="1677.8" y1="2527.7" x2="1687.1" y2="2527.7" stroke="#000" stroke-width="2.5"/>
<text x="1673.3" y="2536.9" font-size="25.6" text-anchor="end">400</text>
<line x1="1677.8" y1="2473.3" x2="1687.1" y2="2473.3" stroke="#000" stroke-width="2.5"/>
<text x="1673.3" y="2482.6" font-size="25.6" text-anchor="end">600</text>
<line x1="1677.8" y1="2419.0" x2="1687.1" y2="2419.0" stroke="#000" stroke-width="2.5"/>
<text x="1673.3" y="2428.2" font-size="25.6" text-anchor="end">800</text>
<line x1="1677.8" y1="2364.7" x2="1687.1" y2="2364.7" stroke="#000" stroke-width="2.5"/>
<text x="1673.3" y="2373.9" font-size="25.6" text-anchor="end">1000</text>
<line x1="1678.2" y1="2636.3" x2="1817.4" y2="2636.3" stroke="#000" stroke-width="2.5"/>
<line x1="1716.2" y1="2636.3" x2="1716.2" y2="2645.6" stroke="#000" stroke-width="2.5"/>
<line x1="1785.7" y1="2636.3" x2="1785.7" y2="2645.6" stroke="#000" stroke-width="2.5"/>
<rect x="1697.0" y="2614.5" width="15.0" height="4.4" fill="#000"/>
<rect x="1722.0" y="2608.6" width="16.0" height="4.4" fill="#000"/>
<rect x="1765.4" y="2470.9" width="16.6" height="4.4" fill="#000"/>
<rect x="1791.1" y="2550.2" width="16.7" height="4.4" fill="#000"/>
<circle cx="1706.6" cy="2615.9" r="5.1" fill="#ef7b82" stroke="#000" stroke-width="1.5"/>
<circle cx="1701.9" cy="2620.4" r="5.1" fill="#ef7b82" stroke="#000" stroke-width="1.5"/>
<circle cx="1777.5" cy="2391.9" r="5.1" fill="#ef7b82" stroke="#000" stroke-width="1.5"/>
<circle cx="1770.9" cy="2392.9" r="5.1" fill="#ef7b82" stroke="#000" stroke-width="1.5"/>
<circle cx="1773.8" cy="2454.1" r="5.1" fill="#ef7b82" stroke="#000" stroke-width="1.5"/>
<circle cx="1773.8" cy="2491.4" r="5.1" fill="#ef7b82" stroke="#000" stroke-width="1.5"/>
<circle cx="1773.8" cy="2505.9" r="5.1" fill="#ef7b82" stroke="#000" stroke-width="1.5"/>
<circle cx="1773.8" cy="2533.9" r="5.1" fill="#ef7b82" stroke="#000" stroke-width="1.5"/>
<circle cx="1727.6" cy="2605.6" r="5.1" fill="#5ed88a" stroke="#000" stroke-width="1.5"/>
<circle cx="1733.5" cy="2610.0" r="5.1" fill="#5ed88a" stroke="#000" stroke-width="1.5"/>
<circle cx="1727.6" cy="2617.3" r="5.1" fill="#5ed88a" stroke="#000" stroke-width="1.5"/>
<circle cx="1799.7" cy="2506.2" r="5.1" fill="#5ed88a" stroke="#000" stroke-width="1.5"/>
<circle cx="1799.7" cy="2534.2" r="5.1" fill="#5ed88a" stroke="#000" stroke-width="1.5"/>
<circle cx="1799.7" cy="2545.6" r="5.1" fill="#5ed88a" stroke="#000" stroke-width="1.5"/>
<circle cx="1799.7" cy="2558.9" r="5.1" fill="#5ed88a" stroke="#000" stroke-width="1.5"/>
<circle cx="1799.7" cy="2581.2" r="5.1" fill="#5ed88a" stroke="#000" stroke-width="1.5"/>
<circle cx="1799.7" cy="2599.6" r="5.1" fill="#5ed88a" stroke="#000" stroke-width="1.5"/>
<text x="1786.4" y="2347.4" font-size="22.4" text-anchor="middle">0.0031</text>
<line x1="1773.8" y1="2368.1" x2="1801.2" y2="2368.1" stroke="#000" stroke-width="2.7"/>
<text x="1722.7" y="2664.3" font-size="26.4" text-anchor="end" transform="rotate(-45 1722.7 2664.3)">Ctrl</text>
<text x="1792.2" y="2664.3" font-size="26.4" text-anchor="end" transform="rotate(-45 1792.2 2664.3)">IR</text></svg></body></html>
